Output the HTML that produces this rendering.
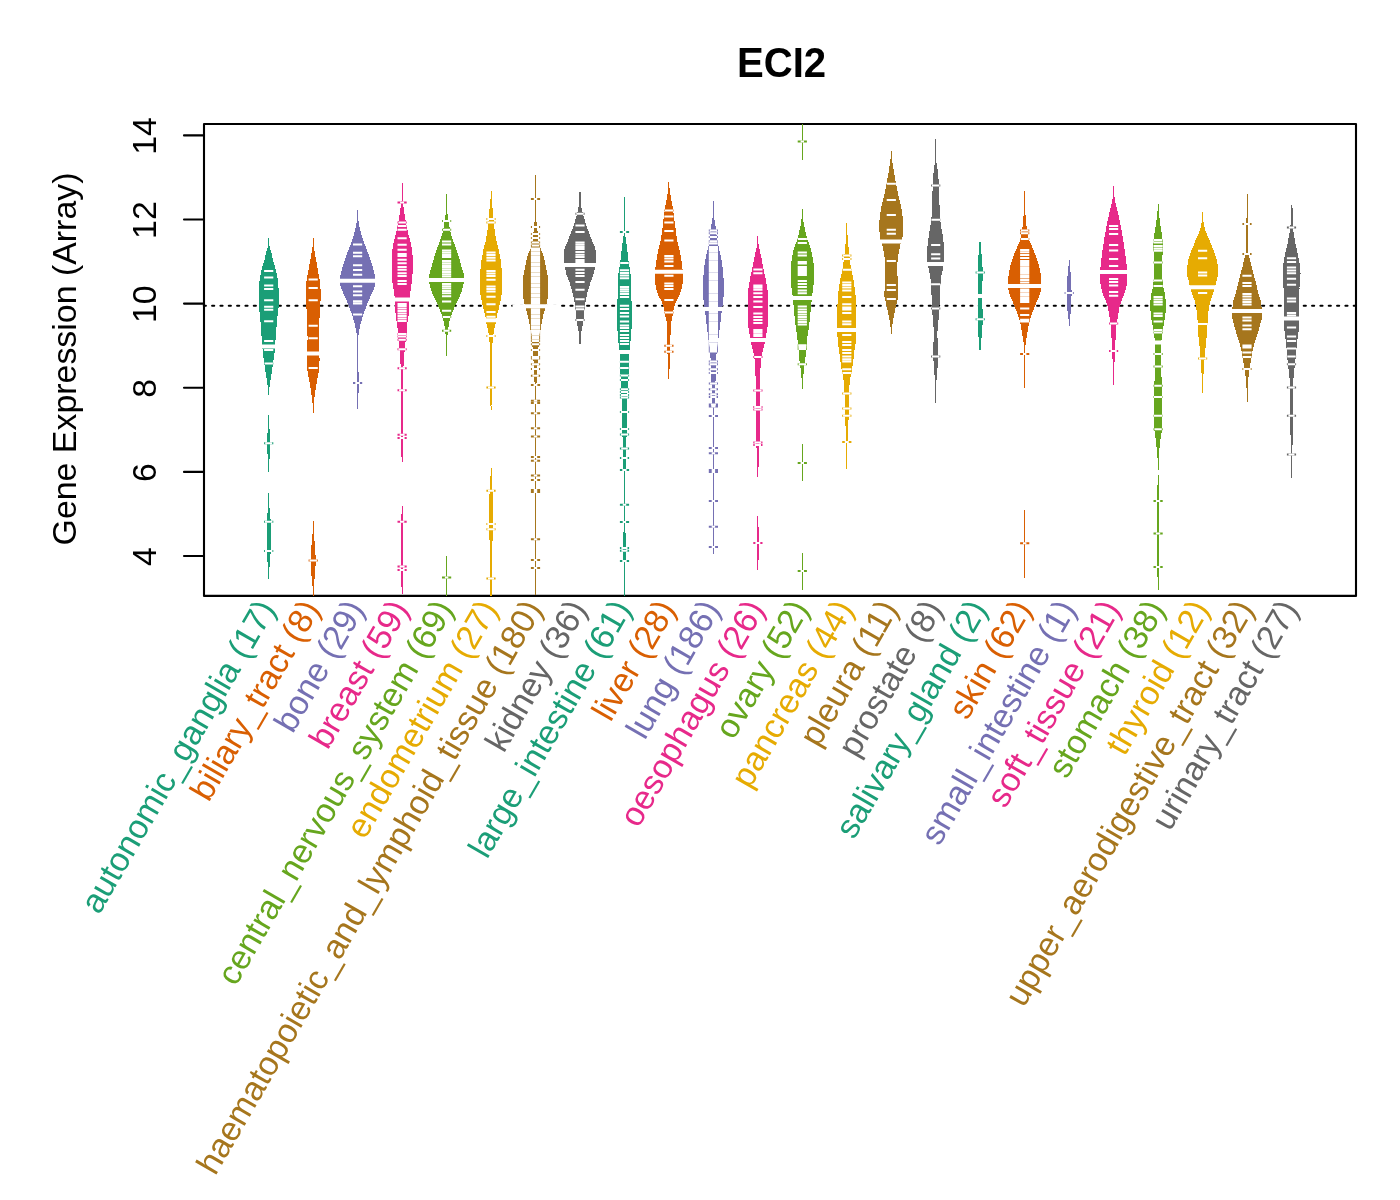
<!DOCTYPE html>
<html><head><meta charset="utf-8"><title>ECI2</title>
<style>html,body{margin:0;padding:0;background:#fff}svg{display:block}</style></head>
<body>
<svg width="1400" height="1200" viewBox="0 0 1400 1200" font-family="'Liberation Sans', sans-serif">
<rect width="1400" height="1200" fill="#fff"/>
<text transform="translate(781.5,76.9) scale(0.953,1)" font-size="42.1" font-weight="bold" text-anchor="middle">ECI2</text>
<rect x="204" y="123.95" width="1152" height="471.95" fill="none" stroke="#000" stroke-width="2.1" stroke-linejoin="round"/>
<line x1="203.8" x2="1356" y1="305.7" y2="305.7" stroke="#000" stroke-width="2.1" stroke-dasharray="2.083 6.25" stroke-linecap="round"/>
<clipPath id="plot"><rect x="204" y="123.95" width="1152" height="471.95"/></clipPath>
<g id="beans" clip-path="url(#plot)">
<g fill="#1B9E77" stroke="#1B9E77" stroke-width="1" shape-rendering="crispEdges"><polygon points="268.7,238.0 268.7,239.5 268.7,241.0 268.7,242.5 268.7,244.0 268.5,245.5 268.2,247.0 267.8,248.5 267.3,250.0 266.9,251.5 266.5,253.0 266.2,254.5 265.9,256.0 265.6,257.5 265.2,259.0 264.9,260.5 264.4,262.0 264.0,263.5 263.5,265.0 263.0,266.5 262.6,268.0 262.2,269.5 261.9,271.0 261.5,272.5 261.2,274.0 260.9,275.5 260.6,277.0 260.3,278.5 260.1,280.0 259.9,281.5 259.7,283.0 259.6,284.5 259.5,286.0 259.4,287.5 259.3,289.0 259.3,290.5 259.2,292.0 259.2,293.5 259.2,295.0 259.2,296.5 259.2,298.0 259.2,299.5 259.2,301.0 259.2,302.5 259.2,304.0 259.2,305.5 259.2,307.0 259.4,308.5 259.7,310.0 259.9,311.5 260.1,313.0 260.3,314.5 260.4,316.0 260.6,317.5 260.7,319.0 260.8,320.5 261.0,322.0 261.1,323.5 261.2,325.0 261.3,326.5 261.5,328.0 261.6,329.5 261.7,331.0 261.8,332.5 261.9,334.0 262.0,335.5 262.1,337.0 262.2,338.5 262.4,340.0 262.5,341.5 262.6,343.0 262.7,344.5 262.8,346.0 262.9,347.5 263.0,349.0 263.2,350.5 263.3,352.0 263.5,353.5 263.6,355.0 263.8,356.5 264.0,358.0 264.3,359.5 264.5,361.0 264.7,362.5 264.9,364.0 265.2,365.5 265.4,367.0 265.6,368.5 265.8,370.0 266.0,371.5 266.3,373.0 266.5,374.5 266.7,376.0 266.9,377.5 267.2,379.0 267.4,380.5 267.6,382.0 267.8,383.5 268.0,385.0 268.2,386.5 268.5,388.0 268.6,389.5 268.7,391.0 268.7,392.5 268.7,394.0 268.7,395.0 268.7,395.0 268.7,394.0 268.7,392.5 268.7,391.0 268.8,389.5 268.9,388.0 269.2,386.5 269.4,385.0 269.6,383.5 269.8,382.0 270.0,380.5 270.2,379.0 270.5,377.5 270.7,376.0 270.9,374.5 271.1,373.0 271.4,371.5 271.6,370.0 271.8,368.5 272.0,367.0 272.2,365.5 272.5,364.0 272.7,362.5 272.9,361.0 273.1,359.5 273.4,358.0 273.6,356.5 273.8,355.0 273.9,353.5 274.1,352.0 274.2,350.5 274.4,349.0 274.5,347.5 274.6,346.0 274.7,344.5 274.8,343.0 274.9,341.5 275.0,340.0 275.2,338.5 275.3,337.0 275.4,335.5 275.5,334.0 275.6,332.5 275.7,331.0 275.8,329.5 275.9,328.0 276.1,326.5 276.2,325.0 276.3,323.5 276.4,322.0 276.6,320.5 276.7,319.0 276.8,317.5 277.0,316.0 277.1,314.5 277.3,313.0 277.5,311.5 277.7,310.0 278.0,308.5 278.2,307.0 278.2,305.5 278.2,304.0 278.2,302.5 278.2,301.0 278.2,299.5 278.2,298.0 278.2,296.5 278.2,295.0 278.2,293.5 278.2,292.0 278.1,290.5 278.1,289.0 278.0,287.5 277.9,286.0 277.8,284.5 277.7,283.0 277.5,281.5 277.3,280.0 277.1,278.5 276.8,277.0 276.5,275.5 276.2,274.0 275.9,272.5 275.5,271.0 275.2,269.5 274.8,268.0 274.4,266.5 273.9,265.0 273.4,263.5 273.0,262.0 272.5,260.5 272.2,259.0 271.8,257.5 271.5,256.0 271.2,254.5 270.9,253.0 270.5,251.5 270.1,250.0 269.6,248.5 269.2,247.0 268.9,245.5 268.7,244.0 268.7,242.5 268.7,241.0 268.7,239.5 268.7,238.0"/><polygon points="268.7,415.0 268.7,416.5 268.7,418.0 268.7,419.5 268.7,421.0 268.7,422.5 268.7,424.0 268.7,425.5 268.6,427.0 268.4,428.5 268.3,430.0 268.2,431.5 268.0,433.0 267.9,434.5 267.8,436.0 267.7,437.5 267.6,439.0 267.6,440.5 267.5,442.0 267.5,443.5 267.5,445.0 267.6,446.5 267.7,448.0 267.8,449.5 267.8,451.0 267.9,452.5 268.0,454.0 268.1,455.5 268.2,457.0 268.3,458.5 268.5,460.0 268.6,461.5 268.7,463.0 268.7,464.5 268.7,466.0 268.7,467.5 268.7,469.0 268.7,470.5 268.7,471.7 268.7,471.7 268.7,470.5 268.7,469.0 268.7,467.5 268.7,466.0 268.7,464.5 268.7,463.0 268.8,461.5 268.9,460.0 269.1,458.5 269.2,457.0 269.3,455.5 269.4,454.0 269.5,452.5 269.6,451.0 269.6,449.5 269.7,448.0 269.8,446.5 269.9,445.0 269.9,443.5 269.9,442.0 269.8,440.5 269.8,439.0 269.7,437.5 269.6,436.0 269.5,434.5 269.4,433.0 269.2,431.5 269.1,430.0 269.0,428.5 268.8,427.0 268.7,425.5 268.7,424.0 268.7,422.5 268.7,421.0 268.7,419.5 268.7,418.0 268.7,416.5 268.7,415.0"/><polygon points="268.7,493.1 268.7,494.6 268.7,496.1 268.7,497.6 268.7,499.1 268.7,500.6 268.7,502.1 268.7,503.6 268.6,505.1 268.5,506.6 268.4,508.1 268.3,509.6 268.1,511.1 268.0,512.6 267.9,514.1 267.8,515.6 267.6,517.1 267.5,518.6 267.3,520.1 267.3,521.6 267.3,523.1 267.3,524.6 267.3,526.1 267.3,527.6 267.3,529.1 267.3,530.6 267.3,532.1 267.3,533.6 267.3,535.1 267.3,536.6 267.3,538.1 267.3,539.6 267.3,541.1 267.3,542.6 267.3,544.1 267.3,545.6 267.3,547.1 267.3,548.6 267.3,550.1 267.3,551.6 267.3,553.1 267.4,554.6 267.5,556.1 267.6,557.6 267.7,559.1 267.8,560.6 268.0,562.1 268.1,563.6 268.2,565.1 268.3,566.6 268.5,568.1 268.6,569.6 268.7,571.1 268.7,572.6 268.7,574.1 268.7,575.6 268.7,577.1 268.7,578.6 268.7,578.6 268.7,577.1 268.7,575.6 268.7,574.1 268.7,572.6 268.7,571.1 268.8,569.6 268.9,568.1 269.1,566.6 269.2,565.1 269.3,563.6 269.4,562.1 269.6,560.6 269.7,559.1 269.8,557.6 269.9,556.1 270.0,554.6 270.1,553.1 270.1,551.6 270.1,550.1 270.1,548.6 270.1,547.1 270.1,545.6 270.1,544.1 270.1,542.6 270.1,541.1 270.1,539.6 270.1,538.1 270.1,536.6 270.1,535.1 270.1,533.6 270.1,532.1 270.1,530.6 270.1,529.1 270.1,527.6 270.1,526.1 270.1,524.6 270.1,523.1 270.1,521.6 270.1,520.1 269.9,518.6 269.8,517.1 269.6,515.6 269.5,514.1 269.4,512.6 269.3,511.1 269.1,509.6 269.0,508.1 268.9,506.6 268.8,505.1 268.7,503.6 268.7,502.1 268.7,500.6 268.7,499.1 268.7,497.6 268.7,496.1 268.7,494.6 268.7,493.1"/></g>
<path d="M264.1 271.1h9.2M264.1 277.6h9.2M264.1 285.6h9.2M264.1 289.0h9.2M264.1 300.2h9.2M264.1 306.8h9.2M264.1 309.7h9.2M264.1 321.2h9.2M264.1 341.0h9.2M264.1 350.0h9.2M264.1 363.5h9.2M264.1 443.3h9.2M264.1 521.7h9.2M264.1 551.0h9.2" stroke="#1B9E77" stroke-width="2.0" fill="none"/>
<path d="M264.1 271.1h9.2M264.1 277.6h9.2M264.1 285.6h9.2M264.1 289.0h9.2M264.1 300.2h9.2M264.1 306.8h9.2M264.1 309.7h9.2M264.1 321.2h9.2M264.1 341.0h9.2M264.1 350.0h9.2M264.5 363.5h8.4M265.2 443.3h7.0M265.0 521.7h7.4M265.0 551.0h7.4" stroke="#fff" stroke-width="2.0" fill="none"/>
<path d="M245.7 346.4h46.0" stroke="#fff" stroke-width="4.0" fill="none"/>
<g fill="#D95F02" stroke="#D95F02" stroke-width="1" shape-rendering="crispEdges"><polygon points="313.2,238.0 313.2,239.5 313.2,241.0 313.2,242.5 313.2,244.0 313.2,245.5 313.0,247.0 312.8,248.5 312.5,250.0 312.3,251.5 312.0,253.0 311.8,254.5 311.5,256.0 311.2,257.5 311.0,259.0 310.7,260.5 310.4,262.0 310.2,263.5 309.9,265.0 309.6,266.5 309.4,268.0 309.1,269.5 308.8,271.0 308.5,272.5 308.2,274.0 307.9,275.5 307.7,277.0 307.4,278.5 307.2,280.0 307.0,281.5 306.8,283.0 306.7,284.5 306.5,286.0 306.4,287.5 306.3,289.0 306.2,290.5 306.1,292.0 306.1,293.5 306.1,295.0 306.1,296.5 306.2,298.0 306.3,299.5 306.4,301.0 306.5,302.5 306.7,304.0 306.8,305.5 306.9,307.0 307.0,308.5 307.1,310.0 307.2,311.5 307.2,313.0 307.3,314.5 307.3,316.0 307.4,317.5 307.4,319.0 307.5,320.5 307.5,322.0 307.6,323.5 307.6,325.0 307.7,326.5 307.7,328.0 307.8,329.5 307.8,331.0 307.9,332.5 307.9,334.0 308.0,335.5 308.0,337.0 308.0,338.5 308.0,340.0 307.9,341.5 307.9,343.0 307.9,344.5 307.9,346.0 307.8,347.5 307.8,349.0 307.8,350.5 307.7,352.0 307.6,353.5 307.5,355.0 307.4,356.5 307.4,358.0 307.4,359.5 307.4,361.0 307.4,362.5 307.5,364.0 307.5,365.5 307.6,367.0 307.7,368.5 307.9,370.0 308.1,371.5 308.4,373.0 308.6,374.5 308.9,376.0 309.2,377.5 309.5,379.0 309.7,380.5 310.0,382.0 310.2,383.5 310.5,385.0 310.7,386.5 311.0,388.0 311.2,389.5 311.5,391.0 311.7,392.5 311.9,394.0 312.1,395.5 312.3,397.0 312.5,398.5 312.7,400.0 312.8,401.5 313.0,403.0 313.1,404.5 313.2,406.0 313.2,407.5 313.2,409.0 313.2,410.5 313.2,412.0 313.2,412.9 313.2,412.9 313.2,412.0 313.2,410.5 313.2,409.0 313.2,407.5 313.2,406.0 313.2,404.5 313.3,403.0 313.5,401.5 313.7,400.0 313.8,398.5 314.0,397.0 314.2,395.5 314.4,394.0 314.6,392.5 314.9,391.0 315.1,389.5 315.3,388.0 315.6,386.5 315.9,385.0 316.1,383.5 316.4,382.0 316.6,380.5 316.9,379.0 317.1,377.5 317.4,376.0 317.7,374.5 318.0,373.0 318.2,371.5 318.4,370.0 318.6,368.5 318.7,367.0 318.8,365.5 318.9,364.0 318.9,362.5 319.0,361.0 319.0,359.5 319.0,358.0 318.9,356.5 318.8,355.0 318.7,353.5 318.6,352.0 318.6,350.5 318.5,349.0 318.5,347.5 318.5,346.0 318.4,344.5 318.4,343.0 318.4,341.5 318.4,340.0 318.4,338.5 318.4,337.0 318.4,335.5 318.4,334.0 318.5,332.5 318.5,331.0 318.6,329.5 318.6,328.0 318.7,326.5 318.7,325.0 318.8,323.5 318.8,322.0 318.9,320.5 318.9,319.0 319.0,317.5 319.0,316.0 319.1,314.5 319.1,313.0 319.2,311.5 319.2,310.0 319.3,308.5 319.4,307.0 319.5,305.5 319.7,304.0 319.8,302.5 320.0,301.0 320.1,299.5 320.2,298.0 320.2,296.5 320.3,295.0 320.2,293.5 320.2,292.0 320.1,290.5 320.0,289.0 319.9,287.5 319.8,286.0 319.7,284.5 319.5,283.0 319.3,281.5 319.1,280.0 318.9,278.5 318.7,277.0 318.4,275.5 318.1,274.0 317.8,272.5 317.5,271.0 317.2,269.5 317.0,268.0 316.7,266.5 316.4,265.0 316.2,263.5 315.9,262.0 315.6,260.5 315.4,259.0 315.1,257.5 314.8,256.0 314.6,254.5 314.3,253.0 314.1,251.5 313.8,250.0 313.5,248.5 313.3,247.0 313.2,245.5 313.2,244.0 313.2,242.5 313.2,241.0 313.2,239.5 313.2,238.0"/><polygon points="313.2,521.0 313.2,522.5 313.2,524.0 313.2,525.5 313.2,527.0 313.2,528.5 313.2,530.0 313.2,531.5 313.1,533.0 312.9,534.5 312.8,536.0 312.7,537.5 312.6,539.0 312.4,540.5 312.3,542.0 312.1,543.5 312.0,545.0 311.8,546.5 311.7,548.0 311.6,549.5 311.5,551.0 311.5,552.5 311.4,554.0 311.3,555.5 311.3,557.0 311.3,558.5 311.3,560.0 311.3,561.5 311.3,563.0 311.3,564.5 311.4,566.0 311.4,567.5 311.4,569.0 311.5,570.5 311.6,572.0 311.7,573.5 311.9,575.0 312.1,576.5 312.3,578.0 312.4,579.5 312.6,581.0 312.7,582.5 312.8,584.0 313.0,585.5 313.1,587.0 313.2,588.5 313.2,590.0 313.2,591.5 313.2,593.0 313.2,594.5 313.2,596.0 313.2,597.0 313.2,597.0 313.2,596.0 313.2,594.5 313.2,593.0 313.2,591.5 313.2,590.0 313.2,588.5 313.2,587.0 313.4,585.5 313.5,584.0 313.6,582.5 313.8,581.0 313.9,579.5 314.1,578.0 314.3,576.5 314.4,575.0 314.6,573.5 314.8,572.0 314.8,570.5 314.9,569.0 314.9,567.5 315.0,566.0 315.0,564.5 315.0,563.0 315.1,561.5 315.1,560.0 315.1,558.5 315.0,557.0 315.0,555.5 314.9,554.0 314.9,552.5 314.8,551.0 314.7,549.5 314.6,548.0 314.5,546.5 314.4,545.0 314.2,543.5 314.1,542.0 313.9,540.5 313.8,539.0 313.7,537.5 313.5,536.0 313.4,534.5 313.3,533.0 313.2,531.5 313.2,530.0 313.2,528.5 313.2,527.0 313.2,525.5 313.2,524.0 313.2,522.5 313.2,521.0"/></g>
<path d="M308.6 279.4h9.2M308.6 288.0h9.2M308.6 300.3h9.2M308.6 325.8h9.2M308.6 338.2h9.2M308.6 368.1h9.2M308.6 560.4h9.2" stroke="#D95F02" stroke-width="2.0" fill="none"/>
<path d="M308.6 279.4h9.2M308.6 288.0h9.2M308.6 300.3h9.2M308.6 325.8h9.2M308.6 338.2h9.2M308.6 368.1h9.2M309.5 560.4h7.4" stroke="#fff" stroke-width="2.0" fill="none"/>
<path d="M290.2 353.6h46.0" stroke="#fff" stroke-width="4.0" fill="none"/>
<g fill="#7570B3" stroke="#7570B3" stroke-width="1" shape-rendering="crispEdges"><polygon points="357.6,209.7 357.6,211.2 357.6,212.7 357.6,214.2 357.6,215.7 357.6,217.2 357.6,218.7 357.4,220.2 357.2,221.7 357.0,223.2 356.7,224.7 356.4,226.2 356.1,227.7 355.8,229.2 355.4,230.7 355.0,232.2 354.6,233.7 354.2,235.2 353.7,236.7 353.3,238.2 352.8,239.7 352.3,241.2 351.7,242.7 351.2,244.2 350.6,245.7 350.0,247.2 349.4,248.7 348.8,250.2 348.3,251.7 347.7,253.2 347.2,254.7 346.6,256.2 346.1,257.7 345.5,259.2 345.0,260.7 344.5,262.2 344.0,263.7 343.5,265.2 343.1,266.7 342.7,268.2 342.3,269.7 341.9,271.2 341.5,272.7 341.2,274.2 340.9,275.7 340.6,277.2 340.4,278.7 340.2,280.2 340.2,281.7 340.4,283.2 340.7,284.7 341.1,286.2 341.6,287.7 342.0,289.2 342.7,290.7 343.4,292.2 344.1,293.7 344.8,295.2 345.5,296.7 346.1,298.2 346.8,299.7 347.4,301.2 348.0,302.7 348.7,304.2 349.3,305.7 349.8,307.2 350.4,308.7 350.9,310.2 351.5,311.7 352.0,313.2 352.5,314.7 353.0,316.2 353.5,317.7 353.9,319.2 354.3,320.7 354.7,322.2 355.1,323.7 355.5,325.2 355.8,326.7 356.1,328.2 356.4,329.7 356.7,331.2 357.0,332.7 357.2,334.2 357.5,335.7 357.6,337.2 357.6,338.7 357.6,340.2 357.6,341.7 357.6,343.2 357.6,344.7 357.6,346.2 357.6,347.7 357.6,349.2 357.6,350.7 357.6,352.2 357.6,353.7 357.6,355.2 357.6,356.7 357.6,358.2 357.6,359.7 357.6,361.2 357.6,362.7 357.6,364.2 357.6,365.7 357.5,367.2 357.4,368.7 357.4,370.2 357.3,371.7 357.3,373.2 357.2,374.7 357.2,376.2 357.2,377.7 357.2,379.2 357.2,380.7 357.2,382.2 357.2,383.7 357.2,385.2 357.2,386.7 357.2,388.2 357.2,389.7 357.3,391.2 357.3,392.7 357.4,394.2 357.5,395.7 357.6,397.2 357.6,398.7 357.6,400.2 357.6,401.7 357.6,403.2 357.6,404.7 357.6,406.2 357.6,407.7 357.6,408.9 357.6,408.9 357.6,407.7 357.6,406.2 357.6,404.7 357.6,403.2 357.6,401.7 357.6,400.2 357.6,398.7 357.7,397.2 357.8,395.7 357.9,394.2 358.0,392.7 358.0,391.2 358.0,389.7 358.0,388.2 358.0,386.7 358.0,385.2 358.0,383.7 358.0,382.2 358.0,380.7 358.0,379.2 358.0,377.7 358.0,376.2 358.0,374.7 358.0,373.2 358.0,371.7 357.9,370.2 357.8,368.7 357.8,367.2 357.7,365.7 357.6,364.2 357.6,362.7 357.6,361.2 357.6,359.7 357.6,358.2 357.6,356.7 357.6,355.2 357.6,353.7 357.6,352.2 357.6,350.7 357.6,349.2 357.6,347.7 357.6,346.2 357.6,344.7 357.6,343.2 357.6,341.7 357.6,340.2 357.6,338.7 357.7,337.2 357.8,335.7 358.1,334.2 358.3,332.7 358.6,331.2 358.8,329.7 359.1,328.2 359.5,326.7 359.8,325.2 360.2,323.7 360.6,322.2 361.0,320.7 361.4,319.2 361.8,317.7 362.3,316.2 362.8,314.7 363.3,313.2 363.8,311.7 364.3,310.2 364.9,308.7 365.5,307.2 366.0,305.7 366.6,304.2 367.2,302.7 367.9,301.2 368.5,299.7 369.2,298.2 369.8,296.7 370.5,295.2 371.1,293.7 371.9,292.2 372.6,290.7 373.2,289.2 373.7,287.7 374.2,286.2 374.6,284.7 374.9,283.2 375.1,281.7 375.1,280.2 374.9,278.7 374.7,277.2 374.4,275.7 374.1,274.2 373.8,272.7 373.4,271.2 373.0,269.7 372.6,268.2 372.2,266.7 371.8,265.2 371.3,263.7 370.8,262.2 370.3,260.7 369.7,259.2 369.2,257.7 368.6,256.2 368.1,254.7 367.6,253.2 367.0,251.7 366.5,250.2 365.9,248.7 365.3,247.2 364.7,245.7 364.1,244.2 363.5,242.7 363.0,241.2 362.5,239.7 362.0,238.2 361.6,236.7 361.1,235.2 360.7,233.7 360.3,232.2 359.9,230.7 359.5,229.2 359.2,227.7 358.8,226.2 358.6,224.7 358.3,223.2 358.1,221.7 357.9,220.2 357.7,218.7 357.6,217.2 357.6,215.7 357.6,214.2 357.6,212.7 357.6,211.2 357.6,209.7"/></g>
<path d="M353.0 244.4h9.2M353.0 252.7h9.2M353.0 256.3h9.2M353.0 265.3h9.2M353.0 269.9h9.2M353.0 274.7h9.2M353.0 286.3h9.2M353.0 291.5h9.2M353.0 295.3h9.2M353.0 301.2h9.2M353.0 303.6h9.2M353.0 314.5h9.2M353.0 383.1h9.2" stroke="#7570B3" stroke-width="2.0" fill="none"/>
<path d="M353.0 244.4h9.2M353.0 252.7h9.2M353.0 256.3h9.2M353.0 265.3h9.2M353.0 269.9h9.2M353.0 274.7h9.2M353.0 286.3h9.2M353.0 291.5h9.2M353.0 295.3h9.2M353.0 301.2h9.2M353.0 303.6h9.2M353.0 314.5h9.2M355.3 383.1h4.6" stroke="#fff" stroke-width="2.0" fill="none"/>
<path d="M334.6 280.8h46.0" stroke="#fff" stroke-width="4.0" fill="none"/>
<g fill="#E7298A" stroke="#E7298A" stroke-width="1" shape-rendering="crispEdges"><polygon points="402.1,182.9 402.1,184.4 402.1,185.9 402.1,187.4 402.1,188.9 402.1,190.4 402.1,191.9 402.1,193.4 402.1,194.9 402.1,196.4 402.1,197.9 402.0,199.4 402.0,200.9 401.9,202.4 401.7,203.9 401.5,205.4 401.3,206.9 401.0,208.4 400.8,209.9 400.6,211.4 400.3,212.9 400.1,214.4 399.9,215.9 399.6,217.4 399.4,218.9 399.1,220.4 398.8,221.9 398.6,223.4 398.3,224.9 398.0,226.4 397.7,227.9 397.4,229.4 397.1,230.9 396.8,232.4 396.4,233.9 396.0,235.4 395.6,236.9 395.2,238.4 394.7,239.9 394.3,241.4 394.0,242.9 393.7,244.4 393.4,245.9 393.2,247.4 393.0,248.9 392.8,250.4 392.6,251.9 392.4,253.4 392.2,254.9 392.1,256.4 392.0,257.9 392.0,259.4 392.0,260.9 392.0,262.4 392.0,263.9 392.0,265.4 392.1,266.9 392.1,268.4 392.1,269.9 392.1,271.4 392.2,272.9 392.2,274.4 392.3,275.9 392.4,277.4 392.6,278.9 392.7,280.4 392.9,281.9 393.1,283.4 393.3,284.9 393.6,286.4 393.8,287.9 394.0,289.4 394.2,290.9 394.5,292.4 394.7,293.9 394.9,295.4 395.1,296.9 395.2,298.4 395.3,299.9 395.4,301.4 395.4,302.9 395.5,304.4 395.5,305.9 395.6,307.4 395.7,308.9 395.8,310.4 395.9,311.9 396.0,313.4 396.2,314.9 396.3,316.4 396.5,317.9 396.7,319.4 397.0,320.9 397.2,322.4 397.5,323.9 397.7,325.4 397.9,326.9 398.0,328.4 398.1,329.9 398.2,331.4 398.3,332.9 398.3,334.4 398.4,335.9 398.6,337.4 398.7,338.9 398.9,340.4 399.2,341.9 399.4,343.4 399.6,344.9 399.7,346.4 399.8,347.9 399.9,349.4 400.1,350.9 400.2,352.4 400.3,353.9 400.4,355.4 400.5,356.9 400.6,358.4 400.7,359.9 400.8,361.4 400.9,362.9 401.0,364.4 401.2,365.9 401.3,367.4 401.4,368.9 401.5,370.4 401.6,371.9 401.6,373.4 401.6,374.9 401.7,376.4 401.7,377.9 401.7,379.4 401.7,380.9 401.7,382.4 401.7,383.9 401.7,385.4 401.8,386.9 401.8,388.4 401.8,389.9 401.8,391.4 401.8,392.9 401.8,394.4 401.8,395.9 401.8,397.4 401.8,398.9 401.8,400.4 401.8,401.9 401.8,403.4 401.8,404.9 401.8,406.4 401.8,407.9 401.8,409.4 401.8,410.9 401.8,412.4 401.8,413.9 401.8,415.4 401.8,416.9 401.8,418.4 401.8,419.9 401.8,421.4 401.7,422.9 401.7,424.4 401.7,425.9 401.7,427.4 401.7,428.9 401.7,430.4 401.6,431.9 401.6,433.4 401.6,434.9 401.6,436.4 401.6,437.9 401.6,439.4 401.6,440.9 401.7,442.4 401.7,443.9 401.7,445.4 401.7,446.9 401.8,448.4 401.8,449.9 401.8,451.4 401.9,452.9 401.9,454.4 401.9,455.9 402.0,457.4 402.1,458.9 402.1,460.4 402.1,461.7 402.1,461.7 402.1,460.4 402.1,458.9 402.2,457.4 402.3,455.9 402.3,454.4 402.4,452.9 402.4,451.4 402.4,449.9 402.4,448.4 402.5,446.9 402.5,445.4 402.5,443.9 402.6,442.4 402.6,440.9 402.6,439.4 402.6,437.9 402.6,436.4 402.6,434.9 402.6,433.4 402.6,431.9 402.6,430.4 402.5,428.9 402.5,427.4 402.5,425.9 402.5,424.4 402.5,422.9 402.5,421.4 402.5,419.9 402.5,418.4 402.5,416.9 402.5,415.4 402.5,413.9 402.5,412.4 402.5,410.9 402.5,409.4 402.5,407.9 402.5,406.4 402.5,404.9 402.5,403.4 402.5,401.9 402.5,400.4 402.5,398.9 402.5,397.4 402.5,395.9 402.5,394.4 402.5,392.9 402.5,391.4 402.5,389.9 402.5,388.4 402.5,386.9 402.5,385.4 402.5,383.9 402.5,382.4 402.5,380.9 402.5,379.4 402.5,377.9 402.6,376.4 402.6,374.9 402.6,373.4 402.6,371.9 402.7,370.4 402.8,368.9 402.9,367.4 403.0,365.9 403.2,364.4 403.3,362.9 403.4,361.4 403.6,359.9 403.7,358.4 403.7,356.9 403.8,355.4 403.9,353.9 404.0,352.4 404.1,350.9 404.3,349.4 404.4,347.9 404.5,346.4 404.6,344.9 404.8,343.4 405.0,341.9 405.3,340.4 405.5,338.9 405.7,337.4 405.8,335.9 405.9,334.4 406.0,332.9 406.1,331.4 406.1,329.9 406.2,328.4 406.4,326.9 406.5,325.4 406.7,323.9 407.0,322.4 407.2,320.9 407.5,319.4 407.7,317.9 407.9,316.4 408.1,314.9 408.2,313.4 408.3,311.9 408.4,310.4 408.5,308.9 408.6,307.4 408.7,305.9 408.7,304.4 408.8,302.9 408.9,301.4 408.9,299.9 409.0,298.4 409.1,296.9 409.3,295.4 409.5,293.9 409.7,292.4 410.0,290.9 410.3,289.4 410.5,287.9 410.7,286.4 410.9,284.9 411.1,283.4 411.3,281.9 411.5,280.4 411.7,278.9 411.8,277.4 411.9,275.9 412.0,274.4 412.0,272.9 412.1,271.4 412.1,269.9 412.1,268.4 412.2,266.9 412.2,265.4 412.2,263.9 412.2,262.4 412.2,260.9 412.2,259.4 412.2,257.9 412.1,256.4 412.0,254.9 411.8,253.4 411.6,251.9 411.4,250.4 411.2,248.9 411.0,247.4 410.8,245.9 410.5,244.4 410.2,242.9 409.9,241.4 409.5,239.9 409.1,238.4 408.6,236.9 408.2,235.4 407.8,233.9 407.5,232.4 407.1,230.9 406.8,229.4 406.5,227.9 406.2,226.4 405.9,224.9 405.6,223.4 405.4,221.9 405.1,220.4 404.8,218.9 404.6,217.4 404.4,215.9 404.1,214.4 403.9,212.9 403.7,211.4 403.4,209.9 403.2,208.4 403.0,206.9 402.7,205.4 402.5,203.9 402.3,202.4 402.2,200.9 402.2,199.4 402.1,197.9 402.1,196.4 402.1,194.9 402.1,193.4 402.1,191.9 402.1,190.4 402.1,188.9 402.1,187.4 402.1,185.9 402.1,184.4 402.1,182.9"/><polygon points="402.1,506.1 402.1,507.6 402.1,509.1 402.1,510.6 402.0,512.1 402.0,513.6 401.9,515.1 401.9,516.6 401.8,518.1 401.8,519.6 401.8,521.1 401.8,522.6 401.8,524.1 401.8,525.6 401.8,527.1 401.8,528.6 401.8,530.1 401.8,531.6 401.8,533.1 401.8,534.6 401.8,536.1 401.8,537.6 401.8,539.1 401.8,540.6 401.8,542.1 401.8,543.6 401.8,545.1 401.8,546.6 401.8,548.1 401.8,549.6 401.8,551.1 401.8,552.6 401.8,554.1 401.8,555.6 401.7,557.1 401.7,558.6 401.7,560.1 401.7,561.6 401.6,563.1 401.6,564.6 401.6,566.1 401.6,567.6 401.6,569.1 401.6,570.6 401.6,572.1 401.6,573.6 401.7,575.1 401.7,576.6 401.7,578.1 401.8,579.6 401.8,581.1 401.8,582.6 401.9,584.1 401.9,585.6 402.0,587.1 402.1,588.6 402.1,590.1 402.1,591.6 402.1,593.1 402.1,594.0 402.1,594.0 402.1,593.1 402.1,591.6 402.1,590.1 402.1,588.6 402.2,587.1 402.3,585.6 402.3,584.1 402.4,582.6 402.4,581.1 402.5,579.6 402.5,578.1 402.5,576.6 402.5,575.1 402.6,573.6 402.6,572.1 402.6,570.6 402.6,569.1 402.6,567.6 402.6,566.1 402.6,564.6 402.6,563.1 402.6,561.6 402.5,560.1 402.5,558.6 402.5,557.1 402.5,555.6 402.4,554.1 402.4,552.6 402.4,551.1 402.4,549.6 402.4,548.1 402.4,546.6 402.4,545.1 402.4,543.6 402.4,542.1 402.4,540.6 402.4,539.1 402.4,537.6 402.4,536.1 402.4,534.6 402.4,533.1 402.4,531.6 402.4,530.1 402.4,528.6 402.4,527.1 402.4,525.6 402.4,524.1 402.4,522.6 402.4,521.1 402.4,519.6 402.4,518.1 402.4,516.6 402.3,515.1 402.3,513.6 402.2,512.1 402.1,510.6 402.1,509.1 402.1,507.6 402.1,506.1"/></g>
<path d="M397.5 202.6h9.2M397.5 222.6h9.2M397.5 226.1h9.2M397.5 229.7h9.2M397.5 238.3h9.2M397.5 244.7h9.2M397.5 249.7h9.2M397.5 254.0h9.2M397.5 256.1h9.2M397.5 259.7h9.2M397.5 263.3h9.2M397.5 266.9h9.2M397.5 269.7h9.2M397.5 273.3h9.2M397.5 276.1h9.2M397.5 281.1h9.2M397.5 284.0h9.2M397.5 304.0h9.2M397.5 306.0h9.2M397.5 308.5h9.2M397.5 311.0h9.2M397.5 313.5h9.2M397.5 316.0h9.2M397.5 318.5h9.2M397.5 321.0h9.2M397.5 333.9h9.2M397.5 336.4h9.2M397.5 339.7h9.2M397.5 349.3h9.2M397.5 368.3h9.2M397.5 390.3h9.2M397.5 434.7h9.2M397.5 437.9h9.2M397.5 521.7h9.2M397.5 566.4h9.2M397.5 570.0h9.2" stroke="#E7298A" stroke-width="2.0" fill="none"/>
<path d="M400.1 202.6h4.0M398.4 222.6h7.5M397.7 226.1h8.8M397.5 229.7h9.2M397.5 238.3h9.2M397.5 244.7h9.2M397.5 249.7h9.2M397.5 254.0h9.2M397.5 256.1h9.2M397.5 259.7h9.2M397.5 263.3h9.2M397.5 266.9h9.2M397.5 269.7h9.2M397.5 273.3h9.2M397.5 276.1h9.2M397.5 281.1h9.2M397.5 284.0h9.2M397.5 304.0h9.2M397.5 306.0h9.2M397.5 308.5h9.2M397.5 311.0h9.2M397.5 313.5h9.2M397.5 316.0h9.2M397.5 318.5h9.2M397.5 321.0h9.2M397.9 333.9h8.5M398.0 336.4h8.1M398.4 339.7h7.4M398.4 349.3h7.4M399.1 368.3h6.0M399.1 390.3h6.0M399.7 434.7h4.9M399.7 437.9h4.9M400.0 521.7h4.3M399.7 566.4h4.9M399.7 570.0h4.9" stroke="#fff" stroke-width="2.0" fill="none"/>
<path d="M379.1 299.5h46.0" stroke="#fff" stroke-width="4.0" fill="none"/>
<g fill="#66A61E" stroke="#66A61E" stroke-width="1" shape-rendering="crispEdges"><polygon points="446.6,194.0 446.6,195.5 446.6,197.0 446.6,198.5 446.6,200.0 446.6,201.5 446.6,203.0 446.6,204.5 446.6,206.0 446.6,207.5 446.6,209.0 446.5,210.5 446.4,212.0 446.2,213.5 446.0,215.0 445.7,216.5 445.5,218.0 445.3,219.5 445.1,221.0 444.9,222.5 444.7,224.0 444.5,225.5 444.2,227.0 444.0,228.5 443.7,230.0 443.4,231.5 443.0,233.0 442.6,234.5 442.1,236.0 441.6,237.5 441.2,239.0 440.6,240.5 440.1,242.0 439.5,243.5 439.0,245.0 438.4,246.5 437.8,248.0 437.3,249.5 436.7,251.0 436.2,252.5 435.7,254.0 435.3,255.5 434.8,257.0 434.4,258.5 434.0,260.0 433.5,261.5 433.1,263.0 432.7,264.5 432.3,266.0 431.9,267.5 431.5,269.0 431.0,270.5 430.5,272.0 430.1,273.5 429.8,275.0 429.7,276.5 429.7,278.0 429.7,279.5 429.7,281.0 429.8,282.5 430.0,284.0 430.4,285.5 430.8,287.0 431.2,288.5 431.6,290.0 432.1,291.5 432.7,293.0 433.3,294.5 433.9,296.0 434.6,297.5 435.4,299.0 436.2,300.5 436.9,302.0 437.6,303.5 438.3,305.0 438.9,306.5 439.5,308.0 440.2,309.5 440.8,311.0 441.4,312.5 442.0,314.0 442.5,315.5 443.0,317.0 443.4,318.5 443.9,320.0 444.2,321.5 444.6,323.0 444.8,324.5 445.0,326.0 445.2,327.5 445.4,329.0 445.6,330.5 445.7,332.0 445.9,333.5 446.1,335.0 446.3,336.5 446.4,338.0 446.4,339.5 446.5,341.0 446.5,342.5 446.5,344.0 446.6,345.5 446.6,347.0 446.6,348.5 446.6,350.0 446.6,351.5 446.6,353.0 446.6,354.5 446.6,356.0 446.6,356.0 446.6,354.5 446.6,353.0 446.6,351.5 446.6,350.0 446.6,348.5 446.6,347.0 446.6,345.5 446.6,344.0 446.6,342.5 446.7,341.0 446.7,339.5 446.8,338.0 446.9,336.5 447.0,335.0 447.2,333.5 447.4,332.0 447.6,330.5 447.8,329.0 447.9,327.5 448.1,326.0 448.3,324.5 448.6,323.0 448.9,321.5 449.3,320.0 449.7,318.5 450.2,317.0 450.7,315.5 451.2,314.0 451.8,312.5 452.4,311.0 453.0,309.5 453.6,308.0 454.2,306.5 454.9,305.0 455.5,303.5 456.2,302.0 457.0,300.5 457.7,299.0 458.5,297.5 459.2,296.0 459.9,294.5 460.5,293.0 461.0,291.5 461.5,290.0 461.9,288.5 462.3,287.0 462.7,285.5 463.1,284.0 463.4,282.5 463.5,281.0 463.5,279.5 463.5,278.0 463.5,276.5 463.3,275.0 463.0,273.5 462.6,272.0 462.2,270.5 461.7,269.0 461.2,267.5 460.8,266.0 460.4,264.5 460.0,263.0 459.6,261.5 459.2,260.0 458.8,258.5 458.3,257.0 457.9,255.5 457.4,254.0 456.9,252.5 456.4,251.0 455.9,249.5 455.3,248.0 454.8,246.5 454.2,245.0 453.6,243.5 453.1,242.0 452.5,240.5 452.0,239.0 451.5,237.5 451.1,236.0 450.6,234.5 450.2,233.0 449.8,231.5 449.4,230.0 449.2,228.5 448.9,227.0 448.7,225.5 448.5,224.0 448.3,222.5 448.0,221.0 447.8,219.5 447.6,218.0 447.4,216.5 447.2,215.0 447.0,213.5 446.8,212.0 446.6,210.5 446.6,209.0 446.6,207.5 446.6,206.0 446.6,204.5 446.6,203.0 446.6,201.5 446.6,200.0 446.6,198.5 446.6,197.0 446.6,195.5 446.6,194.0"/><polygon points="446.6,556.0 446.6,557.5 446.6,559.0 446.6,560.5 446.6,562.0 446.6,563.5 446.6,565.0 446.6,566.5 446.6,568.0 446.6,569.5 446.6,571.0 446.6,572.5 446.6,574.0 446.6,575.5 446.6,577.0 446.6,578.5 446.6,580.0 446.6,581.5 446.6,583.0 446.6,584.5 446.6,586.0 446.6,587.5 446.6,589.0 446.6,590.5 446.6,592.0 446.6,593.5 446.6,595.0 446.6,596.5 446.6,597.0 446.6,597.0 446.6,596.5 446.6,595.0 446.6,593.5 446.6,592.0 446.6,590.5 446.6,589.0 446.6,587.5 446.6,586.0 446.6,584.5 446.6,583.0 446.6,581.5 446.6,580.0 446.6,578.5 446.6,577.0 446.6,575.5 446.6,574.0 446.6,572.5 446.6,571.0 446.6,569.5 446.6,568.0 446.6,566.5 446.6,565.0 446.6,563.5 446.6,562.0 446.6,560.5 446.6,559.0 446.6,557.5 446.6,556.0"/></g>
<path d="M442.0 221.1h9.2M442.0 229.7h9.2M442.0 241.4h9.2M442.0 244.4h9.2M442.0 250.5h9.2M442.0 252.7h9.2M442.0 254.9h9.2M442.0 257.1h9.2M442.0 261.0h9.2M442.0 263.2h9.2M442.0 265.4h9.2M442.0 267.6h9.2M442.0 269.8h9.2M442.0 272.0h9.2M442.0 274.2h9.2M442.0 276.4h9.2M442.0 284.0h9.2M442.0 286.3h9.2M442.0 288.6h9.2M442.0 290.9h9.2M442.0 293.2h9.2M442.0 296.3h9.2M442.0 301.4h9.2M442.0 310.7h9.2M442.0 317.0h9.2M442.0 330.7h9.2M442.0 577.4h9.2" stroke="#66A61E" stroke-width="2.0" fill="none"/>
<path d="M442.9 221.1h7.4M442.9 229.7h7.4M442.0 241.4h9.2M442.0 244.4h9.2M442.0 250.5h9.2M442.0 252.7h9.2M442.0 254.9h9.2M442.0 257.1h9.2M442.0 261.0h9.2M442.0 263.2h9.2M442.0 265.4h9.2M442.0 267.6h9.2M442.0 269.8h9.2M442.0 272.0h9.2M442.0 274.2h9.2M442.0 276.4h9.2M442.0 284.0h9.2M442.0 286.3h9.2M442.0 288.6h9.2M442.0 290.9h9.2M442.0 293.2h9.2M442.0 296.3h9.2M442.0 301.4h9.2M442.0 310.7h9.2M442.7 317.0h7.7M443.5 330.7h6.1M444.9 577.4h3.4" stroke="#fff" stroke-width="2.0" fill="none"/>
<path d="M423.6 280.0h46.0" stroke="#fff" stroke-width="4.0" fill="none"/>
<g fill="#E6AB02" stroke="#E6AB02" stroke-width="1" shape-rendering="crispEdges"><polygon points="491.0,191.1 491.0,192.6 491.0,194.1 491.0,195.6 491.0,197.1 491.0,198.6 490.9,200.1 490.8,201.6 490.7,203.1 490.5,204.6 490.3,206.1 490.2,207.6 490.0,209.1 489.9,210.6 489.8,212.1 489.6,213.6 489.5,215.1 489.4,216.6 489.3,218.1 489.2,219.6 489.0,221.1 488.9,222.6 488.7,224.1 488.5,225.6 488.4,227.1 488.2,228.6 487.9,230.1 487.7,231.6 487.5,233.1 487.3,234.6 487.0,236.1 486.8,237.6 486.5,239.1 486.2,240.6 485.9,242.1 485.5,243.6 485.1,245.1 484.7,246.6 484.3,248.1 484.0,249.6 483.6,251.1 483.3,252.6 483.1,254.1 482.8,255.6 482.5,257.1 482.2,258.6 482.0,260.1 481.8,261.6 481.5,263.1 481.4,264.6 481.2,266.1 481.1,267.6 481.0,269.1 480.9,270.6 480.8,272.1 480.7,273.6 480.6,275.1 480.5,276.6 480.5,278.1 480.5,279.6 480.4,281.1 480.5,282.6 480.5,284.1 480.5,285.6 480.6,287.1 480.6,288.6 480.7,290.1 480.8,291.6 480.9,293.1 481.0,294.6 481.2,296.1 481.4,297.6 481.8,299.1 482.1,300.6 482.4,302.1 482.8,303.6 483.1,305.1 483.4,306.6 483.8,308.1 484.1,309.6 484.5,311.1 484.9,312.6 485.3,314.1 485.7,315.6 486.0,317.1 486.2,318.6 486.4,320.1 486.6,321.6 486.9,323.1 487.2,324.6 487.5,326.1 487.9,327.6 488.3,329.1 488.6,330.6 488.9,332.1 489.1,333.6 489.2,335.1 489.4,336.6 489.6,338.1 489.7,339.6 489.9,341.1 490.1,342.6 490.2,344.1 490.3,345.6 490.3,347.1 490.4,348.6 490.5,350.1 490.5,351.6 490.5,353.1 490.5,354.6 490.5,356.1 490.5,357.6 490.5,359.1 490.5,360.6 490.5,362.1 490.5,363.6 490.5,365.1 490.5,366.6 490.5,368.1 490.5,369.6 490.5,371.1 490.5,372.6 490.5,374.1 490.5,375.6 490.5,377.1 490.5,378.6 490.5,380.1 490.5,381.6 490.5,383.1 490.5,384.6 490.5,386.1 490.5,387.6 490.5,389.1 490.5,390.6 490.5,392.1 490.5,393.6 490.5,395.1 490.5,396.6 490.5,398.1 490.5,399.6 490.6,401.1 490.8,402.6 490.9,404.1 491.0,405.6 491.0,407.1 491.0,408.6 491.0,410.0 491.0,410.0 491.0,408.6 491.0,407.1 491.0,405.6 491.2,404.1 491.3,402.6 491.5,401.1 491.5,399.6 491.5,398.1 491.5,396.6 491.5,395.1 491.5,393.6 491.5,392.1 491.5,390.6 491.5,389.1 491.5,387.6 491.5,386.1 491.5,384.6 491.5,383.1 491.5,381.6 491.5,380.1 491.5,378.6 491.5,377.1 491.5,375.6 491.5,374.1 491.5,372.6 491.5,371.1 491.5,369.6 491.5,368.1 491.5,366.6 491.5,365.1 491.5,363.6 491.5,362.1 491.5,360.6 491.5,359.1 491.5,357.6 491.5,356.1 491.6,354.6 491.6,353.1 491.6,351.6 491.6,350.1 491.7,348.6 491.8,347.1 491.8,345.6 491.9,344.1 492.0,342.6 492.2,341.1 492.4,339.6 492.5,338.1 492.7,336.6 492.9,335.1 493.0,333.6 493.2,332.1 493.5,330.6 493.8,329.1 494.2,327.6 494.6,326.1 494.9,324.6 495.2,323.1 495.5,321.6 495.7,320.1 495.9,318.6 496.1,317.1 496.4,315.6 496.8,314.1 497.2,312.6 497.6,311.1 498.0,309.6 498.3,308.1 498.7,306.6 499.0,305.1 499.3,303.6 499.6,302.1 500.0,300.6 500.3,299.1 500.7,297.6 500.9,296.1 501.1,294.6 501.2,293.1 501.3,291.6 501.4,290.1 501.5,288.6 501.5,287.1 501.6,285.6 501.6,284.1 501.6,282.6 501.6,281.1 501.6,279.6 501.6,278.1 501.6,276.6 501.5,275.1 501.4,273.6 501.3,272.1 501.2,270.6 501.1,269.1 501.0,267.6 500.9,266.1 500.7,264.6 500.6,263.1 500.3,261.6 500.1,260.1 499.9,258.6 499.6,257.1 499.3,255.6 499.0,254.1 498.7,252.6 498.5,251.1 498.1,249.6 497.8,248.1 497.4,246.6 497.0,245.1 496.6,243.6 496.2,242.1 495.9,240.6 495.6,239.1 495.3,237.6 495.1,236.1 494.8,234.6 494.6,233.1 494.4,231.6 494.2,230.1 493.9,228.6 493.7,227.1 493.6,225.6 493.4,224.1 493.2,222.6 493.1,221.1 492.9,219.6 492.8,218.1 492.7,216.6 492.6,215.1 492.5,213.6 492.3,212.1 492.2,210.6 492.1,209.1 491.9,207.6 491.8,206.1 491.6,204.6 491.4,203.1 491.3,201.6 491.2,200.1 491.0,198.6 491.0,197.1 491.0,195.6 491.0,194.1 491.0,192.6 491.0,191.1"/><polygon points="491.0,468.1 491.0,469.6 491.0,471.1 491.0,472.6 491.0,474.1 491.0,475.6 490.9,477.1 490.8,478.6 490.7,480.1 490.6,481.6 490.5,483.1 490.5,484.6 490.4,486.1 490.3,487.6 490.2,489.1 490.1,490.6 490.1,492.1 490.0,493.6 489.9,495.1 489.9,496.6 489.8,498.1 489.8,499.6 489.7,501.1 489.7,502.6 489.7,504.1 489.6,505.6 489.6,507.1 489.6,508.6 489.6,510.1 489.6,511.6 489.6,513.1 489.6,514.6 489.6,516.1 489.6,517.6 489.5,519.1 489.5,520.6 489.5,522.1 489.5,523.6 489.5,525.1 489.5,526.6 489.5,528.1 489.5,529.6 489.5,531.1 489.5,532.6 489.6,534.1 489.6,535.6 489.8,537.1 489.9,538.6 490.0,540.1 490.2,541.6 490.3,543.1 490.3,544.6 490.4,546.1 490.5,547.6 490.5,549.1 490.5,550.6 490.5,552.1 490.5,553.6 490.5,555.1 490.5,556.6 490.5,558.1 490.5,559.6 490.5,561.1 490.5,562.6 490.5,564.1 490.5,565.6 490.5,567.1 490.5,568.6 490.5,570.1 490.5,571.6 490.5,573.1 490.5,574.6 490.5,576.1 490.5,577.6 490.5,579.1 490.5,580.6 490.5,582.1 490.5,583.6 490.5,585.1 490.5,586.6 490.5,588.1 490.5,589.6 490.5,591.1 490.5,592.6 490.5,594.1 490.5,595.6 490.5,597.0 491.5,597.0 491.5,595.6 491.5,594.1 491.5,592.6 491.5,591.1 491.5,589.6 491.5,588.1 491.5,586.6 491.5,585.1 491.5,583.6 491.5,582.1 491.5,580.6 491.5,579.1 491.5,577.6 491.5,576.1 491.5,574.6 491.5,573.1 491.5,571.6 491.5,570.1 491.5,568.6 491.5,567.1 491.5,565.6 491.5,564.1 491.5,562.6 491.5,561.1 491.5,559.6 491.5,558.1 491.5,556.6 491.5,555.1 491.5,553.6 491.5,552.1 491.5,550.6 491.6,549.1 491.6,547.6 491.7,546.1 491.8,544.6 491.8,543.1 491.9,541.6 492.1,540.1 492.2,538.6 492.3,537.1 492.5,535.6 492.5,534.1 492.5,532.6 492.5,531.1 492.5,529.6 492.5,528.1 492.5,526.6 492.5,525.1 492.5,523.6 492.5,522.1 492.5,520.6 492.5,519.1 492.5,517.6 492.5,516.1 492.5,514.6 492.5,513.1 492.5,511.6 492.5,510.1 492.5,508.6 492.5,507.1 492.5,505.6 492.4,504.1 492.4,502.6 492.4,501.1 492.3,499.6 492.3,498.1 492.2,496.6 492.2,495.1 492.1,493.6 492.0,492.1 492.0,490.6 491.9,489.1 491.8,487.6 491.7,486.1 491.6,484.6 491.6,483.1 491.5,481.6 491.4,480.1 491.3,478.6 491.2,477.1 491.1,475.6 491.0,474.1 491.0,472.6 491.0,471.1 491.0,469.6 491.0,468.1"/></g>
<path d="M486.4 219.0h9.2M486.4 222.6h9.2M486.4 252.4h9.2M486.4 254.9h9.2M486.4 257.7h9.2M486.4 260.6h9.2M486.4 271.0h9.2M486.4 273.5h9.2M486.4 276.0h9.2M486.4 279.7h9.2M486.4 286.5h9.2M486.4 289.0h9.2M486.4 291.5h9.2M486.4 296.8h9.2M486.4 304.3h9.2M486.4 312.1h9.2M486.4 316.8h9.2M486.4 336.0h9.2M486.4 387.4h9.2M486.4 490.7h9.2M486.4 524.0h9.2M486.4 529.3h9.2M486.4 578.6h9.2" stroke="#E6AB02" stroke-width="2.0" fill="none"/>
<path d="M487.3 219.0h7.4M487.3 222.6h7.4M486.4 252.4h9.2M486.4 254.9h9.2M486.4 257.7h9.2M486.4 260.6h9.2M486.4 271.0h9.2M486.4 273.5h9.2M486.4 276.0h9.2M486.4 279.7h9.2M486.4 286.5h9.2M486.4 289.0h9.2M486.4 291.5h9.2M486.4 296.8h9.2M486.4 304.3h9.2M486.4 312.1h9.2M486.4 316.8h9.2M487.3 336.0h7.4M488.0 387.4h6.0M488.0 490.7h6.0M487.3 524.0h7.4M487.3 529.3h7.4M488.0 578.6h6.0" stroke="#fff" stroke-width="2.0" fill="none"/>
<path d="M468.0 320.3h46.0" stroke="#fff" stroke-width="4.0" fill="none"/>
<g fill="#A6761D" stroke="#A6761D" stroke-width="1" shape-rendering="crispEdges"><polygon points="535.5,175.0 535.5,176.5 535.5,178.0 535.5,179.5 535.5,181.0 535.5,182.5 535.5,184.0 535.5,185.5 535.5,187.0 535.5,188.5 535.5,190.0 535.5,191.5 535.5,193.0 535.5,194.5 535.5,196.0 535.5,197.5 535.5,199.0 535.5,200.5 535.5,202.0 535.5,203.5 535.5,205.0 535.5,206.5 535.5,208.0 535.5,209.5 535.5,211.0 535.5,212.5 535.5,214.0 535.5,215.5 535.5,217.0 535.5,218.5 535.5,220.0 535.2,221.5 534.7,223.0 534.5,224.5 534.3,226.0 534.2,227.5 534.2,229.0 534.1,230.5 534.0,232.0 533.8,233.5 533.7,235.0 533.6,236.5 533.5,238.0 533.3,239.5 533.1,241.0 532.8,242.5 532.4,244.0 532.0,245.5 531.5,247.0 531.1,248.5 530.4,250.0 529.7,251.5 529.1,253.0 528.6,254.5 528.2,256.0 527.7,257.5 527.3,259.0 527.0,260.5 526.6,262.0 526.3,263.5 526.0,265.0 525.7,266.5 525.4,268.0 525.1,269.5 524.8,271.0 524.5,272.5 524.2,274.0 524.0,275.5 523.8,277.0 523.6,278.5 523.5,280.0 523.5,281.5 523.5,283.0 523.5,284.5 523.5,286.0 523.5,287.5 523.5,289.0 523.5,290.5 523.5,292.0 523.5,293.5 523.5,295.0 523.6,296.5 523.8,298.0 524.1,299.5 524.4,301.0 524.8,302.5 525.1,304.0 525.5,305.5 525.9,307.0 526.3,308.5 526.7,310.0 527.2,311.5 527.6,313.0 528.0,314.5 528.4,316.0 528.8,317.5 529.1,319.0 529.4,320.5 529.6,322.0 529.9,323.5 530.2,325.0 530.4,326.5 530.7,328.0 530.9,329.5 531.2,331.0 531.5,332.5 531.8,334.0 532.1,335.5 532.3,337.0 532.5,338.5 532.6,340.0 532.6,341.5 532.7,343.0 532.8,344.5 532.9,346.0 533.1,347.5 533.2,349.0 533.4,350.5 533.5,352.0 533.6,353.5 533.7,355.0 533.8,356.5 533.9,358.0 533.9,359.5 534.0,361.0 534.1,362.5 534.1,364.0 534.2,365.5 534.2,367.0 534.3,368.5 534.3,370.0 534.4,371.5 534.4,373.0 534.5,374.5 534.5,376.0 534.6,377.5 534.7,379.0 534.8,380.5 535.0,382.0 535.2,383.5 535.3,385.0 535.4,386.5 535.5,388.0 535.5,389.5 535.5,391.0 535.5,392.5 535.5,394.0 535.5,395.5 535.5,397.0 535.5,398.5 535.5,400.0 535.5,401.5 535.5,403.0 535.5,404.5 535.5,406.0 535.5,407.5 535.5,409.0 535.5,410.5 535.5,412.0 535.5,413.5 535.5,415.0 535.5,416.5 535.5,418.0 535.5,419.5 535.5,421.0 535.5,422.5 535.5,424.0 535.5,425.5 535.5,427.0 535.5,428.5 535.5,430.0 535.5,431.5 535.5,433.0 535.5,434.5 535.5,436.0 535.5,437.5 535.5,439.0 535.5,440.5 535.5,442.0 535.5,443.5 535.5,445.0 535.5,446.5 535.5,448.0 535.5,449.5 535.5,451.0 535.5,452.5 535.5,454.0 535.5,455.5 535.5,457.0 535.5,458.5 535.5,460.0 535.5,461.5 535.5,463.0 535.5,464.5 535.5,466.0 535.5,467.5 535.5,469.0 535.5,470.5 535.5,472.0 535.5,473.5 535.5,475.0 535.5,476.5 535.5,478.0 535.5,479.5 535.5,481.0 535.5,482.5 535.5,484.0 535.5,485.5 535.5,487.0 535.5,488.5 535.5,490.0 535.5,491.5 535.5,493.0 535.5,494.5 535.5,496.0 535.5,497.5 535.5,499.0 535.5,500.5 535.5,502.0 535.5,503.5 535.5,505.0 535.5,506.5 535.5,508.0 535.5,509.5 535.5,511.0 535.5,512.5 535.5,514.0 535.5,515.5 535.5,517.0 535.5,518.5 535.5,520.0 535.5,521.5 535.5,523.0 535.5,524.5 535.5,526.0 535.5,527.5 535.5,529.0 535.5,530.5 535.5,532.0 535.5,533.5 535.5,535.0 535.5,536.5 535.5,538.0 535.5,539.5 535.5,541.0 535.5,542.5 535.5,544.0 535.5,545.5 535.5,547.0 535.5,548.5 535.5,550.0 535.5,551.5 535.5,553.0 535.5,554.5 535.5,556.0 535.5,557.5 535.5,559.0 535.5,560.5 535.5,562.0 535.5,563.5 535.5,565.0 535.5,566.5 535.5,568.0 535.5,569.5 535.5,571.0 535.5,572.5 535.5,574.0 535.5,575.5 535.5,577.0 535.5,578.5 535.5,580.0 535.5,581.5 535.5,583.0 535.5,584.5 535.5,586.0 535.5,587.5 535.5,589.0 535.5,590.5 535.5,592.0 535.5,593.5 535.5,595.0 535.5,595.0 535.5,593.5 535.5,592.0 535.5,590.5 535.5,589.0 535.5,587.5 535.5,586.0 535.5,584.5 535.5,583.0 535.5,581.5 535.5,580.0 535.5,578.5 535.5,577.0 535.5,575.5 535.5,574.0 535.5,572.5 535.5,571.0 535.5,569.5 535.5,568.0 535.5,566.5 535.5,565.0 535.5,563.5 535.5,562.0 535.5,560.5 535.5,559.0 535.5,557.5 535.5,556.0 535.5,554.5 535.5,553.0 535.5,551.5 535.5,550.0 535.5,548.5 535.5,547.0 535.5,545.5 535.5,544.0 535.5,542.5 535.5,541.0 535.5,539.5 535.5,538.0 535.5,536.5 535.5,535.0 535.5,533.5 535.5,532.0 535.5,530.5 535.5,529.0 535.5,527.5 535.5,526.0 535.5,524.5 535.5,523.0 535.5,521.5 535.5,520.0 535.5,518.5 535.5,517.0 535.5,515.5 535.5,514.0 535.5,512.5 535.5,511.0 535.5,509.5 535.5,508.0 535.5,506.5 535.5,505.0 535.5,503.5 535.5,502.0 535.5,500.5 535.5,499.0 535.5,497.5 535.5,496.0 535.5,494.5 535.5,493.0 535.5,491.5 535.5,490.0 535.5,488.5 535.5,487.0 535.5,485.5 535.5,484.0 535.5,482.5 535.5,481.0 535.5,479.5 535.5,478.0 535.5,476.5 535.5,475.0 535.5,473.5 535.5,472.0 535.5,470.5 535.5,469.0 535.5,467.5 535.5,466.0 535.5,464.5 535.5,463.0 535.5,461.5 535.5,460.0 535.5,458.5 535.5,457.0 535.5,455.5 535.5,454.0 535.5,452.5 535.5,451.0 535.5,449.5 535.5,448.0 535.5,446.5 535.5,445.0 535.5,443.5 535.5,442.0 535.5,440.5 535.5,439.0 535.5,437.5 535.5,436.0 535.5,434.5 535.5,433.0 535.5,431.5 535.5,430.0 535.5,428.5 535.5,427.0 535.5,425.5 535.5,424.0 535.5,422.5 535.5,421.0 535.5,419.5 535.5,418.0 535.5,416.5 535.5,415.0 535.5,413.5 535.5,412.0 535.5,410.5 535.5,409.0 535.5,407.5 535.5,406.0 535.5,404.5 535.5,403.0 535.5,401.5 535.5,400.0 535.5,398.5 535.5,397.0 535.5,395.5 535.5,394.0 535.5,392.5 535.5,391.0 535.6,389.5 535.6,388.0 535.6,386.5 535.7,385.0 535.9,383.5 536.1,382.0 536.2,380.5 536.3,379.0 536.4,377.5 536.5,376.0 536.6,374.5 536.6,373.0 536.7,371.5 536.7,370.0 536.8,368.5 536.8,367.0 536.9,365.5 536.9,364.0 537.0,362.5 537.0,361.0 537.1,359.5 537.2,358.0 537.3,356.5 537.3,355.0 537.4,353.5 537.5,352.0 537.7,350.5 537.8,349.0 538.0,347.5 538.1,346.0 538.3,344.5 538.3,343.0 538.4,341.5 538.5,340.0 538.6,338.5 538.7,337.0 539.0,335.5 539.3,334.0 539.6,332.5 539.9,331.0 540.1,329.5 540.4,328.0 540.6,326.5 540.9,325.0 541.1,323.5 541.4,322.0 541.7,320.5 542.0,319.0 542.3,317.5 542.6,316.0 543.0,314.5 543.4,313.0 543.9,311.5 544.3,310.0 544.7,308.5 545.2,307.0 545.6,305.5 545.9,304.0 546.3,302.5 546.6,301.0 547.0,299.5 547.2,298.0 547.4,296.5 547.5,295.0 547.5,293.5 547.5,292.0 547.5,290.5 547.5,289.0 547.5,287.5 547.5,286.0 547.5,284.5 547.5,283.0 547.5,281.5 547.5,280.0 547.4,278.5 547.3,277.0 547.0,275.5 546.8,274.0 546.5,272.5 546.2,271.0 545.9,269.5 545.6,268.0 545.3,266.5 545.1,265.0 544.7,263.5 544.4,262.0 544.1,260.5 543.7,259.0 543.3,257.5 542.9,256.0 542.4,254.5 542.0,253.0 541.4,251.5 540.6,250.0 540.0,248.5 539.5,247.0 539.0,245.5 538.6,244.0 538.3,242.5 538.0,241.0 537.8,239.5 537.6,238.0 537.4,236.5 537.3,235.0 537.2,233.5 537.1,232.0 537.0,230.5 536.9,229.0 536.8,227.5 536.7,226.0 536.6,224.5 536.3,223.0 535.9,221.5 535.5,220.0 535.5,218.5 535.5,217.0 535.5,215.5 535.5,214.0 535.5,212.5 535.5,211.0 535.5,209.5 535.5,208.0 535.5,206.5 535.5,205.0 535.5,203.5 535.5,202.0 535.5,200.5 535.5,199.0 535.5,197.5 535.5,196.0 535.5,194.5 535.5,193.0 535.5,191.5 535.5,190.0 535.5,188.5 535.5,187.0 535.5,185.5 535.5,184.0 535.5,182.5 535.5,181.0 535.5,179.5 535.5,178.0 535.5,176.5 535.5,175.0"/></g>
<path d="M530.9 199.0h9.2M530.9 226.9h9.2M530.9 234.0h9.2M530.9 237.9h9.2M530.9 242.6h9.2M530.9 245.4h9.2M530.9 248.5h9.2M530.9 250.6h9.2M530.9 252.7h9.2M530.9 254.8h9.2M530.9 256.9h9.2M530.9 259.0h9.2M530.9 261.1h9.2M530.9 263.2h9.2M530.9 265.3h9.2M530.9 267.4h9.2M530.9 269.5h9.2M530.9 271.6h9.2M530.9 273.7h9.2M530.9 275.8h9.2M530.9 277.9h9.2M530.9 280.0h9.2M530.9 282.1h9.2M530.9 284.2h9.2M530.9 286.3h9.2M530.9 288.4h9.2M530.9 290.5h9.2M530.9 292.6h9.2M530.9 294.7h9.2M530.9 296.8h9.2M530.9 298.9h9.2M530.9 301.0h9.2M530.9 303.1h9.2M530.9 305.2h9.2M530.9 307.3h9.2M530.9 309.4h9.2M530.9 311.5h9.2M530.9 313.6h9.2M530.9 315.7h9.2M530.9 317.8h9.2M530.9 319.9h9.2M530.9 322.0h9.2M530.9 324.1h9.2M530.9 326.2h9.2M530.9 328.3h9.2M530.9 330.4h9.2M530.9 332.5h9.2M530.9 334.6h9.2M530.9 336.7h9.2M530.9 338.8h9.2M530.9 340.9h9.2M530.9 344.3h9.2M530.9 350.0h9.2M530.9 357.1h9.2M530.9 358.6h9.2M530.9 364.3h9.2M530.9 368.9h9.2M530.9 375.7h9.2M530.9 385.0h9.2M530.9 400.7h9.2M530.9 402.9h9.2M530.9 413.3h9.2M530.9 428.3h9.2M530.9 436.4h9.2M530.9 457.1h9.2M530.9 460.7h9.2M530.9 475.4h9.2M530.9 480.0h9.2M530.9 490.0h9.2M530.9 492.1h9.2M530.9 539.3h9.2M530.9 560.0h9.2M530.9 567.9h9.2" stroke="#A6761D" stroke-width="2.0" fill="none"/>
<path d="M533.8 199.0h3.4M532.0 226.9h7.0M531.8 234.0h7.4M531.8 237.9h7.4M531.8 242.6h7.4M531.8 245.4h7.5M530.9 248.5h9.2M530.9 250.6h9.2M530.9 252.7h9.2M530.9 254.8h9.2M530.9 256.9h9.2M530.9 259.0h9.2M530.9 261.1h9.2M530.9 263.2h9.2M530.9 265.3h9.2M530.9 267.4h9.2M530.9 269.5h9.2M530.9 271.6h9.2M530.9 273.7h9.2M530.9 275.8h9.2M530.9 277.9h9.2M530.9 280.0h9.2M530.9 282.1h9.2M530.9 284.2h9.2M530.9 286.3h9.2M530.9 288.4h9.2M530.9 290.5h9.2M530.9 292.6h9.2M530.9 294.7h9.2M530.9 296.8h9.2M530.9 298.9h9.2M530.9 301.0h9.2M530.9 303.1h9.2M530.9 305.2h9.2M530.9 307.3h9.2M530.9 309.4h9.2M530.9 311.5h9.2M530.9 313.6h9.2M530.9 315.7h9.2M530.9 317.8h9.2M530.9 319.9h9.2M530.9 322.0h9.2M530.9 324.1h9.2M530.9 326.2h9.2M530.9 328.3h9.2M530.9 330.4h9.2M531.1 332.5h8.8M531.6 334.6h7.9M531.8 336.7h7.4M531.8 338.8h7.4M531.8 340.9h7.4M531.8 344.3h7.4M531.8 350.0h7.4M531.8 357.1h7.4M531.8 358.6h7.4M531.8 364.3h7.4M532.0 368.9h7.0M532.4 375.7h6.3M533.6 385.0h3.8M533.8 400.7h3.4M533.8 402.9h3.4M533.8 413.3h3.4M533.8 428.3h3.4M533.8 436.4h3.4M533.8 457.1h3.4M533.8 460.7h3.4M533.8 475.4h3.4M533.8 480.0h3.4M533.8 490.0h3.4M533.8 492.1h3.4M533.8 539.3h3.4M533.8 560.0h3.4M533.8 567.9h3.4" stroke="#fff" stroke-width="2.0" fill="none"/>
<path d="M512.5 306.2h46.0" stroke="#fff" stroke-width="4.0" fill="none"/>
<g fill="#666666" stroke="#666666" stroke-width="1" shape-rendering="crispEdges"><polygon points="579.7,192.3 579.4,193.8 579.4,195.3 579.4,196.8 579.3,198.3 579.3,199.8 579.3,201.3 579.3,202.8 579.3,204.3 579.3,205.8 579.0,207.3 578.7,208.8 578.4,210.3 578.0,211.8 577.7,213.3 577.3,214.8 576.9,216.3 576.4,217.8 576.0,219.3 575.6,220.8 575.1,222.3 574.7,223.8 574.2,225.3 573.7,226.8 573.1,228.3 572.6,229.8 572.0,231.3 571.4,232.8 570.9,234.3 570.3,235.8 569.7,237.3 569.2,238.8 568.6,240.3 568.0,241.8 567.3,243.3 566.6,244.8 566.0,246.3 565.5,247.8 565.0,249.3 564.7,250.8 564.6,252.3 564.6,253.8 564.6,255.3 564.6,256.8 564.6,258.3 564.6,259.8 564.6,261.3 564.6,262.8 564.8,264.3 565.2,265.8 565.5,267.3 565.8,268.8 566.1,270.3 566.4,271.8 566.7,273.3 567.1,274.8 567.7,276.3 568.3,277.8 568.9,279.3 569.5,280.8 570.0,282.3 570.5,283.8 570.9,285.3 571.3,286.8 571.8,288.3 572.2,289.8 572.6,291.3 573.0,292.8 573.4,294.3 573.8,295.8 574.1,297.3 574.4,298.8 574.7,300.3 574.9,301.8 575.2,303.3 575.4,304.8 575.7,306.3 575.9,307.8 576.1,309.3 576.3,310.8 576.4,312.3 576.6,313.8 576.7,315.3 576.8,316.8 576.9,318.3 577.0,319.8 577.1,321.3 577.4,322.8 577.7,324.3 578.0,325.8 578.2,327.3 578.6,328.8 578.9,330.3 579.1,331.8 579.3,333.3 579.4,334.8 579.5,336.3 579.5,337.8 579.5,339.3 579.5,340.8 579.6,342.3 579.7,343.7 580.3,343.7 580.4,342.3 580.4,340.8 580.5,339.3 580.5,337.8 580.5,336.3 580.6,334.8 580.7,333.3 580.9,331.8 581.1,330.3 581.4,328.8 581.7,327.3 582.0,325.8 582.3,324.3 582.6,322.8 582.9,321.3 583.0,319.8 583.1,318.3 583.2,316.8 583.3,315.3 583.4,313.8 583.6,312.3 583.7,310.8 583.9,309.3 584.1,307.8 584.3,306.3 584.5,304.8 584.8,303.3 585.0,301.8 585.3,300.3 585.6,298.8 585.9,297.3 586.2,295.8 586.6,294.3 586.9,292.8 587.3,291.3 587.8,289.8 588.2,288.3 588.6,286.8 589.1,285.3 589.5,283.8 590.0,282.3 590.5,280.8 591.1,279.3 591.7,277.8 592.3,276.3 592.9,274.8 593.3,273.3 593.6,271.8 593.9,270.3 594.1,268.8 594.4,267.3 594.8,265.8 595.2,264.3 595.4,262.8 595.4,261.3 595.4,259.8 595.4,258.3 595.4,256.8 595.4,255.3 595.4,253.8 595.4,252.3 595.3,250.8 594.9,249.3 594.5,247.8 594.0,246.3 593.3,244.8 592.7,243.3 592.0,241.8 591.4,240.3 590.8,238.8 590.2,237.3 589.7,235.8 589.1,234.3 588.6,232.8 588.0,231.3 587.4,229.8 586.9,228.3 586.3,226.8 585.8,225.3 585.3,223.8 584.9,222.3 584.4,220.8 584.0,219.3 583.5,217.8 583.1,216.3 582.7,214.8 582.3,213.3 582.0,211.8 581.6,210.3 581.3,208.8 580.9,207.3 580.7,205.8 580.7,204.3 580.7,202.8 580.6,201.3 580.6,199.8 580.6,198.3 580.6,196.8 580.6,195.3 580.6,193.8 580.3,192.3"/></g>
<path d="M575.4 213.7h9.2M575.4 225.4h9.2M575.4 231.9h9.2M575.4 242.6h9.2M575.4 244.7h9.2M575.4 246.9h9.2M575.4 249.0h9.2M575.4 251.9h9.2M575.4 254.7h9.2M575.4 256.9h9.2M575.4 260.0h9.2M575.4 261.9h9.2M575.4 269.7h9.2M575.4 273.0h9.2M575.4 276.1h9.2M575.4 281.9h9.2M575.4 289.7h9.2M575.4 299.3h9.2M575.4 306.4h9.2M575.4 309.3h9.2M575.4 320.0h9.2" stroke="#666666" stroke-width="2.0" fill="none"/>
<path d="M576.3 213.7h7.4M575.4 225.4h9.2M575.4 231.9h9.2M575.4 242.6h9.2M575.4 244.7h9.2M575.4 246.9h9.2M575.4 249.0h9.2M575.4 251.9h9.2M575.4 254.7h9.2M575.4 256.9h9.2M575.4 260.0h9.2M575.4 261.9h9.2M575.4 269.7h9.2M575.4 273.0h9.2M575.4 276.1h9.2M575.4 281.9h9.2M575.4 289.7h9.2M575.4 299.3h9.2M575.4 306.4h9.2M575.7 309.3h8.6M576.3 320.0h7.4" stroke="#fff" stroke-width="2.0" fill="none"/>
<path d="M557.0 264.9h46.0" stroke="#fff" stroke-width="4.0" fill="none"/>
<g fill="#1B9E77" stroke="#1B9E77" stroke-width="1" shape-rendering="crispEdges"><polygon points="624.5,197.1 624.5,198.6 624.5,200.1 624.5,201.6 624.5,203.1 624.5,204.6 624.5,206.1 624.5,207.6 624.5,209.1 624.5,210.6 624.5,212.1 624.5,213.6 624.5,215.1 624.5,216.6 624.5,218.1 624.5,219.6 624.5,221.1 624.5,222.6 624.5,224.1 624.5,225.6 624.5,227.1 624.5,228.6 624.5,230.1 624.4,231.6 624.3,233.1 624.2,234.6 624.0,236.1 623.8,237.6 623.7,239.1 623.5,240.6 623.2,242.1 623.0,243.6 622.8,245.1 622.6,246.6 622.4,248.1 622.2,249.6 622.0,251.1 621.9,252.6 621.7,254.1 621.5,255.6 621.4,257.1 621.2,258.6 621.0,260.1 620.8,261.6 620.6,263.1 620.3,264.6 620.1,266.1 619.8,267.6 619.6,269.1 619.3,270.6 619.1,272.1 618.9,273.6 618.8,275.1 618.7,276.6 618.7,278.1 618.6,279.6 618.6,281.1 618.5,282.6 618.5,284.1 618.4,285.6 618.4,287.1 618.3,288.6 618.3,290.1 618.3,291.6 618.2,293.1 618.2,294.6 618.1,296.1 618.1,297.6 618.0,299.1 617.9,300.6 617.9,302.1 617.8,303.6 617.7,305.1 617.7,306.6 617.7,308.1 617.7,309.6 617.7,311.1 617.7,312.6 617.7,314.1 617.7,315.6 617.7,317.1 617.7,318.6 617.7,320.1 617.7,321.6 617.7,323.1 617.7,324.6 617.7,326.1 617.8,327.6 617.9,329.1 618.0,330.6 618.1,332.1 618.3,333.6 618.4,335.1 618.6,336.6 618.7,338.1 618.8,339.6 618.9,341.1 619.0,342.6 619.1,344.1 619.2,345.6 619.4,347.1 619.5,348.6 619.6,350.1 619.8,351.6 620.0,353.1 620.2,354.6 620.3,356.1 620.4,357.6 620.4,359.1 620.5,360.6 620.5,362.1 620.5,363.6 620.5,365.1 620.6,366.6 620.6,368.1 620.7,369.6 620.8,371.1 620.9,372.6 621.0,374.1 621.1,375.6 621.1,377.1 621.2,378.6 621.3,380.1 621.4,381.6 621.5,383.1 621.6,384.6 621.6,386.1 621.7,387.6 621.8,389.1 621.9,390.6 621.9,392.1 622.0,393.6 622.1,395.1 622.1,396.6 622.2,398.1 622.3,399.6 622.4,401.1 622.4,402.6 622.5,404.1 622.5,405.6 622.6,407.1 622.6,408.6 622.7,410.1 622.7,411.6 622.7,413.1 622.8,414.6 622.8,416.1 622.8,417.6 622.8,419.1 622.8,420.6 622.8,422.1 622.9,423.6 622.9,425.1 622.9,426.6 622.9,428.1 622.9,429.6 622.9,431.1 622.9,432.6 622.9,434.1 622.9,435.6 623.0,437.1 623.0,438.6 623.0,440.1 623.1,441.6 623.1,443.1 623.2,444.6 623.3,446.1 623.3,447.6 623.4,449.1 623.4,450.6 623.5,452.1 623.5,453.6 623.5,455.1 623.5,456.6 623.5,458.1 623.5,459.6 623.5,461.1 623.5,462.6 623.5,464.1 623.6,465.6 623.6,467.1 623.8,468.6 624.0,470.1 624.3,471.6 624.4,473.1 624.5,474.6 624.5,476.1 624.5,477.6 624.5,479.1 624.5,480.6 624.5,482.1 624.5,483.6 624.5,485.1 624.5,486.6 624.5,488.1 624.5,489.6 624.5,491.1 624.5,492.6 624.5,494.1 624.5,495.6 624.5,497.1 624.5,498.6 624.5,500.1 624.5,501.6 624.5,503.1 624.5,504.6 624.5,506.1 624.5,507.6 624.5,509.1 624.5,510.6 624.5,512.1 624.5,513.6 624.5,515.1 624.5,516.6 624.5,518.1 624.5,519.6 624.5,521.1 624.4,522.6 624.4,524.1 624.4,525.6 624.3,527.1 624.2,528.6 624.1,530.1 624.0,531.6 623.9,533.1 623.8,534.6 623.7,536.1 623.6,537.6 623.6,539.1 623.6,540.6 623.6,542.1 623.6,543.6 623.6,545.1 623.6,546.6 623.6,548.1 623.6,549.6 623.6,551.1 623.6,552.6 623.6,554.1 623.6,555.6 623.7,557.1 623.8,558.6 623.9,560.1 624.1,561.6 624.2,563.1 624.3,564.6 624.4,566.1 624.4,567.6 624.4,569.1 624.4,570.6 624.4,572.1 624.5,573.6 624.5,575.1 624.5,576.6 624.5,578.1 624.5,579.6 624.5,581.1 624.5,582.6 624.5,584.1 624.5,585.6 624.5,587.1 624.5,588.6 624.5,590.1 624.5,591.6 624.5,593.1 624.5,594.6 624.5,596.1 624.5,597.0 624.5,597.0 624.5,596.1 624.5,594.6 624.5,593.1 624.5,591.6 624.5,590.1 624.5,588.6 624.5,587.1 624.5,585.6 624.5,584.1 624.5,582.6 624.5,581.1 624.5,579.6 624.5,578.1 624.5,576.6 624.5,575.1 624.5,573.6 624.5,572.1 624.5,570.6 624.5,569.1 624.5,567.6 624.6,566.1 624.6,564.6 624.7,563.1 624.8,561.6 625.0,560.1 625.1,558.6 625.2,557.1 625.3,555.6 625.4,554.1 625.4,552.6 625.4,551.1 625.4,549.6 625.4,548.1 625.4,546.6 625.4,545.1 625.4,543.6 625.4,542.1 625.4,540.6 625.4,539.1 625.3,537.6 625.2,536.1 625.1,534.6 625.0,533.1 624.9,531.6 624.8,530.1 624.7,528.6 624.6,527.1 624.6,525.6 624.5,524.1 624.5,522.6 624.5,521.1 624.5,519.6 624.5,518.1 624.5,516.6 624.5,515.1 624.5,513.6 624.5,512.1 624.5,510.6 624.5,509.1 624.5,507.6 624.5,506.1 624.5,504.6 624.5,503.1 624.5,501.6 624.5,500.1 624.5,498.6 624.5,497.1 624.5,495.6 624.5,494.1 624.5,492.6 624.5,491.1 624.5,489.6 624.5,488.1 624.5,486.6 624.5,485.1 624.5,483.6 624.5,482.1 624.5,480.6 624.5,479.1 624.5,477.6 624.5,476.1 624.5,474.6 624.5,473.1 624.7,471.6 624.9,470.1 625.1,468.6 625.3,467.1 625.4,465.6 625.4,464.1 625.4,462.6 625.4,461.1 625.4,459.6 625.4,458.1 625.4,456.6 625.4,455.1 625.4,453.6 625.5,452.1 625.5,450.6 625.5,449.1 625.6,447.6 625.7,446.1 625.7,444.6 625.8,443.1 625.9,441.6 625.9,440.1 625.9,438.6 626.0,437.1 626.0,435.6 626.0,434.1 626.0,432.6 626.0,431.1 626.0,429.6 626.0,428.1 626.0,426.6 626.0,425.1 626.1,423.6 626.1,422.1 626.1,420.6 626.1,419.1 626.1,417.6 626.1,416.1 626.2,414.6 626.2,413.1 626.2,411.6 626.2,410.1 626.3,408.6 626.3,407.1 626.4,405.6 626.4,404.1 626.5,402.6 626.6,401.1 626.6,399.6 626.7,398.1 626.8,396.6 626.9,395.1 626.9,393.6 627.0,392.1 627.1,390.6 627.1,389.1 627.2,387.6 627.3,386.1 627.4,384.6 627.4,383.1 627.5,381.6 627.6,380.1 627.7,378.6 627.8,377.1 627.9,375.6 628.0,374.1 628.1,372.6 628.2,371.1 628.2,369.6 628.3,368.1 628.4,366.6 628.4,365.1 628.4,363.6 628.4,362.1 628.5,360.6 628.5,359.1 628.5,357.6 628.6,356.1 628.7,354.6 628.9,353.1 629.1,351.6 629.3,350.1 629.4,348.6 629.6,347.1 629.7,345.6 629.8,344.1 629.9,342.6 630.0,341.1 630.1,339.6 630.2,338.1 630.4,336.6 630.5,335.1 630.6,333.6 630.8,332.1 630.9,330.6 631.0,329.1 631.1,327.6 631.2,326.1 631.3,324.6 631.3,323.1 631.3,321.6 631.3,320.1 631.3,318.6 631.3,317.1 631.3,315.6 631.3,314.1 631.3,312.6 631.3,311.1 631.3,309.6 631.3,308.1 631.2,306.6 631.2,305.1 631.1,303.6 631.1,302.1 631.0,300.6 630.9,299.1 630.9,297.6 630.8,296.1 630.7,294.6 630.7,293.1 630.7,291.6 630.6,290.1 630.6,288.6 630.5,287.1 630.5,285.6 630.5,284.1 630.4,282.6 630.4,281.1 630.3,279.6 630.3,278.1 630.2,276.6 630.1,275.1 630.0,273.6 629.9,272.1 629.6,270.6 629.3,269.1 629.1,267.6 628.8,266.1 628.6,264.6 628.4,263.1 628.1,261.6 627.9,260.1 627.7,258.6 627.6,257.1 627.4,255.6 627.2,254.1 627.1,252.6 626.9,251.1 626.7,249.6 626.5,248.1 626.3,246.6 626.1,245.1 625.9,243.6 625.7,242.1 625.4,240.6 625.3,239.1 625.1,237.6 624.9,236.1 624.8,234.6 624.6,233.1 624.5,231.6 624.5,230.1 624.5,228.6 624.5,227.1 624.5,225.6 624.5,224.1 624.5,222.6 624.5,221.1 624.5,219.6 624.5,218.1 624.5,216.6 624.5,215.1 624.5,213.6 624.5,212.1 624.5,210.6 624.5,209.1 624.5,207.6 624.5,206.1 624.5,204.6 624.5,203.1 624.5,201.6 624.5,200.1 624.5,198.6 624.5,197.1"/></g>
<path d="M619.9 231.9h9.2M619.9 263.0h9.2M619.9 270.3h9.2M619.9 272.9h9.2M619.9 275.4h9.2M619.9 278.3h9.2M619.9 287.0h9.2M619.9 289.3h9.2M619.9 291.6h9.2M619.9 293.9h9.2M619.9 297.0h9.2M619.9 305.7h9.2M619.9 309.0h9.2M619.9 313.0h9.2M619.9 316.5h9.2M619.9 321.5h9.2M619.9 325.5h9.2M619.9 328.0h9.2M619.9 331.0h9.2M619.9 335.0h9.2M619.9 338.0h9.2M619.9 341.0h9.2M619.9 344.0h9.2M619.9 361.8h9.2M619.9 367.9h9.2M619.9 375.4h9.2M619.9 380.0h9.2M619.9 389.3h9.2M619.9 392.0h9.2M619.9 395.0h9.2M619.9 397.5h9.2M619.9 412.1h9.2M619.9 429.0h9.2M619.9 434.5h9.2M619.9 448.6h9.2M619.9 457.9h9.2M619.9 470.0h9.2M619.9 504.7h9.2M619.9 522.1h9.2M619.9 547.9h9.2M619.9 550.7h9.2M619.9 561.1h9.2" stroke="#1B9E77" stroke-width="2.0" fill="none"/>
<path d="M622.7 231.9h3.5M620.2 263.0h8.5M619.9 270.3h9.2M619.9 272.9h9.2M619.9 275.4h9.2M619.9 278.3h9.2M619.9 287.0h9.2M619.9 289.3h9.2M619.9 291.6h9.2M619.9 293.9h9.2M619.9 297.0h9.2M619.9 305.7h9.2M619.9 309.0h9.2M619.9 313.0h9.2M619.9 316.5h9.2M619.9 321.5h9.2M619.9 325.5h9.2M619.9 328.0h9.2M619.9 331.0h9.2M619.9 335.0h9.2M619.9 338.0h9.2M619.9 341.0h9.2M619.9 344.0h9.2M620.0 361.8h8.9M620.1 367.9h8.6M620.6 375.4h7.7M620.8 380.0h7.4M620.8 389.3h7.4M620.8 392.0h7.4M620.8 395.0h7.4M620.8 397.5h7.4M620.8 412.1h7.4M620.8 429.0h7.4M620.8 434.5h7.4M621.2 448.6h6.6M621.3 457.9h6.3M622.3 470.0h4.3M622.8 504.7h3.4M622.7 522.1h3.4M621.4 547.9h6.1M621.4 550.7h6.1M622.3 561.1h4.4" stroke="#fff" stroke-width="2.0" fill="none"/>
<path d="M601.5 352.1h46.0" stroke="#fff" stroke-width="4.0" fill="none"/>
<g fill="#D95F02" stroke="#D95F02" stroke-width="1" shape-rendering="crispEdges"><polygon points="668.9,181.9 668.9,183.4 668.9,184.9 668.9,186.4 668.8,187.9 668.7,189.4 668.4,190.9 668.2,192.4 668.0,193.9 667.7,195.4 667.5,196.9 667.2,198.4 667.0,199.9 666.7,201.4 666.5,202.9 666.2,204.4 665.9,205.9 665.7,207.4 665.5,208.9 665.2,210.4 665.0,211.9 664.8,213.4 664.6,214.9 664.4,216.4 664.2,217.9 664.0,219.4 663.8,220.9 663.6,222.4 663.4,223.9 663.2,225.4 663.1,226.9 662.9,228.4 662.7,229.9 662.5,231.4 662.3,232.9 662.1,234.4 661.9,235.9 661.7,237.4 661.4,238.9 661.1,240.4 660.8,241.9 660.5,243.4 660.1,244.9 659.7,246.4 659.4,247.9 659.0,249.4 658.7,250.9 658.4,252.4 658.1,253.9 657.8,255.4 657.5,256.9 657.3,258.4 657.0,259.9 656.7,261.4 656.5,262.9 656.3,264.4 656.1,265.9 656.0,267.4 655.8,268.9 655.7,270.4 655.6,271.9 655.5,273.4 655.4,274.9 655.4,276.4 655.5,277.9 655.5,279.4 655.5,280.9 655.6,282.4 655.8,283.9 656.0,285.4 656.3,286.9 656.6,288.4 657.0,289.9 657.5,291.4 658.0,292.9 658.6,294.4 659.2,295.9 660.0,297.4 660.8,298.9 661.6,300.4 662.3,301.9 662.8,303.4 663.4,304.9 663.9,306.4 664.3,307.9 664.7,309.4 664.9,310.9 665.2,312.4 665.4,313.9 665.7,315.4 665.9,316.9 666.3,318.4 666.7,319.9 667.0,321.4 667.3,322.9 667.4,324.4 667.5,325.9 667.6,327.4 667.7,328.9 667.7,330.4 667.8,331.9 667.9,333.4 667.9,334.9 667.9,336.4 667.9,337.9 667.9,339.4 667.9,340.9 667.9,342.4 667.9,343.9 667.9,345.4 667.9,346.9 667.9,348.4 667.9,349.9 667.9,351.4 667.9,352.9 668.0,354.4 668.0,355.9 668.1,357.4 668.2,358.9 668.3,360.4 668.4,361.9 668.5,363.4 668.6,364.9 668.7,366.4 668.8,367.9 668.9,369.4 668.9,370.9 668.9,372.4 668.9,373.9 668.9,375.4 668.9,376.9 668.9,378.4 668.9,378.6 668.9,378.6 668.9,378.4 668.9,376.9 668.9,375.4 668.9,373.9 668.9,372.4 668.9,370.9 669.0,369.4 669.0,367.9 669.1,366.4 669.2,364.9 669.3,363.4 669.4,361.9 669.5,360.4 669.7,358.9 669.7,357.4 669.8,355.9 669.9,354.4 669.9,352.9 669.9,351.4 669.9,349.9 669.9,348.4 669.9,346.9 669.9,345.4 669.9,343.9 669.9,342.4 669.9,340.9 669.9,339.4 669.9,337.9 669.9,336.4 670.0,334.9 670.0,333.4 670.0,331.9 670.1,330.4 670.2,328.9 670.3,327.4 670.4,325.9 670.5,324.4 670.6,322.9 670.9,321.4 671.2,319.9 671.6,318.4 671.9,316.9 672.2,315.4 672.4,313.9 672.7,312.4 672.9,310.9 673.2,309.4 673.6,307.9 674.0,306.4 674.5,304.9 675.0,303.4 675.6,301.9 676.3,300.4 677.1,298.9 677.9,297.4 678.6,295.9 679.3,294.4 679.8,292.9 680.4,291.4 680.9,289.9 681.2,288.4 681.6,286.9 681.8,285.4 682.1,283.9 682.3,282.4 682.3,280.9 682.4,279.4 682.4,277.9 682.4,276.4 682.4,274.9 682.4,273.4 682.3,271.9 682.2,270.4 682.0,268.9 681.9,267.4 681.7,265.9 681.5,264.4 681.3,262.9 681.1,261.4 680.9,259.9 680.6,258.4 680.3,256.9 680.1,255.4 679.8,253.9 679.5,252.4 679.2,250.9 678.9,249.4 678.5,247.9 678.1,246.4 677.8,244.9 677.4,243.4 677.0,241.9 676.7,240.4 676.4,238.9 676.2,237.4 676.0,235.9 675.7,234.4 675.5,232.9 675.4,231.4 675.2,229.9 675.0,228.4 674.8,226.9 674.6,225.4 674.4,223.9 674.2,222.4 674.0,220.9 673.8,219.4 673.6,217.9 673.4,216.4 673.3,214.9 673.1,213.4 672.8,211.9 672.6,210.4 672.4,208.9 672.2,207.4 671.9,205.9 671.7,204.4 671.4,202.9 671.1,201.4 670.9,199.9 670.6,198.4 670.4,196.9 670.1,195.4 669.9,193.9 669.7,192.4 669.4,190.9 669.2,189.4 669.0,187.9 668.9,186.4 668.9,184.9 668.9,183.4 668.9,181.9"/></g>
<path d="M664.3 210.4h9.2M664.3 216.4h9.2M664.3 222.6h9.2M664.3 231.1h9.2M664.3 240.4h9.2M664.3 256.0h9.2M664.3 258.6h9.2M664.3 261.4h9.2M664.3 266.1h9.2M664.3 275.7h9.2M664.3 283.4h9.2M664.3 286.0h9.2M664.3 289.0h9.2M664.3 300.0h9.2M664.3 312.6h9.2M664.3 345.7h9.2M664.3 351.7h9.2" stroke="#D95F02" stroke-width="2.0" fill="none"/>
<path d="M664.8 210.4h8.2M664.3 216.4h9.2M664.3 222.6h9.2M664.3 231.1h9.2M664.3 240.4h9.2M664.3 256.0h9.2M664.3 258.6h9.2M664.3 261.4h9.2M664.3 266.1h9.2M664.3 275.7h9.2M664.3 283.4h9.2M664.3 286.0h9.2M664.3 289.0h9.2M664.3 300.0h9.2M664.8 312.6h8.2M665.7 345.7h6.4M665.7 351.7h6.4" stroke="#fff" stroke-width="2.0" fill="none"/>
<path d="M645.9 271.8h46.0" stroke="#fff" stroke-width="4.0" fill="none"/>
<g fill="#7570B3" stroke="#7570B3" stroke-width="1" shape-rendering="crispEdges"><polygon points="713.4,201.1 713.4,202.6 713.4,204.1 713.4,205.6 713.4,207.1 713.4,208.6 713.4,210.1 713.3,211.6 713.3,213.1 713.3,214.6 713.3,216.1 713.1,217.6 712.9,219.1 712.6,220.6 712.3,222.1 712.1,223.6 711.9,225.1 711.7,226.6 711.6,228.1 711.4,229.6 711.2,231.1 711.0,232.6 710.9,234.1 710.6,235.6 710.4,237.1 710.2,238.6 710.0,240.1 709.7,241.6 709.4,243.1 709.2,244.6 708.9,246.1 708.5,247.6 708.1,249.1 707.8,250.6 707.4,252.1 707.1,253.6 706.8,255.1 706.5,256.6 706.2,258.1 705.9,259.6 705.6,261.1 705.4,262.6 705.2,264.1 705.0,265.6 704.8,267.1 704.6,268.6 704.5,270.1 704.3,271.6 704.1,273.1 704.0,274.6 703.9,276.1 703.8,277.6 703.7,279.1 703.7,280.6 703.7,282.1 703.7,283.6 703.7,285.1 703.7,286.6 703.7,288.1 703.7,289.6 703.7,291.1 703.7,292.6 703.7,294.1 703.7,295.6 703.8,297.1 703.9,298.6 704.0,300.1 704.2,301.6 704.4,303.1 704.6,304.6 704.8,306.1 705.0,307.6 705.2,309.1 705.5,310.6 705.7,312.1 705.9,313.6 706.0,315.1 706.2,316.6 706.3,318.1 706.5,319.6 706.6,321.1 706.8,322.6 707.0,324.1 707.1,325.6 707.3,327.1 707.5,328.6 707.8,330.1 708.0,331.6 708.2,333.1 708.4,334.6 708.6,336.1 708.8,337.6 708.9,339.1 709.1,340.6 709.3,342.1 709.4,343.6 709.6,345.1 709.9,346.6 710.1,348.1 710.4,349.6 710.6,351.1 710.7,352.6 710.8,354.1 710.9,355.6 710.9,357.1 711.1,358.6 711.2,360.1 711.3,361.6 711.5,363.1 711.6,364.6 711.6,366.1 711.6,367.6 711.6,369.1 711.6,370.6 711.6,372.1 711.6,373.6 711.6,375.1 711.6,376.6 711.6,378.1 711.7,379.6 711.8,381.1 712.0,382.6 712.1,384.1 712.3,385.6 712.4,387.1 712.4,388.6 712.4,390.1 712.4,391.6 712.4,393.1 712.4,394.6 712.4,396.1 712.4,397.6 712.5,399.1 712.5,400.6 712.6,402.1 712.7,403.6 712.8,405.1 713.0,406.6 713.2,408.1 713.3,409.6 713.3,411.1 713.4,412.6 713.4,414.1 713.4,415.6 713.4,417.1 713.4,418.6 713.4,420.1 713.4,421.6 713.4,423.1 713.4,424.6 713.4,426.1 713.4,427.6 713.4,429.1 713.4,430.6 713.4,432.1 713.4,433.6 713.4,435.1 713.4,436.6 713.4,438.1 713.4,439.6 713.4,441.1 713.4,442.6 713.4,444.1 713.4,445.6 713.4,447.1 713.4,448.6 713.4,450.1 713.4,451.6 713.4,453.1 713.4,454.6 713.4,456.1 713.4,457.6 713.4,459.1 713.4,460.6 713.4,462.1 713.4,463.6 713.4,465.1 713.4,466.6 713.4,468.1 713.4,469.6 713.4,471.1 713.4,472.6 713.4,474.1 713.4,475.6 713.4,477.1 713.4,478.6 713.4,480.1 713.4,481.6 713.4,483.1 713.4,484.6 713.4,486.1 713.4,487.6 713.4,489.1 713.4,490.6 713.4,492.1 713.4,493.6 713.4,495.1 713.4,496.6 713.4,498.1 713.4,499.6 713.4,501.1 713.4,502.6 713.4,504.1 713.4,505.6 713.4,507.1 713.4,508.6 713.4,510.1 713.4,511.6 713.4,513.1 713.4,514.6 713.4,516.1 713.4,517.6 713.4,519.1 713.4,520.6 713.4,522.1 713.4,523.6 713.4,525.1 713.4,526.6 713.4,528.1 713.4,529.6 713.4,531.1 713.4,532.6 713.4,534.1 713.4,535.6 713.4,537.1 713.4,538.6 713.4,540.1 713.4,541.6 713.4,543.1 713.4,544.6 713.4,546.1 713.4,547.6 713.4,549.1 713.4,550.6 713.4,552.1 713.4,553.6 713.4,553.9 713.4,553.9 713.4,553.6 713.4,552.1 713.4,550.6 713.4,549.1 713.4,547.6 713.4,546.1 713.4,544.6 713.4,543.1 713.4,541.6 713.4,540.1 713.4,538.6 713.4,537.1 713.4,535.6 713.4,534.1 713.4,532.6 713.4,531.1 713.4,529.6 713.4,528.1 713.4,526.6 713.4,525.1 713.4,523.6 713.4,522.1 713.4,520.6 713.4,519.1 713.4,517.6 713.4,516.1 713.4,514.6 713.4,513.1 713.4,511.6 713.4,510.1 713.4,508.6 713.4,507.1 713.4,505.6 713.4,504.1 713.4,502.6 713.4,501.1 713.4,499.6 713.4,498.1 713.4,496.6 713.4,495.1 713.4,493.6 713.4,492.1 713.4,490.6 713.4,489.1 713.4,487.6 713.4,486.1 713.4,484.6 713.4,483.1 713.4,481.6 713.4,480.1 713.4,478.6 713.4,477.1 713.4,475.6 713.4,474.1 713.4,472.6 713.4,471.1 713.4,469.6 713.4,468.1 713.4,466.6 713.4,465.1 713.4,463.6 713.4,462.1 713.4,460.6 713.4,459.1 713.4,457.6 713.4,456.1 713.4,454.6 713.4,453.1 713.4,451.6 713.4,450.1 713.4,448.6 713.4,447.1 713.4,445.6 713.4,444.1 713.4,442.6 713.4,441.1 713.4,439.6 713.4,438.1 713.4,436.6 713.4,435.1 713.4,433.6 713.4,432.1 713.4,430.6 713.4,429.1 713.4,427.6 713.4,426.1 713.4,424.6 713.4,423.1 713.4,421.6 713.4,420.1 713.4,418.6 713.4,417.1 713.4,415.6 713.4,414.1 713.4,412.6 713.5,411.1 713.5,409.6 713.6,408.1 713.8,406.6 714.0,405.1 714.1,403.6 714.2,402.1 714.3,400.6 714.3,399.1 714.4,397.6 714.4,396.1 714.4,394.6 714.4,393.1 714.4,391.6 714.4,390.1 714.4,388.6 714.4,387.1 714.5,385.6 714.7,384.1 714.8,382.6 715.0,381.1 715.1,379.6 715.2,378.1 715.2,376.6 715.2,375.1 715.2,373.6 715.2,372.1 715.2,370.6 715.2,369.1 715.2,367.6 715.2,366.1 715.2,364.6 715.3,363.1 715.5,361.6 715.6,360.1 715.7,358.6 715.9,357.1 715.9,355.6 716.0,354.1 716.1,352.6 716.2,351.1 716.4,349.6 716.7,348.1 716.9,346.6 717.2,345.1 717.4,343.6 717.5,342.1 717.7,340.6 717.9,339.1 718.0,337.6 718.2,336.1 718.4,334.6 718.6,333.1 718.8,331.6 719.0,330.1 719.3,328.6 719.5,327.1 719.7,325.6 719.8,324.1 720.0,322.6 720.2,321.1 720.3,319.6 720.5,318.1 720.6,316.6 720.8,315.1 720.9,313.6 721.1,312.1 721.3,310.6 721.6,309.1 721.8,307.6 722.0,306.1 722.2,304.6 722.4,303.1 722.6,301.6 722.8,300.1 722.9,298.6 723.0,297.1 723.1,295.6 723.1,294.1 723.1,292.6 723.1,291.1 723.1,289.6 723.1,288.1 723.1,286.6 723.1,285.1 723.1,283.6 723.1,282.1 723.1,280.6 723.1,279.1 723.0,277.6 722.9,276.1 722.8,274.6 722.7,273.1 722.5,271.6 722.3,270.1 722.2,268.6 722.0,267.1 721.8,265.6 721.6,264.1 721.4,262.6 721.2,261.1 720.9,259.6 720.6,258.1 720.3,256.6 720.0,255.1 719.7,253.6 719.4,252.1 719.0,250.6 718.7,249.1 718.3,247.6 717.9,246.1 717.6,244.6 717.4,243.1 717.1,241.6 716.8,240.1 716.6,238.6 716.4,237.1 716.2,235.6 715.9,234.1 715.8,232.6 715.6,231.1 715.4,229.6 715.2,228.1 715.1,226.6 714.9,225.1 714.7,223.6 714.5,222.1 714.2,220.6 713.9,219.1 713.7,217.6 713.5,216.1 713.5,214.6 713.5,213.1 713.5,211.6 713.4,210.1 713.4,208.6 713.4,207.1 713.4,205.6 713.4,204.1 713.4,202.6 713.4,201.1"/></g>
<path d="M708.8 230.6h9.2M708.8 233.2h9.2M708.8 236.9h9.2M708.8 241.3h9.2M708.8 243.4h9.2M708.8 247.0h9.2M708.8 249.1h9.2M708.8 251.1h9.2M708.8 253.2h9.2M708.8 255.2h9.2M708.8 257.3h9.2M708.8 259.3h9.2M708.8 261.4h9.2M708.8 263.4h9.2M708.8 265.5h9.2M708.8 267.5h9.2M708.8 269.6h9.2M708.8 271.6h9.2M708.8 273.7h9.2M708.8 275.7h9.2M708.8 277.8h9.2M708.8 279.8h9.2M708.8 281.9h9.2M708.8 283.9h9.2M708.8 286.0h9.2M708.8 288.0h9.2M708.8 290.1h9.2M708.8 292.1h9.2M708.8 294.2h9.2M708.8 296.2h9.2M708.8 298.3h9.2M708.8 300.3h9.2M708.8 302.4h9.2M708.8 304.4h9.2M708.8 306.5h9.2M708.8 308.5h9.2M708.8 310.6h9.2M708.8 312.6h9.2M708.8 314.7h9.2M708.8 316.7h9.2M708.8 318.8h9.2M708.8 320.8h9.2M708.8 322.9h9.2M708.8 324.9h9.2M708.8 327.0h9.2M708.8 329.0h9.2M708.8 331.1h9.2M708.8 333.1h9.2M708.8 335.2h9.2M708.8 337.2h9.2M708.8 339.3h9.2M708.8 341.3h9.2M708.8 343.4h9.2M708.8 345.4h9.2M708.8 347.5h9.2M708.8 349.5h9.2M708.8 351.6h9.2M708.8 361.4h9.2M708.8 364.3h9.2M708.8 369.3h9.2M708.8 372.9h9.2M708.8 383.6h9.2M708.8 389.3h9.2M708.8 394.3h9.2M708.8 397.1h9.2M708.8 404.6h9.2M708.8 406.4h9.2M708.8 416.0h9.2M708.8 447.9h9.2M708.8 453.3h9.2M708.8 470.0h9.2M708.8 471.9h9.2M708.8 501.1h9.2M708.8 526.7h9.2M708.8 546.9h9.2" stroke="#7570B3" stroke-width="2.0" fill="none"/>
<path d="M709.7 230.6h7.4M709.7 233.2h7.4M709.7 236.9h7.4M709.4 241.3h8.0M709.0 243.4h8.7M708.8 247.0h9.2M708.8 249.1h9.2M708.8 251.1h9.2M708.8 253.2h9.2M708.8 255.2h9.2M708.8 257.3h9.2M708.8 259.3h9.2M708.8 261.4h9.2M708.8 263.4h9.2M708.8 265.5h9.2M708.8 267.5h9.2M708.8 269.6h9.2M708.8 271.6h9.2M708.8 273.7h9.2M708.8 275.7h9.2M708.8 277.8h9.2M708.8 279.8h9.2M708.8 281.9h9.2M708.8 283.9h9.2M708.8 286.0h9.2M708.8 288.0h9.2M708.8 290.1h9.2M708.8 292.1h9.2M708.8 294.2h9.2M708.8 296.2h9.2M708.8 298.3h9.2M708.8 300.3h9.2M708.8 302.4h9.2M708.8 304.4h9.2M708.8 306.5h9.2M708.8 308.5h9.2M708.8 310.6h9.2M708.8 312.6h9.2M708.8 314.7h9.2M708.8 316.7h9.2M708.8 318.8h9.2M708.8 320.8h9.2M708.8 322.9h9.2M708.8 324.9h9.2M708.8 327.0h9.2M708.8 329.0h9.2M708.8 331.1h9.2M708.8 333.1h9.2M708.8 335.2h9.2M708.8 337.2h9.2M708.8 339.3h9.2M708.8 341.3h9.2M709.0 343.4h8.8M709.3 345.4h8.2M709.7 347.5h7.5M709.7 349.5h7.4M709.7 351.6h7.4M709.7 361.4h7.4M709.7 364.3h7.4M709.7 369.3h7.4M709.7 372.9h7.4M709.9 383.6h7.1M710.2 389.3h6.4M710.2 394.3h6.4M710.3 397.1h6.3M710.9 404.6h5.0M711.3 406.4h4.2M711.7 416.0h3.4M711.7 447.9h3.4M711.7 453.3h3.4M711.7 470.0h3.4M711.7 471.9h3.4M711.7 501.1h3.4M711.7 526.7h3.4M711.7 546.9h3.4" stroke="#fff" stroke-width="2.0" fill="none"/>
<path d="M690.4 308.9h46.0" stroke="#fff" stroke-width="4.0" fill="none"/>
<g fill="#E7298A" stroke="#E7298A" stroke-width="1" shape-rendering="crispEdges"><polygon points="757.9,236.1 757.9,237.6 757.9,239.1 757.9,240.6 757.9,242.1 757.7,243.6 757.5,245.1 757.3,246.6 757.0,248.1 756.7,249.6 756.3,251.1 756.0,252.6 755.7,254.1 755.3,255.6 755.0,257.1 754.7,258.6 754.4,260.1 754.1,261.6 753.9,263.1 753.6,264.6 753.3,266.1 753.0,267.6 752.7,269.1 752.4,270.6 752.1,272.1 751.7,273.6 751.4,275.1 751.0,276.6 750.7,278.1 750.4,279.6 750.2,281.1 749.9,282.6 749.7,284.1 749.4,285.6 749.1,287.1 748.9,288.6 748.7,290.1 748.5,291.6 748.4,293.1 748.3,294.6 748.2,296.1 748.2,297.6 748.1,299.1 748.1,300.6 748.1,302.1 748.0,303.6 748.0,305.1 748.0,306.6 748.0,308.1 748.0,309.6 748.0,311.1 748.0,312.6 748.0,314.1 748.1,315.6 748.1,317.1 748.2,318.6 748.3,320.1 748.4,321.6 748.4,323.1 748.5,324.6 748.7,326.1 748.9,327.6 749.1,329.1 749.3,330.6 749.6,332.1 749.9,333.6 750.1,335.1 750.4,336.6 750.7,338.1 751.0,339.6 751.2,341.1 751.6,342.6 751.9,344.1 752.2,345.6 752.6,347.1 753.0,348.6 753.4,350.1 753.7,351.6 754.0,353.1 754.2,354.6 754.4,356.1 754.8,357.6 755.1,359.1 755.3,360.6 755.4,362.1 755.5,363.6 755.6,365.1 755.7,366.6 755.7,368.1 755.8,369.6 755.8,371.1 755.9,372.6 755.9,374.1 756.0,375.6 756.0,377.1 756.0,378.6 756.1,380.1 756.1,381.6 756.1,383.1 756.1,384.6 756.2,386.1 756.2,387.6 756.2,389.1 756.2,390.6 756.3,392.1 756.3,393.6 756.3,395.1 756.3,396.6 756.2,398.1 756.2,399.6 756.2,401.1 756.2,402.6 756.1,404.1 756.1,405.6 756.1,407.1 756.1,408.6 756.1,410.1 756.1,411.6 756.1,413.1 756.1,414.6 756.1,416.1 756.1,417.6 756.1,419.1 756.1,420.6 756.2,422.1 756.2,423.6 756.2,425.1 756.2,426.6 756.2,428.1 756.3,429.6 756.3,431.1 756.3,432.6 756.4,434.1 756.4,435.6 756.4,437.1 756.5,438.6 756.6,440.1 756.7,441.6 756.8,443.1 756.9,444.6 756.9,446.1 757.0,447.6 757.0,449.1 757.1,450.6 757.1,452.1 757.1,453.6 757.2,455.1 757.2,456.6 757.3,458.1 757.4,459.6 757.4,461.1 757.5,462.6 757.6,464.1 757.7,465.6 757.7,467.1 757.8,468.6 757.9,470.1 757.9,471.6 757.9,473.1 757.9,474.6 757.9,476.1 757.9,476.9 757.9,476.9 757.9,476.1 757.9,474.6 757.9,473.1 757.9,471.6 757.9,470.1 757.9,468.6 758.0,467.1 758.1,465.6 758.2,464.1 758.2,462.6 758.3,461.1 758.4,459.6 758.5,458.1 758.5,456.6 758.6,455.1 758.6,453.6 758.6,452.1 758.7,450.6 758.7,449.1 758.8,447.6 758.8,446.1 758.9,444.6 759.0,443.1 759.1,441.6 759.2,440.1 759.2,438.6 759.3,437.1 759.3,435.6 759.4,434.1 759.4,432.6 759.4,431.1 759.5,429.6 759.5,428.1 759.5,426.6 759.6,425.1 759.6,423.6 759.6,422.1 759.6,420.6 759.6,419.1 759.6,417.6 759.6,416.1 759.7,414.6 759.7,413.1 759.7,411.6 759.7,410.1 759.7,408.6 759.7,407.1 759.6,405.6 759.6,404.1 759.6,402.6 759.5,401.1 759.5,399.6 759.5,398.1 759.5,396.6 759.5,395.1 759.5,393.6 759.5,392.1 759.5,390.6 759.5,389.1 759.5,387.6 759.6,386.1 759.6,384.6 759.6,383.1 759.7,381.6 759.7,380.1 759.7,378.6 759.7,377.1 759.8,375.6 759.8,374.1 759.9,372.6 759.9,371.1 759.9,369.6 760.0,368.1 760.1,366.6 760.1,365.1 760.2,363.6 760.3,362.1 760.4,360.6 760.6,359.1 761.0,357.6 761.3,356.1 761.6,354.6 761.8,353.1 762.0,351.6 762.4,350.1 762.7,348.6 763.1,347.1 763.5,345.6 763.9,344.1 764.2,342.6 764.5,341.1 764.8,339.6 765.1,338.1 765.3,336.6 765.6,335.1 765.9,333.6 766.1,332.1 766.4,330.6 766.6,329.1 766.9,327.6 767.1,326.1 767.2,324.6 767.3,323.1 767.4,321.6 767.5,320.1 767.5,318.6 767.6,317.1 767.7,315.6 767.7,314.1 767.7,312.6 767.8,311.1 767.8,309.6 767.8,308.1 767.8,306.6 767.7,305.1 767.7,303.6 767.7,302.1 767.6,300.6 767.6,299.1 767.6,297.6 767.5,296.1 767.5,294.6 767.4,293.1 767.2,291.6 767.0,290.1 766.8,288.6 766.6,287.1 766.3,285.6 766.1,284.1 765.8,282.6 765.6,281.1 765.3,279.6 765.0,278.1 764.7,276.6 764.4,275.1 764.0,273.6 763.7,272.1 763.3,270.6 763.0,269.1 762.7,267.6 762.4,266.1 762.1,264.6 761.9,263.1 761.6,261.6 761.3,260.1 761.1,258.6 760.7,257.1 760.4,255.6 760.1,254.1 759.8,252.6 759.4,251.1 759.1,249.6 758.8,248.1 758.5,246.6 758.2,245.1 758.0,243.6 757.9,242.1 757.9,240.6 757.9,239.1 757.9,237.6 757.9,236.1"/><polygon points="757.9,516.1 757.9,517.6 757.9,519.1 757.9,520.6 757.9,522.1 757.9,523.6 757.9,525.1 757.8,526.6 757.6,528.1 757.5,529.6 757.4,531.1 757.4,532.6 757.4,534.1 757.4,535.6 757.4,537.1 757.4,538.6 757.4,540.1 757.4,541.6 757.4,543.1 757.4,544.6 757.4,546.1 757.4,547.6 757.4,549.1 757.4,550.6 757.4,552.1 757.4,553.6 757.4,555.1 757.5,556.6 757.6,558.1 757.7,559.6 757.8,561.1 757.9,562.6 757.9,564.1 757.9,565.6 757.9,567.1 757.9,568.6 757.9,570.0 757.9,570.0 757.9,568.6 757.9,567.1 757.9,565.6 757.9,564.1 757.9,562.6 757.9,561.1 758.1,559.6 758.2,558.1 758.3,556.6 758.4,555.1 758.4,553.6 758.4,552.1 758.4,550.6 758.4,549.1 758.4,547.6 758.4,546.1 758.4,544.6 758.4,543.1 758.4,541.6 758.4,540.1 758.4,538.6 758.4,537.1 758.4,535.6 758.4,534.1 758.4,532.6 758.3,531.1 758.2,529.6 758.1,528.1 758.0,526.6 757.9,525.1 757.9,523.6 757.9,522.1 757.9,520.6 757.9,519.1 757.9,517.6 757.9,516.1"/></g>
<path d="M753.3 269.4h9.2M753.3 273.3h9.2M753.3 285.4h9.2M753.3 287.5h9.2M753.3 289.7h9.2M753.3 293.3h9.2M753.3 297.1h9.2M753.3 301.4h9.2M753.3 307.1h9.2M753.3 313.6h9.2M753.3 317.1h9.2M753.3 320.0h9.2M753.3 322.9h9.2M753.3 330.0h9.2M753.3 332.1h9.2M753.3 334.3h9.2M753.3 335.9h9.2M753.3 357.1h9.2M753.3 390.4h9.2M753.3 407.1h9.2M753.3 409.4h9.2M753.3 442.5h9.2M753.3 445.0h9.2M753.3 542.9h9.2" stroke="#E7298A" stroke-width="2.0" fill="none"/>
<path d="M753.3 269.4h9.2M753.3 273.3h9.2M753.3 285.4h9.2M753.3 287.5h9.2M753.3 289.7h9.2M753.3 293.3h9.2M753.3 297.1h9.2M753.3 301.4h9.2M753.3 307.1h9.2M753.3 313.6h9.2M753.3 317.1h9.2M753.3 320.0h9.2M753.3 322.9h9.2M753.3 330.0h9.2M753.3 332.1h9.2M753.3 334.3h9.2M753.3 335.9h9.2M754.2 357.1h7.4M754.2 390.4h7.4M754.2 407.1h7.4M754.2 409.4h7.4M754.5 442.5h6.7M754.7 445.0h6.3M755.4 542.9h4.9" stroke="#fff" stroke-width="2.0" fill="none"/>
<path d="M734.9 339.9h46.0" stroke="#fff" stroke-width="4.0" fill="none"/>
<g fill="#66A61E" stroke="#66A61E" stroke-width="1" shape-rendering="crispEdges"><polygon points="802.3,124.0 802.3,125.5 802.3,127.0 802.3,128.5 802.3,130.0 802.3,131.5 802.3,133.0 802.3,134.5 802.3,136.0 802.3,137.5 802.3,139.0 802.3,140.5 802.3,142.0 802.3,143.5 802.3,145.0 802.3,146.5 802.3,148.0 802.3,149.5 802.3,151.0 802.3,152.5 802.3,154.0 802.3,155.5 802.3,157.0 802.3,158.5 802.3,159.7 802.3,159.7 802.3,158.5 802.3,157.0 802.3,155.5 802.3,154.0 802.3,152.5 802.3,151.0 802.3,149.5 802.3,148.0 802.3,146.5 802.3,145.0 802.3,143.5 802.3,142.0 802.3,140.5 802.3,139.0 802.3,137.5 802.3,136.0 802.3,134.5 802.3,133.0 802.3,131.5 802.3,130.0 802.3,128.5 802.3,127.0 802.3,125.5 802.3,124.0"/><polygon points="802.3,209.0 802.3,210.5 802.3,212.0 802.3,213.5 802.3,215.0 802.3,216.5 802.2,218.0 802.0,219.5 801.8,221.0 801.6,222.5 801.3,224.0 801.1,225.5 800.8,227.0 800.4,228.5 800.1,230.0 799.8,231.5 799.4,233.0 799.1,234.5 798.8,236.0 798.5,237.5 798.0,239.0 797.5,240.5 796.9,242.0 796.2,243.5 795.7,245.0 795.2,246.5 794.7,248.0 794.3,249.5 793.9,251.0 793.6,252.5 793.2,254.0 792.9,255.5 792.6,257.0 792.3,258.5 792.1,260.0 791.9,261.5 791.7,263.0 791.6,264.5 791.5,266.0 791.4,267.5 791.4,269.0 791.4,270.5 791.4,272.0 791.4,273.5 791.4,275.0 791.4,276.5 791.4,278.0 791.4,279.5 791.4,281.0 791.5,282.5 791.6,284.0 791.7,285.5 791.9,287.0 792.1,288.5 792.3,290.0 792.5,291.5 792.7,293.0 792.9,294.5 793.1,296.0 793.2,297.5 793.4,299.0 793.6,300.5 793.7,302.0 793.9,303.5 794.0,305.0 794.2,306.5 794.3,308.0 794.5,309.5 794.6,311.0 794.7,312.5 794.9,314.0 795.0,315.5 795.2,317.0 795.3,318.5 795.5,320.0 795.6,321.5 795.8,323.0 795.9,324.5 796.1,326.0 796.4,327.5 796.6,329.0 796.8,330.5 797.0,332.0 797.3,333.5 797.5,335.0 797.7,336.5 797.9,338.0 798.0,339.5 798.2,341.0 798.3,342.5 798.5,344.0 798.6,345.5 798.8,347.0 798.9,348.5 799.1,350.0 799.2,351.5 799.3,353.0 799.4,354.5 799.6,356.0 799.7,357.5 799.8,359.0 800.0,360.5 800.2,362.0 800.4,363.5 800.6,365.0 800.9,366.5 801.0,368.0 801.2,369.5 801.4,371.0 801.5,372.5 801.7,374.0 801.8,375.5 801.9,377.0 802.1,378.5 802.2,380.0 802.3,381.5 802.3,383.0 802.3,384.5 802.3,386.0 802.3,387.5 802.3,388.9 802.3,388.9 802.3,387.5 802.3,386.0 802.3,384.5 802.3,383.0 802.4,381.5 802.5,380.0 802.6,378.5 802.7,377.0 802.9,375.5 803.0,374.0 803.1,372.5 803.3,371.0 803.5,369.5 803.6,368.0 803.8,366.5 804.0,365.0 804.3,363.5 804.5,362.0 804.7,360.5 804.9,359.0 805.0,357.5 805.1,356.0 805.2,354.5 805.4,353.0 805.5,351.5 805.6,350.0 805.8,348.5 805.9,347.0 806.0,345.5 806.2,344.0 806.3,342.5 806.5,341.0 806.7,339.5 806.8,338.0 807.0,336.5 807.2,335.0 807.4,333.5 807.7,332.0 807.9,330.5 808.1,329.0 808.3,327.5 808.5,326.0 808.7,324.5 808.9,323.0 809.1,321.5 809.2,320.0 809.4,318.5 809.5,317.0 809.7,315.5 809.8,314.0 809.9,312.5 810.1,311.0 810.2,309.5 810.4,308.0 810.5,306.5 810.7,305.0 810.8,303.5 811.0,302.0 811.1,300.5 811.3,299.0 811.5,297.5 811.6,296.0 811.8,294.5 812.0,293.0 812.2,291.5 812.4,290.0 812.6,288.5 812.8,287.0 813.0,285.5 813.1,284.0 813.2,282.5 813.2,281.0 813.2,279.5 813.2,278.0 813.2,276.5 813.2,275.0 813.2,273.5 813.2,272.0 813.2,270.5 813.2,269.0 813.2,267.5 813.2,266.0 813.1,264.5 813.0,263.0 812.8,261.5 812.6,260.0 812.4,258.5 812.1,257.0 811.8,255.5 811.5,254.0 811.1,252.5 810.8,251.0 810.4,249.5 809.9,248.0 809.5,246.5 809.0,245.0 808.4,243.5 807.8,242.0 807.2,240.5 806.7,239.0 806.2,237.5 805.9,236.0 805.5,234.5 805.2,233.0 804.9,231.5 804.6,230.0 804.3,228.5 803.9,227.0 803.6,225.5 803.3,224.0 803.1,222.5 802.9,221.0 802.6,219.5 802.4,218.0 802.3,216.5 802.3,215.0 802.3,213.5 802.3,212.0 802.3,210.5 802.3,209.0"/><polygon points="802.3,444.0 802.3,445.5 802.3,447.0 802.3,448.5 802.3,450.0 802.3,451.5 802.3,453.0 802.3,454.5 802.3,456.0 802.3,457.5 802.3,459.0 802.3,460.5 802.3,462.0 802.3,463.5 802.3,465.0 802.3,466.5 802.3,468.0 802.3,469.5 802.3,471.0 802.3,472.5 802.3,474.0 802.3,475.5 802.3,477.0 802.3,478.5 802.3,480.0 802.3,481.0 802.3,481.0 802.3,480.0 802.3,478.5 802.3,477.0 802.3,475.5 802.3,474.0 802.3,472.5 802.3,471.0 802.3,469.5 802.3,468.0 802.3,466.5 802.3,465.0 802.3,463.5 802.3,462.0 802.3,460.5 802.3,459.0 802.3,457.5 802.3,456.0 802.3,454.5 802.3,453.0 802.3,451.5 802.3,450.0 802.3,448.5 802.3,447.0 802.3,445.5 802.3,444.0"/><polygon points="802.3,553.1 802.3,554.6 802.3,556.1 802.3,557.6 802.3,559.1 802.3,560.6 802.3,562.1 802.3,563.6 802.3,565.1 802.3,566.6 802.3,568.1 802.3,569.6 802.3,571.1 802.3,572.6 802.3,574.1 802.3,575.6 802.3,577.1 802.3,578.6 802.3,580.1 802.3,581.6 802.3,583.1 802.3,584.6 802.3,586.1 802.3,587.6 802.3,589.1 802.3,590.0 802.3,590.0 802.3,589.1 802.3,587.6 802.3,586.1 802.3,584.6 802.3,583.1 802.3,581.6 802.3,580.1 802.3,578.6 802.3,577.1 802.3,575.6 802.3,574.1 802.3,572.6 802.3,571.1 802.3,569.6 802.3,568.1 802.3,566.6 802.3,565.1 802.3,563.6 802.3,562.1 802.3,560.6 802.3,559.1 802.3,557.6 802.3,556.1 802.3,554.6 802.3,553.1"/></g>
<path d="M797.7 141.4h9.2M797.7 239.0h9.2M797.7 242.9h9.2M797.7 252.6h9.2M797.7 255.4h9.2M797.7 261.9h9.2M797.7 263.6h9.2M797.7 266.9h9.2M797.7 269.0h9.2M797.7 271.0h9.2M797.7 273.0h9.2M797.7 275.0h9.2M797.7 281.1h9.2M797.7 284.0h9.2M797.7 286.9h9.2M797.7 290.4h9.2M797.7 293.2h9.2M797.7 306.5h9.2M797.7 309.5h9.2M797.7 312.0h9.2M797.7 314.5h9.2M797.7 317.0h9.2M797.7 319.5h9.2M797.7 322.0h9.2M797.7 324.5h9.2M797.7 345.3h9.2M797.7 347.2h9.2M797.7 349.0h9.2M797.7 364.3h9.2M797.7 462.9h9.2M797.7 571.0h9.2" stroke="#66A61E" stroke-width="2.0" fill="none"/>
<path d="M800.6 141.4h3.4M797.8 239.0h9.1M797.7 242.9h9.2M797.7 252.6h9.2M797.7 255.4h9.2M797.7 261.9h9.2M797.7 263.6h9.2M797.7 266.9h9.2M797.7 269.0h9.2M797.7 271.0h9.2M797.7 273.0h9.2M797.7 275.0h9.2M797.7 281.1h9.2M797.7 284.0h9.2M797.7 286.9h9.2M797.7 290.4h9.2M797.7 293.2h9.2M797.7 306.5h9.2M797.7 309.5h9.2M797.7 312.0h9.2M797.7 314.5h9.2M797.7 317.0h9.2M797.7 319.5h9.2M797.7 322.0h9.2M797.7 324.5h9.2M798.2 345.3h8.3M798.4 347.2h7.9M798.5 349.0h7.6M798.6 364.3h7.4M800.6 462.9h3.4M800.6 571.0h3.4" stroke="#fff" stroke-width="2.0" fill="none"/>
<path d="M779.3 297.9h46.0" stroke="#fff" stroke-width="4.0" fill="none"/>
<g fill="#E6AB02" stroke="#E6AB02" stroke-width="1" shape-rendering="crispEdges"><polygon points="846.8,223.0 846.8,224.5 846.8,226.0 846.8,227.5 846.8,229.0 846.8,230.5 846.7,232.0 846.7,233.5 846.6,235.0 846.6,236.5 846.5,238.0 846.4,239.5 846.3,241.0 846.1,242.5 846.0,244.0 845.8,245.5 845.7,247.0 845.5,248.5 845.4,250.0 845.2,251.5 845.1,253.0 844.9,254.5 844.7,256.0 844.6,257.5 844.4,259.0 844.2,260.5 844.0,262.0 843.9,263.5 843.7,265.0 843.5,266.5 843.2,268.0 843.0,269.5 842.6,271.0 842.3,272.5 842.0,274.0 841.6,275.5 841.3,277.0 841.0,278.5 840.7,280.0 840.4,281.5 840.2,283.0 840.0,284.5 839.7,286.0 839.5,287.5 839.3,289.0 839.1,290.5 838.9,292.0 838.7,293.5 838.6,295.0 838.5,296.5 838.4,298.0 838.3,299.5 838.2,301.0 838.1,302.5 838.0,304.0 837.9,305.5 837.9,307.0 837.8,308.5 837.8,310.0 837.8,311.5 837.8,313.0 837.8,314.5 837.7,316.0 837.7,317.5 837.7,319.0 837.7,320.5 837.7,322.0 837.7,323.5 837.7,325.0 837.7,326.5 837.7,328.0 837.8,329.5 837.8,331.0 837.8,332.5 837.9,334.0 837.9,335.5 838.0,337.0 838.0,338.5 838.1,340.0 838.3,341.5 838.5,343.0 838.7,344.5 838.9,346.0 839.1,347.5 839.4,349.0 839.6,350.5 839.8,352.0 840.0,353.5 840.2,355.0 840.4,356.5 840.5,358.0 840.7,359.5 840.9,361.0 841.1,362.5 841.3,364.0 841.5,365.5 841.7,367.0 842.0,368.5 842.2,370.0 842.5,371.5 842.8,373.0 843.1,374.5 843.3,376.0 843.6,377.5 843.9,379.0 844.1,380.5 844.3,382.0 844.4,383.5 844.6,385.0 844.7,386.5 844.8,388.0 844.9,389.5 844.9,391.0 845.0,392.5 845.0,394.0 845.0,395.5 845.0,397.0 845.1,398.5 845.1,400.0 845.1,401.5 845.1,403.0 845.1,404.5 845.2,406.0 845.2,407.5 845.2,409.0 845.2,410.5 845.2,412.0 845.3,413.5 845.3,415.0 845.3,416.5 845.4,418.0 845.5,419.5 845.7,421.0 845.8,422.5 845.9,424.0 846.0,425.5 846.0,427.0 846.1,428.5 846.1,430.0 846.1,431.5 846.2,433.0 846.2,434.5 846.2,436.0 846.3,437.5 846.4,439.0 846.5,440.5 846.6,442.0 846.7,443.5 846.7,445.0 846.7,446.5 846.8,448.0 846.8,449.5 846.8,451.0 846.8,452.5 846.8,454.0 846.8,455.5 846.8,457.0 846.8,458.5 846.8,460.0 846.8,461.5 846.8,463.0 846.8,464.5 846.8,466.0 846.8,467.5 846.8,469.0 846.8,469.0 846.8,467.5 846.8,466.0 846.8,464.5 846.8,463.0 846.8,461.5 846.8,460.0 846.8,458.5 846.8,457.0 846.8,455.5 846.8,454.0 846.8,452.5 846.8,451.0 846.8,449.5 846.9,448.0 846.9,446.5 846.9,445.0 847.0,443.5 847.1,442.0 847.2,440.5 847.3,439.0 847.3,437.5 847.4,436.0 847.4,434.5 847.5,433.0 847.5,431.5 847.5,430.0 847.6,428.5 847.6,427.0 847.6,425.5 847.7,424.0 847.8,422.5 847.9,421.0 848.1,419.5 848.2,418.0 848.3,416.5 848.3,415.0 848.4,413.5 848.4,412.0 848.4,410.5 848.4,409.0 848.4,407.5 848.5,406.0 848.5,404.5 848.5,403.0 848.5,401.5 848.5,400.0 848.6,398.5 848.6,397.0 848.6,395.5 848.6,394.0 848.7,392.5 848.7,391.0 848.7,389.5 848.8,388.0 848.9,386.5 849.0,385.0 849.2,383.5 849.4,382.0 849.5,380.5 849.8,379.0 850.0,377.5 850.3,376.0 850.5,374.5 850.8,373.0 851.1,371.5 851.4,370.0 851.7,368.5 851.9,367.0 852.1,365.5 852.4,364.0 852.5,362.5 852.7,361.0 852.9,359.5 853.1,358.0 853.3,356.5 853.4,355.0 853.6,353.5 853.8,352.0 854.0,350.5 854.2,349.0 854.5,347.5 854.7,346.0 854.9,344.5 855.1,343.0 855.3,341.5 855.5,340.0 855.6,338.5 855.6,337.0 855.7,335.5 855.7,334.0 855.8,332.5 855.8,331.0 855.9,329.5 855.9,328.0 855.9,326.5 855.9,325.0 855.9,323.5 855.9,322.0 855.9,320.5 855.9,319.0 855.9,317.5 855.9,316.0 855.9,314.5 855.9,313.0 855.8,311.5 855.8,310.0 855.8,308.5 855.8,307.0 855.7,305.5 855.6,304.0 855.6,302.5 855.5,301.0 855.4,299.5 855.2,298.0 855.1,296.5 855.0,295.0 854.9,293.5 854.7,292.0 854.5,290.5 854.3,289.0 854.1,287.5 853.9,286.0 853.7,284.5 853.4,283.0 853.2,281.5 852.9,280.0 852.6,278.5 852.3,277.0 852.0,275.5 851.6,274.0 851.3,272.5 851.0,271.0 850.7,269.5 850.4,268.0 850.2,266.5 849.9,265.0 849.8,263.5 849.6,262.0 849.4,260.5 849.2,259.0 849.1,257.5 848.9,256.0 848.7,254.5 848.6,253.0 848.4,251.5 848.3,250.0 848.1,248.5 848.0,247.0 847.8,245.5 847.7,244.0 847.5,242.5 847.3,241.0 847.2,239.5 847.1,238.0 847.0,236.5 847.0,235.0 846.9,233.5 846.9,232.0 846.8,230.5 846.8,229.0 846.8,227.5 846.8,226.0 846.8,224.5 846.8,223.0"/></g>
<path d="M842.2 255.4h9.2M842.2 259.0h9.2M842.2 269.7h9.2M842.2 282.6h9.2M842.2 285.0h9.2M842.2 287.5h9.2M842.2 290.4h9.2M842.2 297.1h9.2M842.2 304.3h9.2M842.2 307.5h9.2M842.2 309.5h9.2M842.2 312.9h9.2M842.2 321.4h9.2M842.2 324.3h9.2M842.2 335.0h9.2M842.2 342.1h9.2M842.2 345.0h9.2M842.2 350.0h9.2M842.2 352.9h9.2M842.2 356.4h9.2M842.2 359.3h9.2M842.2 361.5h9.2M842.2 369.3h9.2M842.2 372.9h9.2M842.2 393.6h9.2M842.2 408.6h9.2M842.2 415.7h9.2M842.2 441.9h9.2" stroke="#E6AB02" stroke-width="2.0" fill="none"/>
<path d="M843.1 255.4h7.4M843.1 259.0h7.4M842.6 269.7h8.5M842.2 282.6h9.2M842.2 285.0h9.2M842.2 287.5h9.2M842.2 290.4h9.2M842.2 297.1h9.2M842.2 304.3h9.2M842.2 307.5h9.2M842.2 309.5h9.2M842.2 312.9h9.2M842.2 321.4h9.2M842.2 324.3h9.2M842.2 335.0h9.2M842.2 342.1h9.2M842.2 345.0h9.2M842.2 350.0h9.2M842.2 352.9h9.2M842.2 356.4h9.2M842.2 359.3h9.2M842.2 361.5h9.2M842.2 369.3h9.2M842.4 372.9h8.8M843.1 393.6h7.4M843.1 408.6h7.4M843.1 415.7h7.4M844.8 441.9h4.0" stroke="#fff" stroke-width="2.0" fill="none"/>
<path d="M823.8 330.1h46.0" stroke="#fff" stroke-width="4.0" fill="none"/>
<g fill="#A6761D" stroke="#A6761D" stroke-width="1" shape-rendering="crispEdges"><polygon points="891.3,151.1 891.3,152.6 891.3,154.1 891.3,155.6 891.3,157.1 891.1,158.6 890.9,160.1 890.7,161.6 890.5,163.1 890.3,164.6 890.0,166.1 889.8,167.6 889.5,169.1 889.3,170.6 889.1,172.1 888.8,173.6 888.6,175.1 888.3,176.6 888.0,178.1 887.8,179.6 887.5,181.1 887.2,182.6 886.9,184.1 886.6,185.6 886.3,187.1 886.1,188.6 885.8,190.1 885.5,191.6 885.2,193.1 884.8,194.6 884.5,196.1 884.2,197.6 883.8,199.1 883.4,200.6 883.0,202.1 882.6,203.6 882.3,205.1 881.9,206.6 881.6,208.1 881.4,209.6 881.2,211.1 881.0,212.6 880.7,214.1 880.5,215.6 880.3,217.1 880.2,218.6 880.0,220.1 879.9,221.6 879.9,223.1 879.9,224.6 879.9,226.1 879.9,227.6 879.9,229.1 879.9,230.6 880.0,232.1 880.1,233.6 880.2,235.1 880.4,236.6 880.6,238.1 881.0,239.6 881.4,241.1 882.0,242.6 882.5,244.1 882.9,245.6 883.3,247.1 883.6,248.6 883.8,250.1 884.1,251.6 884.4,253.1 884.6,254.6 884.9,256.1 885.1,257.6 885.3,259.1 885.5,260.6 885.6,262.1 885.7,263.6 885.7,265.1 885.8,266.6 885.8,268.1 885.8,269.6 885.7,271.1 885.7,272.6 885.6,274.1 885.6,275.6 885.5,277.1 885.5,278.6 885.4,280.1 885.4,281.6 885.3,283.1 885.2,284.6 885.2,286.1 885.1,287.6 885.0,289.1 885.0,290.6 884.9,292.1 884.9,293.6 884.9,295.1 885.0,296.6 885.2,298.1 885.6,299.6 886.0,301.1 886.3,302.6 886.6,304.1 887.0,305.6 887.4,307.1 887.7,308.6 888.0,310.1 888.4,311.6 888.7,313.1 888.9,314.6 889.2,316.1 889.5,317.6 889.8,319.1 890.1,320.6 890.3,322.1 890.6,323.6 890.8,325.1 891.0,326.6 891.2,328.1 891.3,329.6 891.3,331.1 891.3,332.6 891.3,333.6 891.3,333.6 891.3,332.6 891.3,331.1 891.3,329.6 891.4,328.1 891.6,326.6 891.8,325.1 892.0,323.6 892.2,322.1 892.5,320.6 892.8,319.1 893.1,317.6 893.3,316.1 893.6,314.6 893.9,313.1 894.2,311.6 894.5,310.1 894.8,308.6 895.2,307.1 895.6,305.6 895.9,304.1 896.3,302.6 896.6,301.1 897.0,299.6 897.3,298.1 897.6,296.6 897.7,295.1 897.7,293.6 897.6,292.1 897.6,290.6 897.5,289.1 897.5,287.6 897.4,286.1 897.3,284.6 897.3,283.1 897.2,281.6 897.1,280.1 897.1,278.6 897.0,277.1 897.0,275.6 896.9,274.1 896.9,272.6 896.8,271.1 896.8,269.6 896.8,268.1 896.8,266.6 896.8,265.1 896.9,263.6 897.0,262.1 897.1,260.6 897.2,259.1 897.4,257.6 897.7,256.1 897.9,254.6 898.2,253.1 898.5,251.6 898.7,250.1 899.0,248.6 899.3,247.1 899.6,245.6 900.1,244.1 900.6,242.6 901.1,241.1 901.6,239.6 901.9,238.1 902.1,236.6 902.3,235.1 902.5,233.6 902.6,232.1 902.6,230.6 902.6,229.1 902.7,227.6 902.7,226.1 902.7,224.6 902.7,223.1 902.6,221.6 902.5,220.1 902.4,218.6 902.2,217.1 902.0,215.6 901.8,214.1 901.6,212.6 901.4,211.1 901.2,209.6 900.9,208.1 900.6,206.6 900.3,205.1 899.9,203.6 899.5,202.1 899.1,200.6 898.8,199.1 898.4,197.6 898.0,196.1 897.7,194.6 897.4,193.1 897.1,191.6 896.8,190.1 896.5,188.6 896.2,187.1 895.9,185.6 895.6,184.1 895.4,182.6 895.1,181.1 894.8,179.6 894.5,178.1 894.2,176.6 894.0,175.1 893.7,173.6 893.5,172.1 893.2,170.6 893.0,169.1 892.8,167.6 892.6,166.1 892.3,164.6 892.1,163.1 891.8,161.6 891.6,160.1 891.5,158.6 891.3,157.1 891.3,155.6 891.3,154.1 891.3,152.6 891.3,151.1"/></g>
<path d="M886.7 183.7h9.2M886.7 200.0h9.2M886.7 215.0h9.2M886.7 229.7h9.2M886.7 233.7h9.2M886.7 260.9h9.2M886.7 285.1h9.2M886.7 290.0h9.2M886.7 298.9h9.2" stroke="#A6761D" stroke-width="2.0" fill="none"/>
<path d="M886.7 183.7h9.2M886.7 200.0h9.2M886.7 215.0h9.2M886.7 229.7h9.2M886.7 233.7h9.2M886.7 260.9h9.2M886.7 285.1h9.2M886.7 290.0h9.2M886.7 298.9h9.2" stroke="#fff" stroke-width="2.0" fill="none"/>
<path d="M868.3 241.4h46.0" stroke="#fff" stroke-width="4.0" fill="none"/>
<g fill="#666666" stroke="#666666" stroke-width="1" shape-rendering="crispEdges"><polygon points="935.8,139.0 935.8,140.5 935.8,142.0 935.8,143.5 935.8,145.0 935.7,146.5 935.7,148.0 935.7,149.5 935.7,151.0 935.7,152.5 935.7,154.0 935.7,155.5 935.7,157.0 935.7,158.5 935.7,160.0 935.6,161.5 935.5,163.0 935.2,164.5 934.9,166.0 934.7,167.5 934.5,169.0 934.3,170.5 934.1,172.0 934.0,173.5 933.8,175.0 933.7,176.5 933.6,178.0 933.4,179.5 933.4,181.0 933.3,182.5 933.2,184.0 933.2,185.5 933.1,187.0 933.1,188.5 933.0,190.0 933.0,191.5 932.9,193.0 932.9,194.5 932.8,196.0 932.8,197.5 932.7,199.0 932.7,200.5 932.6,202.0 932.6,203.5 932.5,205.0 932.5,206.5 932.4,208.0 932.4,209.5 932.3,211.0 932.2,212.5 932.2,214.0 932.1,215.5 932.0,217.0 931.9,218.5 931.8,220.0 931.6,221.5 931.4,223.0 931.2,224.5 930.9,226.0 930.7,227.5 930.4,229.0 930.2,230.5 929.9,232.0 929.6,233.5 929.4,235.0 929.2,236.5 929.0,238.0 928.8,239.5 928.6,241.0 928.4,242.5 928.3,244.0 928.1,245.5 927.9,247.0 927.8,248.5 927.7,250.0 927.7,251.5 927.7,253.0 927.7,254.5 927.7,256.0 927.7,257.5 927.8,259.0 927.8,260.5 927.9,262.0 928.1,263.5 928.4,265.0 928.7,266.5 929.0,268.0 929.3,269.5 929.6,271.0 930.0,272.5 930.2,274.0 930.5,275.5 930.7,277.0 931.0,278.5 931.1,280.0 931.3,281.5 931.4,283.0 931.5,284.5 931.6,286.0 931.6,287.5 931.7,289.0 931.7,290.5 931.8,292.0 931.9,293.5 932.0,295.0 932.0,296.5 932.1,298.0 932.2,299.5 932.3,301.0 932.4,302.5 932.4,304.0 932.5,305.5 932.5,307.0 932.6,308.5 932.7,310.0 932.8,311.5 932.9,313.0 933.0,314.5 933.1,316.0 933.2,317.5 933.4,319.0 933.5,320.5 933.6,322.0 933.7,323.5 933.9,325.0 934.0,326.5 934.2,328.0 934.3,329.5 934.5,331.0 934.6,332.5 934.6,334.0 934.6,335.5 934.6,337.0 934.4,338.5 934.2,340.0 934.1,341.5 933.9,343.0 933.9,344.5 933.9,346.0 933.9,347.5 933.9,349.0 933.9,350.5 933.9,352.0 933.9,353.5 933.9,355.0 933.9,356.5 933.9,358.0 933.9,359.5 934.0,361.0 934.1,362.5 934.2,364.0 934.3,365.5 934.4,367.0 934.5,368.5 934.6,370.0 934.7,371.5 934.8,373.0 934.9,374.5 935.1,376.0 935.2,377.5 935.4,379.0 935.6,380.5 935.8,382.0 935.8,383.5 935.8,385.0 935.8,386.5 935.8,388.0 935.8,389.5 935.8,391.0 935.8,392.5 935.8,394.0 935.8,395.5 935.8,397.0 935.8,398.5 935.8,400.0 935.8,401.5 935.8,402.9 935.8,402.9 935.8,401.5 935.8,400.0 935.8,398.5 935.8,397.0 935.8,395.5 935.8,394.0 935.8,392.5 935.8,391.0 935.8,389.5 935.8,388.0 935.8,386.5 935.8,385.0 935.8,383.5 935.8,382.0 935.9,380.5 936.1,379.0 936.3,377.5 936.4,376.0 936.6,374.5 936.7,373.0 936.8,371.5 936.9,370.0 937.0,368.5 937.1,367.0 937.2,365.5 937.3,364.0 937.4,362.5 937.5,361.0 937.6,359.5 937.6,358.0 937.6,356.5 937.6,355.0 937.6,353.5 937.6,352.0 937.6,350.5 937.6,349.0 937.6,347.5 937.6,346.0 937.6,344.5 937.6,343.0 937.4,341.5 937.2,340.0 937.1,338.5 936.9,337.0 936.9,335.5 936.9,334.0 936.9,332.5 937.0,331.0 937.2,329.5 937.3,328.0 937.5,326.5 937.6,325.0 937.8,323.5 937.9,322.0 938.0,320.5 938.1,319.0 938.3,317.5 938.4,316.0 938.5,314.5 938.6,313.0 938.7,311.5 938.8,310.0 938.9,308.5 939.0,307.0 939.0,305.5 939.1,304.0 939.1,302.5 939.2,301.0 939.3,299.5 939.4,298.0 939.5,296.5 939.5,295.0 939.6,293.5 939.7,292.0 939.8,290.5 939.8,289.0 939.9,287.5 939.9,286.0 940.0,284.5 940.1,283.0 940.2,281.5 940.4,280.0 940.5,278.5 940.8,277.0 941.0,275.5 941.2,274.0 941.5,272.5 941.9,271.0 942.2,269.5 942.5,268.0 942.8,266.5 943.1,265.0 943.4,263.5 943.6,262.0 943.7,260.5 943.7,259.0 943.8,257.5 943.8,256.0 943.8,254.5 943.8,253.0 943.8,251.5 943.8,250.0 943.7,248.5 943.6,247.0 943.4,245.5 943.2,244.0 943.1,242.5 942.9,241.0 942.7,239.5 942.5,238.0 942.3,236.5 942.1,235.0 941.9,233.5 941.6,232.0 941.3,230.5 941.1,229.0 940.8,227.5 940.6,226.0 940.3,224.5 940.1,223.0 939.9,221.5 939.7,220.0 939.6,218.5 939.5,217.0 939.4,215.5 939.3,214.0 939.3,212.5 939.2,211.0 939.1,209.5 939.1,208.0 939.0,206.5 939.0,205.0 938.9,203.5 938.9,202.0 938.8,200.5 938.8,199.0 938.7,197.5 938.7,196.0 938.6,194.5 938.6,193.0 938.5,191.5 938.5,190.0 938.4,188.5 938.4,187.0 938.3,185.5 938.3,184.0 938.2,182.5 938.1,181.0 938.1,179.5 937.9,178.0 937.8,176.5 937.7,175.0 937.5,173.5 937.4,172.0 937.2,170.5 937.0,169.0 936.8,167.5 936.6,166.0 936.3,164.5 936.0,163.0 935.9,161.5 935.8,160.0 935.8,158.5 935.8,157.0 935.8,155.5 935.8,154.0 935.8,152.5 935.8,151.0 935.8,149.5 935.8,148.0 935.8,146.5 935.8,145.0 935.8,143.5 935.8,142.0 935.8,140.5 935.8,139.0"/></g>
<path d="M931.1 185.4h9.2M931.1 219.7h9.2M931.1 245.1h9.2M931.1 254.3h9.2M931.1 258.6h9.2M931.1 284.3h9.2M931.1 308.6h9.2M931.1 356.4h9.2" stroke="#666666" stroke-width="2.0" fill="none"/>
<path d="M932.0 185.4h7.4M931.4 219.7h8.7M931.1 245.1h9.2M931.1 254.3h9.2M931.1 258.6h9.2M931.1 284.3h9.2M932.0 308.6h7.4M932.0 356.4h7.4" stroke="#fff" stroke-width="2.0" fill="none"/>
<path d="M912.8 264.0h46.0" stroke="#fff" stroke-width="4.0" fill="none"/>
<g fill="#1B9E77" stroke="#1B9E77" stroke-width="1" shape-rendering="crispEdges"><polygon points="979.9,242.0 979.7,243.5 979.7,245.0 979.7,246.5 979.7,248.0 979.7,249.5 979.7,251.0 979.7,252.5 979.7,254.0 979.0,255.5 978.9,257.0 978.9,258.5 978.9,260.0 978.9,261.5 978.9,263.0 978.9,264.5 978.9,266.0 978.1,267.5 978.1,269.0 978.1,270.5 978.1,272.0 978.1,273.5 978.1,275.0 978.1,276.5 978.1,278.0 978.1,279.5 978.3,281.0 978.8,282.5 978.8,284.0 978.8,285.5 978.8,287.0 978.8,288.5 978.8,290.0 978.8,291.5 978.8,293.0 978.8,294.5 978.8,296.0 978.8,297.5 978.8,299.0 978.8,300.5 978.8,302.0 978.8,303.5 978.8,305.0 978.8,306.5 978.8,308.0 978.1,309.5 978.1,311.0 978.1,312.5 978.1,314.0 978.1,315.5 978.1,317.0 978.1,318.5 978.1,320.0 978.1,321.5 978.1,323.0 978.1,324.5 978.9,326.0 978.9,327.5 978.9,329.0 978.9,330.5 978.9,332.0 978.9,333.5 978.9,335.0 978.9,336.5 979.7,338.0 979.7,339.5 979.7,341.0 979.7,342.5 979.7,344.0 979.7,345.5 979.7,347.0 979.7,348.5 979.9,349.7 980.5,349.7 980.7,348.5 980.7,347.0 980.7,345.5 980.7,344.0 980.7,342.5 980.7,341.0 980.7,339.5 980.7,338.0 981.5,336.5 981.5,335.0 981.5,333.5 981.5,332.0 981.5,330.5 981.5,329.0 981.5,327.5 981.5,326.0 982.3,324.5 982.3,323.0 982.3,321.5 982.3,320.0 982.3,318.5 982.3,317.0 982.3,315.5 982.3,314.0 982.3,312.5 982.3,311.0 982.3,309.5 981.6,308.0 981.6,306.5 981.6,305.0 981.6,303.5 981.6,302.0 981.6,300.5 981.6,299.0 981.6,297.5 981.6,296.0 981.6,294.5 981.6,293.0 981.6,291.5 981.6,290.0 981.6,288.5 981.6,287.0 981.6,285.5 981.6,284.0 981.6,282.5 982.1,281.0 982.3,279.5 982.3,278.0 982.3,276.5 982.3,275.0 982.3,273.5 982.3,272.0 982.3,270.5 982.3,269.0 982.3,267.5 981.5,266.0 981.5,264.5 981.5,263.0 981.5,261.5 981.5,260.0 981.5,258.5 981.5,257.0 981.5,255.5 980.7,254.0 980.7,252.5 980.7,251.0 980.7,249.5 980.7,248.0 980.7,246.5 980.7,245.0 980.7,243.5 980.5,242.0"/></g>
<path d="M975.6 272.6h9.2M975.6 319.3h9.2" stroke="#1B9E77" stroke-width="2.0" fill="none"/>
<path d="M976.5 272.6h7.4M976.5 319.3h7.4" stroke="#fff" stroke-width="2.0" fill="none"/>
<path d="M957.2 296.0h46.0" stroke="#fff" stroke-width="4.0" fill="none"/>
<g fill="#D95F02" stroke="#D95F02" stroke-width="1" shape-rendering="crispEdges"><polygon points="1024.7,191.1 1024.7,192.6 1024.7,194.1 1024.7,195.6 1024.7,197.1 1024.7,198.6 1024.7,200.1 1024.7,201.6 1024.6,203.1 1024.6,204.6 1024.6,206.1 1024.6,207.6 1024.6,209.1 1024.6,210.6 1024.6,212.1 1024.6,213.6 1024.6,215.1 1023.9,216.6 1023.8,218.1 1023.8,219.6 1023.8,221.1 1023.8,222.6 1023.8,224.1 1023.8,225.6 1022.8,227.1 1022.6,228.6 1022.4,230.1 1022.2,231.6 1022.0,233.1 1021.8,234.6 1021.6,236.1 1021.3,237.6 1021.0,239.1 1020.5,240.6 1019.8,242.1 1019.2,243.6 1018.5,245.1 1017.9,246.6 1017.3,248.1 1016.6,249.6 1016.0,251.1 1015.4,252.6 1014.8,254.1 1014.2,255.6 1013.6,257.1 1013.1,258.6 1012.6,260.1 1012.1,261.6 1011.6,263.1 1011.2,264.6 1010.8,266.1 1010.4,267.6 1010.1,269.1 1009.8,270.6 1009.5,272.1 1009.2,273.6 1009.1,275.1 1008.9,276.6 1008.7,278.1 1008.6,279.6 1008.6,281.1 1008.6,282.6 1008.6,284.1 1008.7,285.6 1008.7,287.1 1008.8,288.6 1009.1,290.1 1009.4,291.6 1009.8,293.1 1010.3,294.6 1010.8,296.1 1011.4,297.6 1012.0,299.1 1012.7,300.6 1013.4,302.1 1014.0,303.6 1014.6,305.1 1015.2,306.6 1015.8,308.1 1016.4,309.6 1017.0,311.1 1017.5,312.6 1018.0,314.1 1018.5,315.6 1019.0,317.1 1019.5,318.6 1020.0,320.1 1020.4,321.6 1020.8,323.1 1021.1,324.6 1021.4,326.1 1021.7,327.6 1021.9,329.1 1022.2,330.6 1022.4,332.1 1022.7,333.6 1022.9,335.1 1023.2,336.6 1023.4,338.1 1023.7,339.6 1023.9,341.1 1024.1,342.6 1024.3,344.1 1024.4,345.6 1024.5,347.1 1024.6,348.6 1024.7,350.1 1024.7,351.6 1024.7,353.1 1024.7,354.6 1024.7,356.1 1024.7,357.6 1024.7,359.1 1024.7,360.6 1024.7,362.1 1024.7,363.6 1024.7,365.1 1024.7,366.6 1024.7,368.1 1024.7,369.6 1024.7,371.1 1024.7,372.6 1024.7,374.1 1024.7,375.6 1024.7,377.1 1024.7,378.6 1024.7,380.1 1024.7,381.6 1024.7,383.1 1024.7,384.6 1024.7,386.1 1024.7,387.6 1024.7,387.9 1024.7,387.9 1024.7,387.6 1024.7,386.1 1024.7,384.6 1024.7,383.1 1024.7,381.6 1024.7,380.1 1024.7,378.6 1024.7,377.1 1024.7,375.6 1024.7,374.1 1024.7,372.6 1024.7,371.1 1024.7,369.6 1024.7,368.1 1024.7,366.6 1024.7,365.1 1024.7,363.6 1024.7,362.1 1024.7,360.6 1024.7,359.1 1024.7,357.6 1024.7,356.1 1024.7,354.6 1024.7,353.1 1024.7,351.6 1024.7,350.1 1024.7,348.6 1024.8,347.1 1024.9,345.6 1025.1,344.1 1025.3,342.6 1025.5,341.1 1025.7,339.6 1026.0,338.1 1026.2,336.6 1026.4,335.1 1026.7,333.6 1026.9,332.1 1027.2,330.6 1027.5,329.1 1027.7,327.6 1028.0,326.1 1028.3,324.6 1028.6,323.1 1029.0,321.6 1029.4,320.1 1029.9,318.6 1030.4,317.1 1030.8,315.6 1031.4,314.1 1031.9,312.6 1032.4,311.1 1033.0,309.6 1033.5,308.1 1034.1,306.6 1034.8,305.1 1035.4,303.6 1036.0,302.1 1036.6,300.6 1037.3,299.1 1038.0,297.6 1038.6,296.1 1039.1,294.6 1039.6,293.1 1040.0,291.6 1040.3,290.1 1040.5,288.6 1040.6,287.1 1040.7,285.6 1040.7,284.1 1040.8,282.6 1040.8,281.1 1040.8,279.6 1040.6,278.1 1040.5,276.6 1040.3,275.1 1040.1,273.6 1039.9,272.1 1039.6,270.6 1039.3,269.1 1039.0,267.6 1038.6,266.1 1038.2,264.6 1037.8,263.1 1037.3,261.6 1036.8,260.1 1036.3,258.6 1035.8,257.1 1035.2,255.6 1034.6,254.1 1034.0,252.6 1033.4,251.1 1032.8,249.6 1032.1,248.1 1031.5,246.6 1030.9,245.1 1030.2,243.6 1029.5,242.1 1028.9,240.6 1028.4,239.1 1028.0,237.6 1027.8,236.1 1027.6,234.6 1027.3,233.1 1027.1,231.6 1027.0,230.1 1026.8,228.6 1026.5,227.1 1025.6,225.6 1025.6,224.1 1025.6,222.6 1025.6,221.1 1025.6,219.6 1025.6,218.1 1025.5,216.6 1024.8,215.1 1024.8,213.6 1024.8,212.1 1024.7,210.6 1024.7,209.1 1024.7,207.6 1024.7,206.1 1024.7,204.6 1024.7,203.1 1024.7,201.6 1024.7,200.1 1024.7,198.6 1024.7,197.1 1024.7,195.6 1024.7,194.1 1024.7,192.6 1024.7,191.1"/><polygon points="1024.7,510.0 1024.7,511.5 1024.7,513.0 1024.7,514.5 1024.7,516.0 1024.7,517.5 1024.7,519.0 1024.7,520.5 1024.7,522.0 1024.7,523.5 1024.7,525.0 1024.7,526.5 1024.7,528.0 1024.7,529.5 1024.7,531.0 1024.7,532.5 1024.7,534.0 1024.7,535.5 1024.7,537.0 1024.7,538.5 1024.7,540.0 1024.7,541.5 1024.7,543.0 1024.7,544.5 1024.7,546.0 1024.7,547.5 1024.7,549.0 1024.7,550.5 1024.7,552.0 1024.7,553.5 1024.7,555.0 1024.7,556.5 1024.7,558.0 1024.7,559.5 1024.7,561.0 1024.7,562.5 1024.7,564.0 1024.7,565.5 1024.7,567.0 1024.7,568.5 1024.7,570.0 1024.7,571.5 1024.7,573.0 1024.7,574.5 1024.7,576.0 1024.7,577.5 1024.7,577.9 1024.7,577.9 1024.7,577.5 1024.7,576.0 1024.7,574.5 1024.7,573.0 1024.7,571.5 1024.7,570.0 1024.7,568.5 1024.7,567.0 1024.7,565.5 1024.7,564.0 1024.7,562.5 1024.7,561.0 1024.7,559.5 1024.7,558.0 1024.7,556.5 1024.7,555.0 1024.7,553.5 1024.7,552.0 1024.7,550.5 1024.7,549.0 1024.7,547.5 1024.7,546.0 1024.7,544.5 1024.7,543.0 1024.7,541.5 1024.7,540.0 1024.7,538.5 1024.7,537.0 1024.7,535.5 1024.7,534.0 1024.7,532.5 1024.7,531.0 1024.7,529.5 1024.7,528.0 1024.7,526.5 1024.7,525.0 1024.7,523.5 1024.7,522.0 1024.7,520.5 1024.7,519.0 1024.7,517.5 1024.7,516.0 1024.7,514.5 1024.7,513.0 1024.7,511.5 1024.7,510.0"/></g>
<path d="M1020.1 230.4h9.2M1020.1 233.3h9.2M1020.1 239.0h9.2M1020.1 250.0h9.2M1020.1 252.2h9.2M1020.1 255.0h9.2M1020.1 258.0h9.2M1020.1 261.0h9.2M1020.1 263.1h9.2M1020.1 265.1h9.2M1020.1 267.2h9.2M1020.1 269.2h9.2M1020.1 271.3h9.2M1020.1 273.3h9.2M1020.1 275.4h9.2M1020.1 277.5h9.2M1020.1 280.0h9.2M1020.1 282.5h9.2M1020.1 289.5h9.2M1020.1 291.6h9.2M1020.1 293.7h9.2M1020.1 295.8h9.2M1020.1 297.9h9.2M1020.1 300.0h9.2M1020.1 302.1h9.2M1020.1 308.5h9.2M1020.1 315.0h9.2M1020.1 319.8h9.2M1020.1 321.6h9.2M1020.1 353.9h9.2M1020.1 543.3h9.2" stroke="#D95F02" stroke-width="2.0" fill="none"/>
<path d="M1021.0 230.4h7.4M1021.0 233.3h7.4M1020.7 239.0h8.0M1020.1 250.0h9.2M1020.1 252.2h9.2M1020.1 255.0h9.2M1020.1 258.0h9.2M1020.1 261.0h9.2M1020.1 263.1h9.2M1020.1 265.1h9.2M1020.1 267.2h9.2M1020.1 269.2h9.2M1020.1 271.3h9.2M1020.1 273.3h9.2M1020.1 275.4h9.2M1020.1 277.5h9.2M1020.1 280.0h9.2M1020.1 282.5h9.2M1020.1 289.5h9.2M1020.1 291.6h9.2M1020.1 293.7h9.2M1020.1 295.8h9.2M1020.1 297.9h9.2M1020.1 300.0h9.2M1020.1 302.1h9.2M1020.1 308.5h9.2M1020.1 315.0h9.2M1020.1 319.8h9.2M1020.1 321.6h9.2M1023.0 353.9h3.4M1023.0 543.3h3.4" stroke="#fff" stroke-width="2.0" fill="none"/>
<path d="M1001.7 286.0h46.0" stroke="#fff" stroke-width="4.0" fill="none"/>
<g fill="#7570B3" stroke="#7570B3" stroke-width="1" shape-rendering="crispEdges"><polygon points="1069.2,260.0 1069.2,261.5 1069.2,263.0 1069.1,264.5 1069.0,266.0 1068.8,267.5 1068.6,269.0 1068.5,270.5 1068.3,272.0 1068.2,273.5 1068.1,275.0 1068.0,276.5 1067.8,278.0 1067.7,279.5 1067.7,281.0 1067.6,282.5 1067.5,284.0 1067.5,285.5 1067.4,287.0 1067.4,288.5 1067.4,290.0 1067.4,291.5 1067.4,293.0 1067.4,294.5 1067.4,296.0 1067.4,297.5 1067.4,299.0 1067.5,300.5 1067.5,302.0 1067.6,303.5 1067.6,305.0 1067.7,306.5 1067.8,308.0 1067.9,309.5 1068.0,311.0 1068.2,312.5 1068.3,314.0 1068.5,315.5 1068.7,317.0 1069.0,318.5 1069.2,320.0 1069.2,321.5 1069.2,323.0 1069.2,324.5 1069.2,325.7 1069.2,325.7 1069.2,324.5 1069.2,323.0 1069.2,321.5 1069.2,320.0 1069.4,318.5 1069.6,317.0 1069.8,315.5 1070.0,314.0 1070.2,312.5 1070.3,311.0 1070.4,309.5 1070.5,308.0 1070.6,306.5 1070.7,305.0 1070.8,303.5 1070.8,302.0 1070.9,300.5 1070.9,299.0 1070.9,297.5 1071.0,296.0 1071.0,294.5 1071.0,293.0 1071.0,291.5 1071.0,290.0 1070.9,288.5 1070.9,287.0 1070.9,285.5 1070.8,284.0 1070.7,282.5 1070.7,281.0 1070.6,279.5 1070.5,278.0 1070.4,276.5 1070.2,275.0 1070.1,273.5 1070.0,272.0 1069.8,270.5 1069.7,269.0 1069.5,267.5 1069.4,266.0 1069.2,264.5 1069.2,263.0 1069.2,261.5 1069.2,260.0"/></g>
<path d="M1064.6 293.0h9.2" stroke="#7570B3" stroke-width="2.0" fill="none"/>
<path d="M1065.5 293.0h7.4" stroke="#fff" stroke-width="2.0" fill="none"/>
<g fill="#E7298A" stroke="#E7298A" stroke-width="1" shape-rendering="crispEdges"><polygon points="1113.6,186.1 1113.6,187.6 1113.6,189.1 1113.6,190.6 1113.6,192.1 1113.6,193.6 1113.6,195.1 1113.4,196.6 1113.2,198.1 1112.9,199.6 1112.6,201.1 1112.3,202.6 1112.0,204.1 1111.6,205.6 1111.2,207.1 1110.8,208.6 1110.4,210.1 1110.1,211.6 1109.7,213.1 1109.4,214.6 1109.1,216.1 1108.8,217.6 1108.4,219.1 1108.1,220.6 1107.8,222.1 1107.5,223.6 1107.2,225.1 1106.9,226.6 1106.6,228.1 1106.4,229.6 1106.1,231.1 1105.8,232.6 1105.5,234.1 1105.3,235.6 1105.0,237.1 1104.8,238.6 1104.5,240.1 1104.3,241.6 1104.1,243.1 1103.9,244.6 1103.6,246.1 1103.4,247.6 1103.2,249.1 1103.0,250.6 1102.8,252.1 1102.6,253.6 1102.4,255.1 1102.2,256.6 1102.0,258.1 1101.8,259.6 1101.6,261.1 1101.4,262.6 1101.3,264.1 1101.1,265.6 1101.0,267.1 1100.9,268.6 1100.8,270.1 1100.7,271.6 1100.7,273.1 1100.6,274.6 1100.6,276.1 1100.7,277.6 1100.7,279.1 1100.7,280.6 1100.8,282.1 1100.9,283.6 1101.2,285.1 1101.5,286.6 1101.7,288.1 1102.1,289.6 1102.5,291.1 1103.0,292.6 1103.5,294.1 1104.0,295.6 1104.7,297.1 1105.3,298.6 1106.0,300.1 1106.6,301.6 1107.1,303.1 1107.5,304.6 1108.0,306.1 1108.4,307.6 1108.7,309.1 1109.0,310.6 1109.2,312.1 1109.4,313.6 1109.6,315.1 1109.9,316.6 1110.1,318.1 1110.5,319.6 1110.8,321.1 1111.0,322.6 1111.2,324.1 1111.3,325.6 1111.4,327.1 1111.5,328.6 1111.6,330.1 1111.7,331.6 1111.8,333.1 1111.8,334.6 1111.9,336.1 1112.0,337.6 1112.1,339.1 1112.2,340.6 1112.4,342.1 1112.5,343.6 1112.5,345.1 1112.6,346.6 1112.6,348.1 1112.7,349.6 1112.7,351.1 1112.8,352.6 1112.8,354.1 1112.9,355.6 1112.9,357.1 1113.0,358.6 1113.1,360.1 1113.2,361.6 1113.3,363.1 1113.4,364.6 1113.5,366.1 1113.6,367.6 1113.6,369.1 1113.6,370.6 1113.6,372.1 1113.6,373.6 1113.6,375.1 1113.6,376.6 1113.6,378.1 1113.6,379.6 1113.6,381.1 1113.6,382.6 1113.6,384.1 1113.6,385.0 1113.6,385.0 1113.6,384.1 1113.6,382.6 1113.6,381.1 1113.6,379.6 1113.6,378.1 1113.6,376.6 1113.6,375.1 1113.6,373.6 1113.6,372.1 1113.7,370.6 1113.7,369.1 1113.7,367.6 1113.7,366.1 1113.8,364.6 1113.9,363.1 1114.1,361.6 1114.2,360.1 1114.3,358.6 1114.3,357.1 1114.4,355.6 1114.5,354.1 1114.5,352.6 1114.6,351.1 1114.6,349.6 1114.6,348.1 1114.7,346.6 1114.7,345.1 1114.8,343.6 1114.9,342.1 1115.0,340.6 1115.1,339.1 1115.2,337.6 1115.3,336.1 1115.4,334.6 1115.5,333.1 1115.6,331.6 1115.7,330.1 1115.8,328.6 1115.8,327.1 1116.0,325.6 1116.1,324.1 1116.3,322.6 1116.5,321.1 1116.8,319.6 1117.1,318.1 1117.4,316.6 1117.6,315.1 1117.8,313.6 1118.1,312.1 1118.3,310.6 1118.6,309.1 1118.9,307.6 1119.3,306.1 1119.7,304.6 1120.2,303.1 1120.7,301.6 1121.3,300.1 1121.9,298.6 1122.6,297.1 1123.2,295.6 1123.7,294.1 1124.3,292.6 1124.7,291.1 1125.2,289.6 1125.5,288.1 1125.8,286.6 1126.1,285.1 1126.3,283.6 1126.5,282.1 1126.5,280.6 1126.6,279.1 1126.6,277.6 1126.6,276.1 1126.6,274.6 1126.6,273.1 1126.5,271.6 1126.4,270.1 1126.3,268.6 1126.2,267.1 1126.1,265.6 1126.0,264.1 1125.8,262.6 1125.7,261.1 1125.5,259.6 1125.3,258.1 1125.1,256.6 1124.9,255.1 1124.7,253.6 1124.5,252.1 1124.3,250.6 1124.1,249.1 1123.8,247.6 1123.6,246.1 1123.4,244.6 1123.2,243.1 1123.0,241.6 1122.7,240.1 1122.5,238.6 1122.2,237.1 1122.0,235.6 1121.7,234.1 1121.5,232.6 1121.2,231.1 1120.9,229.6 1120.6,228.1 1120.3,226.6 1120.0,225.1 1119.8,223.6 1119.4,222.1 1119.1,220.6 1118.8,219.1 1118.5,217.6 1118.2,216.1 1117.9,214.6 1117.5,213.1 1117.2,211.6 1116.8,210.1 1116.5,208.6 1116.1,207.1 1115.7,205.6 1115.3,204.1 1114.9,202.6 1114.6,201.1 1114.3,199.6 1114.1,198.1 1113.9,196.6 1113.7,195.1 1113.6,193.6 1113.6,192.1 1113.6,190.6 1113.6,189.1 1113.6,187.6 1113.6,186.1"/></g>
<path d="M1109.0 226.1h9.2M1109.0 229.0h9.2M1109.0 234.0h9.2M1109.0 245.1h9.2M1109.0 250.4h9.2M1109.0 259.0h9.2M1109.0 266.1h9.2M1109.0 279.0h9.2M1109.0 282.0h9.2M1109.0 285.4h9.2M1109.0 291.9h9.2M1109.0 295.7h9.2M1109.0 323.6h9.2M1109.0 351.0h9.2" stroke="#E7298A" stroke-width="2.0" fill="none"/>
<path d="M1109.0 226.1h9.2M1109.0 229.0h9.2M1109.0 234.0h9.2M1109.0 245.1h9.2M1109.0 250.4h9.2M1109.0 259.0h9.2M1109.0 266.1h9.2M1109.0 279.0h9.2M1109.0 282.0h9.2M1109.0 285.4h9.2M1109.0 291.9h9.2M1109.0 295.7h9.2M1109.9 323.6h7.4M1110.6 351.0h6.1" stroke="#fff" stroke-width="2.0" fill="none"/>
<path d="M1090.6 272.0h46.0" stroke="#fff" stroke-width="4.0" fill="none"/>
<g fill="#66A61E" stroke="#66A61E" stroke-width="1" shape-rendering="crispEdges"><polygon points="1158.1,204.0 1158.1,205.5 1158.1,207.0 1158.1,208.5 1158.1,210.0 1158.0,211.5 1157.8,213.0 1157.7,214.5 1157.5,216.0 1157.3,217.5 1157.1,219.0 1156.9,220.5 1156.7,222.0 1156.5,223.5 1156.3,225.0 1156.1,226.5 1155.8,228.0 1155.6,229.5 1155.4,231.0 1155.2,232.5 1154.9,234.0 1154.7,235.5 1154.4,237.0 1154.3,238.5 1154.2,240.0 1154.1,241.5 1154.0,243.0 1153.9,244.5 1153.9,246.0 1153.9,247.5 1153.9,249.0 1154.0,250.5 1154.0,252.0 1154.0,253.5 1154.2,255.0 1154.3,256.5 1154.4,258.0 1154.5,259.5 1154.5,261.0 1154.5,262.5 1154.5,264.0 1154.5,265.5 1154.5,267.0 1154.5,268.5 1154.5,270.0 1154.5,271.5 1154.5,273.0 1154.5,274.5 1154.5,276.0 1154.4,277.5 1154.3,279.0 1154.1,280.5 1154.0,282.0 1153.8,283.5 1153.6,285.0 1153.4,286.5 1153.2,288.0 1152.9,289.5 1152.5,291.0 1152.1,292.5 1151.8,294.0 1151.5,295.5 1151.4,297.0 1151.2,298.5 1151.0,300.0 1150.9,301.5 1150.8,303.0 1150.7,304.5 1150.7,306.0 1150.7,307.5 1150.8,309.0 1150.9,310.5 1151.1,312.0 1151.2,313.5 1151.4,315.0 1151.6,316.5 1151.8,318.0 1152.0,319.5 1152.3,321.0 1152.5,322.5 1152.8,324.0 1153.1,325.5 1153.4,327.0 1153.8,328.5 1154.1,330.0 1154.3,331.5 1154.5,333.0 1154.7,334.5 1154.8,336.0 1155.0,337.5 1155.1,339.0 1155.2,340.5 1155.3,342.0 1155.4,343.5 1155.5,345.0 1155.6,346.5 1155.6,348.0 1155.7,349.5 1155.7,351.0 1155.7,352.5 1155.7,354.0 1155.7,355.5 1155.7,357.0 1155.7,358.5 1155.7,360.0 1155.7,361.5 1155.7,363.0 1155.7,364.5 1155.7,366.0 1155.7,367.5 1155.7,369.0 1155.6,370.5 1155.5,372.0 1155.4,373.5 1155.3,375.0 1155.2,376.5 1155.1,378.0 1155.1,379.5 1155.0,381.0 1154.9,382.5 1154.9,384.0 1154.8,385.5 1154.7,387.0 1154.7,388.5 1154.6,390.0 1154.6,391.5 1154.5,393.0 1154.5,394.5 1154.5,396.0 1154.4,397.5 1154.4,399.0 1154.4,400.5 1154.4,402.0 1154.3,403.5 1154.3,405.0 1154.3,406.5 1154.3,408.0 1154.3,409.5 1154.3,411.0 1154.3,412.5 1154.3,414.0 1154.3,415.5 1154.4,417.0 1154.4,418.5 1154.4,420.0 1154.4,421.5 1154.5,423.0 1154.5,424.5 1154.6,426.0 1154.7,427.5 1154.8,429.0 1155.0,430.5 1155.1,432.0 1155.4,433.5 1155.6,435.0 1155.8,436.5 1156.0,438.0 1156.2,439.5 1156.4,441.0 1156.5,442.5 1156.7,444.0 1156.9,445.5 1157.0,447.0 1157.2,448.5 1157.4,450.0 1157.5,451.5 1157.7,453.0 1157.8,454.5 1157.9,456.0 1158.0,457.5 1158.1,459.0 1158.1,460.5 1158.1,462.0 1158.1,463.5 1158.1,465.0 1158.1,466.5 1158.1,468.0 1158.1,469.5 1158.1,470.0 1158.1,470.0 1158.1,469.5 1158.1,468.0 1158.1,466.5 1158.1,465.0 1158.1,463.5 1158.1,462.0 1158.1,460.5 1158.1,459.0 1158.2,457.5 1158.3,456.0 1158.4,454.5 1158.5,453.0 1158.7,451.5 1158.8,450.0 1159.0,448.5 1159.2,447.0 1159.3,445.5 1159.5,444.0 1159.7,442.5 1159.8,441.0 1160.0,439.5 1160.2,438.0 1160.4,436.5 1160.6,435.0 1160.8,433.5 1161.1,432.0 1161.2,430.5 1161.4,429.0 1161.5,427.5 1161.6,426.0 1161.7,424.5 1161.7,423.0 1161.8,421.5 1161.8,420.0 1161.8,418.5 1161.8,417.0 1161.9,415.5 1161.9,414.0 1161.9,412.5 1161.9,411.0 1161.9,409.5 1161.9,408.0 1161.9,406.5 1161.9,405.0 1161.9,403.5 1161.8,402.0 1161.8,400.5 1161.8,399.0 1161.8,397.5 1161.7,396.0 1161.7,394.5 1161.7,393.0 1161.6,391.5 1161.6,390.0 1161.5,388.5 1161.5,387.0 1161.4,385.5 1161.3,384.0 1161.3,382.5 1161.2,381.0 1161.1,379.5 1161.1,378.0 1161.0,376.5 1160.9,375.0 1160.8,373.5 1160.7,372.0 1160.6,370.5 1160.5,369.0 1160.5,367.5 1160.5,366.0 1160.5,364.5 1160.5,363.0 1160.5,361.5 1160.5,360.0 1160.5,358.5 1160.5,357.0 1160.5,355.5 1160.5,354.0 1160.5,352.5 1160.5,351.0 1160.5,349.5 1160.6,348.0 1160.6,346.5 1160.7,345.0 1160.8,343.5 1160.9,342.0 1161.0,340.5 1161.1,339.0 1161.2,337.5 1161.4,336.0 1161.5,334.5 1161.7,333.0 1161.9,331.5 1162.1,330.0 1162.4,328.5 1162.8,327.0 1163.1,325.5 1163.4,324.0 1163.7,322.5 1163.9,321.0 1164.2,319.5 1164.4,318.0 1164.6,316.5 1164.8,315.0 1165.0,313.5 1165.1,312.0 1165.3,310.5 1165.4,309.0 1165.5,307.5 1165.5,306.0 1165.5,304.5 1165.4,303.0 1165.3,301.5 1165.2,300.0 1165.0,298.5 1164.8,297.0 1164.7,295.5 1164.4,294.0 1164.1,292.5 1163.7,291.0 1163.3,289.5 1163.0,288.0 1162.8,286.5 1162.6,285.0 1162.4,283.5 1162.2,282.0 1162.1,280.5 1161.9,279.0 1161.8,277.5 1161.7,276.0 1161.7,274.5 1161.7,273.0 1161.7,271.5 1161.7,270.0 1161.7,268.5 1161.7,267.0 1161.7,265.5 1161.7,264.0 1161.7,262.5 1161.7,261.0 1161.7,259.5 1161.8,258.0 1161.9,256.5 1162.0,255.0 1162.2,253.5 1162.2,252.0 1162.2,250.5 1162.3,249.0 1162.3,247.5 1162.3,246.0 1162.3,244.5 1162.2,243.0 1162.1,241.5 1162.0,240.0 1161.9,238.5 1161.8,237.0 1161.5,235.5 1161.3,234.0 1161.0,232.5 1160.8,231.0 1160.6,229.5 1160.4,228.0 1160.1,226.5 1159.9,225.0 1159.7,223.5 1159.5,222.0 1159.3,220.5 1159.1,219.0 1158.9,217.5 1158.7,216.0 1158.5,214.5 1158.4,213.0 1158.2,211.5 1158.1,210.0 1158.1,208.5 1158.1,207.0 1158.1,205.5 1158.1,204.0"/><polygon points="1158.1,475.0 1158.1,476.5 1158.1,478.0 1158.1,479.5 1158.1,481.0 1158.1,482.5 1158.0,484.0 1158.0,485.5 1157.9,487.0 1157.9,488.5 1157.9,490.0 1157.8,491.5 1157.8,493.0 1157.8,494.5 1157.8,496.0 1157.8,497.5 1157.8,499.0 1157.8,500.5 1157.8,502.0 1157.8,503.5 1157.8,505.0 1157.8,506.5 1157.8,508.0 1157.8,509.5 1157.8,511.0 1157.8,512.5 1157.8,514.0 1157.8,515.5 1157.8,517.0 1157.8,518.5 1157.8,520.0 1157.8,521.5 1157.8,523.0 1157.8,524.5 1157.8,526.0 1157.8,527.5 1157.8,529.0 1157.8,530.5 1157.8,532.0 1157.8,533.5 1157.8,535.0 1157.8,536.5 1157.8,538.0 1157.8,539.5 1157.8,541.0 1157.8,542.5 1157.8,544.0 1157.8,545.5 1157.8,547.0 1157.8,548.5 1157.8,550.0 1157.8,551.5 1157.8,553.0 1157.8,554.5 1157.8,556.0 1157.8,557.5 1157.8,559.0 1157.8,560.5 1157.8,562.0 1157.8,563.5 1157.8,565.0 1157.8,566.5 1157.8,568.0 1157.8,569.5 1157.8,571.0 1157.8,572.5 1157.9,574.0 1157.9,575.5 1158.0,577.0 1158.0,578.5 1158.1,580.0 1158.1,581.5 1158.1,583.0 1158.1,584.5 1158.1,586.0 1158.1,587.5 1158.1,589.0 1158.1,590.0 1158.1,590.0 1158.1,589.0 1158.1,587.5 1158.1,586.0 1158.1,584.5 1158.1,583.0 1158.1,581.5 1158.1,580.0 1158.2,578.5 1158.2,577.0 1158.3,575.5 1158.3,574.0 1158.4,572.5 1158.4,571.0 1158.4,569.5 1158.4,568.0 1158.4,566.5 1158.4,565.0 1158.4,563.5 1158.4,562.0 1158.4,560.5 1158.4,559.0 1158.4,557.5 1158.4,556.0 1158.4,554.5 1158.4,553.0 1158.4,551.5 1158.4,550.0 1158.4,548.5 1158.4,547.0 1158.4,545.5 1158.4,544.0 1158.4,542.5 1158.4,541.0 1158.4,539.5 1158.4,538.0 1158.4,536.5 1158.4,535.0 1158.4,533.5 1158.4,532.0 1158.4,530.5 1158.4,529.0 1158.4,527.5 1158.4,526.0 1158.4,524.5 1158.4,523.0 1158.4,521.5 1158.4,520.0 1158.4,518.5 1158.4,517.0 1158.4,515.5 1158.4,514.0 1158.4,512.5 1158.4,511.0 1158.4,509.5 1158.4,508.0 1158.4,506.5 1158.4,505.0 1158.4,503.5 1158.4,502.0 1158.4,500.5 1158.4,499.0 1158.4,497.5 1158.4,496.0 1158.4,494.5 1158.4,493.0 1158.4,491.5 1158.3,490.0 1158.3,488.5 1158.3,487.0 1158.2,485.5 1158.2,484.0 1158.1,482.5 1158.1,481.0 1158.1,479.5 1158.1,478.0 1158.1,476.5 1158.1,475.0"/></g>
<path d="M1153.5 240.0h9.2M1153.5 242.5h9.2M1153.5 246.0h9.2M1153.5 248.5h9.2M1153.5 250.7h9.2M1153.5 262.6h9.2M1153.5 280.4h9.2M1153.5 286.1h9.2M1153.5 297.0h9.2M1153.5 299.5h9.2M1153.5 302.0h9.2M1153.5 304.5h9.2M1153.5 313.5h9.2M1153.5 316.0h9.2M1153.5 321.4h9.2M1153.5 330.0h9.2M1153.5 332.5h9.2M1153.5 353.9h9.2M1153.5 366.4h9.2M1153.5 385.7h9.2M1153.5 397.1h9.2M1153.5 415.7h9.2M1153.5 429.3h9.2M1153.5 501.0h9.2M1153.5 533.6h9.2M1153.5 567.1h9.2" stroke="#66A61E" stroke-width="2.0" fill="none"/>
<path d="M1153.7 240.0h8.7M1153.5 242.5h9.1M1153.5 246.0h9.2M1153.5 248.5h9.2M1153.5 250.7h9.2M1154.0 262.6h8.2M1153.7 280.4h8.8M1153.5 286.1h9.2M1153.5 297.0h9.2M1153.5 299.5h9.2M1153.5 302.0h9.2M1153.5 304.5h9.2M1153.5 313.5h9.2M1153.5 316.0h9.2M1153.5 321.4h9.2M1153.7 330.0h8.8M1154.0 332.5h8.1M1154.4 353.9h7.4M1154.4 366.4h7.4M1154.3 385.7h7.5M1154.0 397.1h8.3M1153.9 415.7h8.5M1154.4 429.3h7.4M1155.9 501.0h4.3M1155.9 533.6h4.3M1155.9 567.1h4.3" stroke="#fff" stroke-width="2.0" fill="none"/>
<path d="M1135.1 342.4h46.0" stroke="#fff" stroke-width="4.0" fill="none"/>
<g fill="#E6AB02" stroke="#E6AB02" stroke-width="1" shape-rendering="crispEdges"><polygon points="1202.6,212.1 1202.6,213.6 1202.6,215.1 1202.6,216.6 1202.6,218.1 1202.4,219.6 1202.3,221.1 1202.1,222.6 1201.9,224.1 1201.6,225.6 1201.2,227.1 1200.8,228.6 1200.4,230.1 1199.9,231.6 1199.3,233.1 1198.6,234.6 1197.9,236.1 1197.3,237.6 1196.6,239.1 1196.0,240.6 1195.5,242.1 1194.9,243.6 1194.3,245.1 1193.7,246.6 1193.1,248.1 1192.4,249.6 1191.8,251.1 1191.3,252.6 1190.7,254.1 1190.2,255.6 1189.7,257.1 1189.2,258.6 1188.9,260.1 1188.6,261.6 1188.3,263.1 1188.1,264.6 1187.9,266.1 1187.8,267.6 1187.8,269.1 1187.7,270.6 1187.7,272.1 1187.7,273.6 1187.7,275.1 1188.0,276.6 1188.4,278.1 1188.8,279.6 1189.2,281.1 1189.5,282.6 1189.9,284.1 1190.2,285.6 1190.6,287.1 1191.0,288.6 1191.5,290.1 1192.0,291.6 1192.4,293.1 1192.9,294.6 1193.5,296.1 1194.0,297.6 1194.6,299.1 1195.1,300.6 1195.6,302.1 1195.9,303.6 1196.3,305.1 1196.5,306.6 1196.8,308.1 1197.0,309.6 1197.2,311.1 1197.3,312.6 1197.5,314.1 1197.6,315.6 1197.7,317.1 1197.8,318.6 1198.0,320.1 1198.1,321.6 1198.1,323.1 1198.2,324.6 1198.3,326.1 1198.3,327.6 1198.4,329.1 1198.5,330.6 1198.6,332.1 1198.7,333.6 1198.9,335.1 1199.0,336.6 1199.2,338.1 1199.3,339.6 1199.5,341.1 1199.6,342.6 1199.8,344.1 1199.9,345.6 1200.1,347.1 1200.2,348.6 1200.3,350.1 1200.4,351.6 1200.6,353.1 1200.7,354.6 1200.8,356.1 1200.9,357.6 1201.1,359.1 1201.2,360.6 1201.2,362.1 1201.3,363.6 1201.4,365.1 1201.5,366.6 1201.6,368.1 1201.7,369.6 1201.9,371.1 1202.0,372.6 1202.1,374.1 1202.2,375.6 1202.3,377.1 1202.4,378.6 1202.4,380.1 1202.5,381.6 1202.6,383.1 1202.6,384.6 1202.6,386.1 1202.6,387.6 1202.6,389.1 1202.6,390.6 1202.6,392.1 1202.6,392.9 1202.6,392.9 1202.6,392.1 1202.6,390.6 1202.6,389.1 1202.6,387.6 1202.6,386.1 1202.6,384.6 1202.6,383.1 1202.6,381.6 1202.7,380.1 1202.8,378.6 1202.9,377.1 1202.9,375.6 1203.0,374.1 1203.1,372.6 1203.3,371.1 1203.4,369.6 1203.5,368.1 1203.7,366.6 1203.8,365.1 1203.8,363.6 1203.9,362.1 1204.0,360.6 1204.1,359.1 1204.2,357.6 1204.3,356.1 1204.4,354.6 1204.6,353.1 1204.7,351.6 1204.8,350.1 1205.0,348.6 1205.1,347.1 1205.2,345.6 1205.4,344.1 1205.5,342.6 1205.6,341.1 1205.8,339.6 1206.0,338.1 1206.1,336.6 1206.3,335.1 1206.4,333.6 1206.6,332.1 1206.7,330.6 1206.8,329.1 1206.8,327.6 1206.9,326.1 1206.9,324.6 1207.0,323.1 1207.1,321.6 1207.2,320.1 1207.3,318.6 1207.4,317.1 1207.5,315.6 1207.7,314.1 1207.8,312.6 1208.0,311.1 1208.1,309.6 1208.3,308.1 1208.6,306.6 1208.9,305.1 1209.2,303.6 1209.6,302.1 1210.0,300.6 1210.5,299.1 1211.1,297.6 1211.7,296.1 1212.2,294.6 1212.7,293.1 1213.2,291.6 1213.7,290.1 1214.1,288.6 1214.5,287.1 1214.9,285.6 1215.3,284.1 1215.6,282.6 1216.0,281.1 1216.4,279.6 1216.8,278.1 1217.2,276.6 1217.4,275.1 1217.5,273.6 1217.5,272.1 1217.4,270.6 1217.4,269.1 1217.3,267.6 1217.2,266.1 1217.1,264.6 1216.8,263.1 1216.6,261.6 1216.3,260.1 1215.9,258.6 1215.5,257.1 1215.0,255.6 1214.4,254.1 1213.9,252.6 1213.3,251.1 1212.7,249.6 1212.1,248.1 1211.5,246.6 1210.9,245.1 1210.3,243.6 1209.7,242.1 1209.1,240.6 1208.5,239.1 1207.9,237.6 1207.2,236.1 1206.5,234.6 1205.8,233.1 1205.2,231.6 1204.8,230.1 1204.3,228.6 1203.9,227.1 1203.6,225.6 1203.3,224.1 1203.1,222.6 1202.9,221.1 1202.7,219.6 1202.6,218.1 1202.6,216.6 1202.6,215.1 1202.6,213.6 1202.6,212.1"/></g>
<path d="M1198.0 250.7h9.2M1198.0 258.3h9.2M1198.0 272.6h9.2M1198.0 275.4h9.2M1198.0 292.9h9.2M1198.0 324.0h9.2M1198.0 358.6h9.2" stroke="#E6AB02" stroke-width="2.0" fill="none"/>
<path d="M1198.0 250.7h9.2M1198.0 258.3h9.2M1198.0 272.6h9.2M1198.0 275.4h9.2M1198.0 292.9h9.2M1198.0 324.0h9.2M1198.9 358.6h7.4" stroke="#fff" stroke-width="2.0" fill="none"/>
<path d="M1179.6 287.3h46.0" stroke="#fff" stroke-width="4.0" fill="none"/>
<g fill="#A6761D" stroke="#A6761D" stroke-width="1" shape-rendering="crispEdges"><polygon points="1247.0,194.0 1247.0,195.5 1247.0,197.0 1247.0,198.5 1247.0,200.0 1247.0,201.5 1247.0,203.0 1247.0,204.5 1247.0,206.0 1247.0,207.5 1247.0,209.0 1247.0,210.5 1247.0,212.0 1247.0,213.5 1247.0,215.0 1247.0,216.5 1247.0,218.0 1246.6,219.5 1246.3,221.0 1246.2,222.5 1246.2,224.0 1246.2,225.5 1246.2,227.0 1246.2,228.5 1246.2,230.0 1246.2,231.5 1246.2,233.0 1246.2,234.5 1246.2,236.0 1246.2,237.5 1246.2,239.0 1246.2,240.5 1246.2,242.0 1246.2,243.5 1246.2,245.0 1246.2,246.5 1246.2,248.0 1246.2,249.5 1246.2,251.0 1246.2,252.5 1246.1,254.0 1245.8,255.5 1245.5,257.0 1245.0,258.5 1244.6,260.0 1244.2,261.5 1243.8,263.0 1243.5,264.5 1243.2,266.0 1242.8,267.5 1242.4,269.0 1242.0,270.5 1241.7,272.0 1241.3,273.5 1240.9,275.0 1240.4,276.5 1240.0,278.0 1239.6,279.5 1239.2,281.0 1238.8,282.5 1238.4,284.0 1238.1,285.5 1237.8,287.0 1237.4,288.5 1237.0,290.0 1236.7,291.5 1236.3,293.0 1235.9,294.5 1235.4,296.0 1234.9,297.5 1234.4,299.0 1233.9,300.5 1233.6,302.0 1233.4,303.5 1233.2,305.0 1233.1,306.5 1232.9,308.0 1232.8,309.5 1232.7,311.0 1232.5,312.5 1232.5,314.0 1232.5,315.5 1232.6,317.0 1232.9,318.5 1233.2,320.0 1233.6,321.5 1234.0,323.0 1234.4,324.5 1234.8,326.0 1235.2,327.5 1235.6,329.0 1236.1,330.5 1236.5,332.0 1237.0,333.5 1237.5,335.0 1238.0,336.5 1238.5,338.0 1239.0,339.5 1239.4,341.0 1239.9,342.5 1240.4,344.0 1240.8,345.5 1241.1,347.0 1241.5,348.5 1241.8,350.0 1242.1,351.5 1242.3,353.0 1242.5,354.5 1242.7,356.0 1243.0,357.5 1243.2,359.0 1243.5,360.5 1243.8,362.0 1244.1,363.5 1244.4,365.0 1244.7,366.5 1244.9,368.0 1245.2,369.5 1245.4,371.0 1245.6,372.5 1245.8,374.0 1246.0,375.5 1246.1,377.0 1246.2,378.5 1246.4,380.0 1246.5,381.5 1246.7,383.0 1246.8,384.5 1246.9,386.0 1247.0,387.5 1247.0,389.0 1247.0,390.5 1247.0,392.0 1247.0,393.5 1247.0,395.0 1247.0,396.5 1247.0,398.0 1247.0,399.5 1247.0,401.0 1247.0,401.9 1247.0,401.9 1247.0,401.0 1247.0,399.5 1247.0,398.0 1247.0,396.5 1247.0,395.0 1247.0,393.5 1247.0,392.0 1247.0,390.5 1247.0,389.0 1247.1,387.5 1247.2,386.0 1247.3,384.5 1247.4,383.0 1247.6,381.5 1247.7,380.0 1247.8,378.5 1248.0,377.0 1248.1,375.5 1248.3,374.0 1248.5,372.5 1248.7,371.0 1248.9,369.5 1249.2,368.0 1249.4,366.5 1249.7,365.0 1250.0,363.5 1250.3,362.0 1250.6,360.5 1250.9,359.0 1251.1,357.5 1251.3,356.0 1251.5,354.5 1251.8,353.0 1252.0,351.5 1252.3,350.0 1252.6,348.5 1253.0,347.0 1253.3,345.5 1253.7,344.0 1254.2,342.5 1254.6,341.0 1255.1,339.5 1255.6,338.0 1256.1,336.5 1256.6,335.0 1257.1,333.5 1257.5,332.0 1258.0,330.5 1258.5,329.0 1258.9,327.5 1259.3,326.0 1259.7,324.5 1260.1,323.0 1260.5,321.5 1260.9,320.0 1261.2,318.5 1261.5,317.0 1261.6,315.5 1261.6,314.0 1261.5,312.5 1261.4,311.0 1261.3,309.5 1261.1,308.0 1261.0,306.5 1260.9,305.0 1260.7,303.5 1260.5,302.0 1260.2,300.5 1259.7,299.0 1259.2,297.5 1258.6,296.0 1258.2,294.5 1257.8,293.0 1257.4,291.5 1257.1,290.0 1256.7,288.5 1256.3,287.0 1256.0,285.5 1255.6,284.0 1255.3,282.5 1254.9,281.0 1254.5,279.5 1254.1,278.0 1253.6,276.5 1253.2,275.0 1252.8,273.5 1252.4,272.0 1252.0,270.5 1251.7,269.0 1251.3,267.5 1250.9,266.0 1250.6,264.5 1250.2,263.0 1249.9,261.5 1249.5,260.0 1249.1,258.5 1248.6,257.0 1248.2,255.5 1248.0,254.0 1247.8,252.5 1247.8,251.0 1247.8,249.5 1247.8,248.0 1247.8,246.5 1247.8,245.0 1247.8,243.5 1247.8,242.0 1247.8,240.5 1247.8,239.0 1247.8,237.5 1247.8,236.0 1247.8,234.5 1247.8,233.0 1247.8,231.5 1247.8,230.0 1247.8,228.5 1247.8,227.0 1247.8,225.5 1247.8,224.0 1247.8,222.5 1247.8,221.0 1247.4,219.5 1247.1,218.0 1247.0,216.5 1247.0,215.0 1247.0,213.5 1247.0,212.0 1247.0,210.5 1247.0,209.0 1247.0,207.5 1247.0,206.0 1247.0,204.5 1247.0,203.0 1247.0,201.5 1247.0,200.0 1247.0,198.5 1247.0,197.0 1247.0,195.5 1247.0,194.0"/></g>
<path d="M1242.4 224.0h9.2M1242.4 254.0h9.2M1242.4 275.7h9.2M1242.4 283.0h9.2M1242.4 286.0h9.2M1242.4 294.0h9.2M1242.4 296.5h9.2M1242.4 299.5h9.2M1242.4 302.0h9.2M1242.4 304.5h9.2M1242.4 317.5h9.2M1242.4 320.5h9.2M1242.4 325.5h9.2M1242.4 329.3h9.2M1242.4 345.4h9.2M1242.4 347.4h9.2M1242.4 352.5h9.2M1242.4 357.1h9.2M1242.4 369.0h9.2" stroke="#A6761D" stroke-width="2.0" fill="none"/>
<path d="M1244.1 224.0h5.8M1244.1 254.0h5.9M1242.4 275.7h9.2M1242.4 283.0h9.2M1242.4 286.0h9.2M1242.4 294.0h9.2M1242.4 296.5h9.2M1242.4 299.5h9.2M1242.4 302.0h9.2M1242.4 304.5h9.2M1242.4 317.5h9.2M1242.4 320.5h9.2M1242.4 325.5h9.2M1242.4 329.3h9.2M1242.4 345.4h9.2M1242.4 347.4h9.2M1242.4 352.5h9.2M1242.5 357.1h9.0M1243.3 369.0h7.4" stroke="#fff" stroke-width="2.0" fill="none"/>
<path d="M1224.0 311.1h46.0" stroke="#fff" stroke-width="4.0" fill="none"/>
<g fill="#666666" stroke="#666666" stroke-width="1" shape-rendering="crispEdges"><polygon points="1291.4,205.1 1291.1,206.6 1291.0,208.1 1291.0,209.6 1291.0,211.1 1291.0,212.6 1291.0,214.1 1291.0,215.6 1291.0,217.1 1291.0,218.6 1291.0,220.1 1291.0,221.6 1291.0,223.1 1291.0,224.6 1290.9,226.1 1290.7,227.6 1290.5,229.1 1290.3,230.6 1290.1,232.1 1289.8,233.6 1289.6,235.1 1289.3,236.6 1289.0,238.1 1288.8,239.6 1288.5,241.1 1288.2,242.6 1287.9,244.1 1287.6,245.6 1287.2,247.1 1286.9,248.6 1286.6,250.1 1286.2,251.6 1285.9,253.1 1285.6,254.6 1285.3,256.1 1285.0,257.6 1284.7,259.1 1284.4,260.6 1284.2,262.1 1283.9,263.6 1283.6,265.1 1283.4,266.6 1283.3,268.1 1283.2,269.6 1283.1,271.1 1283.0,272.6 1283.0,274.1 1283.1,275.6 1283.2,277.1 1283.4,278.6 1283.5,280.1 1283.6,281.6 1283.7,283.1 1283.8,284.6 1283.9,286.1 1284.0,287.6 1284.1,289.1 1284.1,290.6 1284.2,292.1 1284.2,293.6 1284.2,295.1 1284.2,296.6 1284.2,298.1 1284.2,299.6 1284.2,301.1 1284.2,302.6 1284.1,304.1 1284.1,305.6 1284.1,307.1 1284.1,308.6 1284.1,310.1 1284.1,311.6 1284.1,313.1 1284.1,314.6 1284.1,316.1 1284.1,317.6 1284.1,319.1 1284.1,320.6 1284.1,322.1 1284.1,323.6 1284.2,325.1 1284.3,326.6 1284.5,328.1 1284.8,329.6 1285.0,331.1 1285.2,332.6 1285.4,334.1 1285.6,335.6 1285.8,337.1 1286.0,338.6 1286.1,340.1 1286.3,341.6 1286.4,343.1 1286.6,344.6 1286.7,346.1 1286.9,347.6 1287.1,349.1 1287.3,350.6 1287.4,352.1 1287.6,353.6 1287.7,355.1 1287.8,356.6 1287.9,358.1 1288.0,359.6 1288.2,361.1 1288.4,362.6 1288.6,364.1 1288.7,365.6 1288.9,367.1 1289.0,368.6 1289.2,370.1 1289.3,371.6 1289.5,373.1 1289.6,374.6 1289.8,376.1 1290.0,377.6 1290.1,379.1 1290.2,380.6 1290.3,382.1 1290.3,383.6 1290.4,385.1 1290.4,386.6 1290.4,388.1 1290.5,389.6 1290.5,391.1 1290.5,392.6 1290.5,394.1 1290.5,395.6 1290.5,397.1 1290.5,398.6 1290.5,400.1 1290.5,401.6 1290.5,403.1 1290.5,404.6 1290.5,406.1 1290.5,407.6 1290.5,409.1 1290.5,410.6 1290.5,412.1 1290.5,413.6 1290.6,415.1 1290.6,416.6 1290.6,418.1 1290.6,419.6 1290.7,421.1 1290.7,422.6 1290.7,424.1 1290.7,425.6 1290.8,427.1 1290.8,428.6 1290.9,430.1 1290.9,431.6 1290.9,433.1 1291.0,434.6 1291.0,436.1 1291.0,437.6 1291.0,439.1 1291.0,440.6 1291.0,442.1 1291.1,443.6 1291.1,445.1 1291.1,446.6 1291.1,448.1 1291.1,449.6 1291.1,451.1 1291.1,452.6 1291.1,454.1 1291.1,455.6 1291.2,457.1 1291.2,458.6 1291.2,460.1 1291.2,461.6 1291.3,463.1 1291.3,464.6 1291.3,466.1 1291.4,467.6 1291.5,469.1 1291.5,470.6 1291.5,472.1 1291.5,473.6 1291.5,475.1 1291.5,476.6 1291.5,477.9 1291.5,477.9 1291.5,476.6 1291.5,475.1 1291.5,473.6 1291.5,472.1 1291.5,470.6 1291.6,469.1 1291.6,467.6 1291.7,466.1 1291.7,464.6 1291.8,463.1 1291.8,461.6 1291.8,460.1 1291.8,458.6 1291.9,457.1 1291.9,455.6 1291.9,454.1 1291.9,452.6 1291.9,451.1 1291.9,449.6 1291.9,448.1 1291.9,446.6 1292.0,445.1 1292.0,443.6 1292.0,442.1 1292.0,440.6 1292.0,439.1 1292.0,437.6 1292.0,436.1 1292.1,434.6 1292.1,433.1 1292.1,431.6 1292.2,430.1 1292.2,428.6 1292.2,427.1 1292.3,425.6 1292.3,424.1 1292.3,422.6 1292.4,421.1 1292.4,419.6 1292.4,418.1 1292.4,416.6 1292.5,415.1 1292.5,413.6 1292.5,412.1 1292.5,410.6 1292.5,409.1 1292.5,407.6 1292.5,406.1 1292.5,404.6 1292.5,403.1 1292.5,401.6 1292.5,400.1 1292.5,398.6 1292.5,397.1 1292.5,395.6 1292.5,394.1 1292.5,392.6 1292.5,391.1 1292.6,389.6 1292.6,388.1 1292.6,386.6 1292.7,385.1 1292.7,383.6 1292.8,382.1 1292.8,380.6 1292.9,379.1 1293.1,377.6 1293.2,376.1 1293.4,374.6 1293.6,373.1 1293.7,371.6 1293.8,370.1 1294.0,368.6 1294.1,367.1 1294.3,365.6 1294.5,364.1 1294.6,362.6 1294.8,361.1 1295.0,359.6 1295.1,358.1 1295.2,356.6 1295.4,355.1 1295.5,353.6 1295.6,352.1 1295.8,350.6 1295.9,349.1 1296.1,347.6 1296.3,346.1 1296.5,344.6 1296.6,343.1 1296.7,341.6 1296.9,340.1 1297.0,338.6 1297.2,337.1 1297.4,335.6 1297.6,334.1 1297.9,332.6 1298.1,331.1 1298.3,329.6 1298.5,328.1 1298.7,326.6 1298.8,325.1 1298.9,323.6 1298.9,322.1 1298.9,320.6 1298.9,319.1 1298.9,317.6 1298.9,316.1 1298.9,314.6 1298.9,313.1 1298.9,311.6 1298.9,310.1 1298.9,308.6 1298.9,307.1 1298.9,305.6 1298.9,304.1 1298.9,302.6 1298.8,301.1 1298.8,299.6 1298.8,298.1 1298.8,296.6 1298.8,295.1 1298.8,293.6 1298.8,292.1 1298.9,290.6 1299.0,289.1 1299.0,287.6 1299.1,286.1 1299.2,284.6 1299.3,283.1 1299.4,281.6 1299.5,280.1 1299.6,278.6 1299.8,277.1 1299.9,275.6 1300.0,274.1 1300.0,272.6 1299.9,271.1 1299.8,269.6 1299.7,268.1 1299.6,266.6 1299.4,265.1 1299.2,263.6 1298.9,262.1 1298.6,260.6 1298.3,259.1 1298.0,257.6 1297.7,256.1 1297.4,254.6 1297.1,253.1 1296.8,251.6 1296.5,250.1 1296.1,248.6 1295.8,247.1 1295.5,245.6 1295.1,244.1 1294.8,242.6 1294.5,241.1 1294.2,239.6 1294.0,238.1 1293.7,236.6 1293.4,235.1 1293.2,233.6 1293.0,232.1 1292.7,230.6 1292.5,229.1 1292.3,227.6 1292.1,226.1 1292.0,224.6 1292.0,223.1 1292.0,221.6 1292.0,220.1 1292.0,218.6 1292.0,217.1 1292.0,215.6 1292.0,214.1 1292.0,212.6 1292.0,211.1 1292.0,209.6 1292.0,208.1 1291.9,206.6 1291.6,205.1"/></g>
<path d="M1286.9 227.6h9.2M1286.9 258.3h9.2M1286.9 261.9h9.2M1286.9 267.6h9.2M1286.9 270.5h9.2M1286.9 273.3h9.2M1286.9 278.7h9.2M1286.9 284.7h9.2M1286.9 298.6h9.2M1286.9 301.4h9.2M1286.9 313.0h9.2M1286.9 315.5h9.2M1286.9 327.6h9.2M1286.9 336.4h9.2M1286.9 341.0h9.2M1286.9 348.6h9.2M1286.9 356.4h9.2M1286.9 364.3h9.2M1286.9 387.6h9.2M1286.9 415.7h9.2M1286.9 454.6h9.2" stroke="#666666" stroke-width="2.0" fill="none"/>
<path d="M1288.8 227.6h5.5M1286.9 258.3h9.2M1286.9 261.9h9.2M1286.9 267.6h9.2M1286.9 270.5h9.2M1286.9 273.3h9.2M1286.9 278.7h9.2M1286.9 284.7h9.2M1286.9 298.6h9.2M1286.9 301.4h9.2M1286.9 313.0h9.2M1286.9 315.5h9.2M1286.9 327.6h9.2M1286.9 336.4h9.2M1286.9 341.0h9.2M1286.9 348.6h9.2M1287.3 356.4h8.4M1287.8 364.3h7.4M1288.2 387.6h6.6M1288.4 415.7h6.2M1288.5 454.6h6.0" stroke="#fff" stroke-width="2.0" fill="none"/>
<path d="M1268.5 318.6h46.0" stroke="#fff" stroke-width="4.0" fill="none"/>
</g>
<line x1="184" x2="204" y1="556.0" y2="556.0" stroke="#000" stroke-width="2.1" stroke-linecap="round"/>
<text transform="translate(156,556.6) rotate(-90)" font-size="33.9" text-anchor="middle">4</text>
<line x1="184" x2="204" y1="471.9" y2="471.9" stroke="#000" stroke-width="2.1" stroke-linecap="round"/>
<text transform="translate(156,472.5) rotate(-90)" font-size="33.9" text-anchor="middle">6</text>
<line x1="184" x2="204" y1="387.8" y2="387.8" stroke="#000" stroke-width="2.1" stroke-linecap="round"/>
<text transform="translate(156,388.4) rotate(-90)" font-size="33.9" text-anchor="middle">8</text>
<line x1="184" x2="204" y1="303.6" y2="303.6" stroke="#000" stroke-width="2.1" stroke-linecap="round"/>
<text transform="translate(156,304.2) rotate(-90)" font-size="33.9" text-anchor="middle">10</text>
<line x1="184" x2="204" y1="219.5" y2="219.5" stroke="#000" stroke-width="2.1" stroke-linecap="round"/>
<text transform="translate(156,220.1) rotate(-90)" font-size="33.9" text-anchor="middle">12</text>
<line x1="184" x2="204" y1="135.4" y2="135.4" stroke="#000" stroke-width="2.1" stroke-linecap="round"/>
<text transform="translate(156,136.0) rotate(-90)" font-size="33.9" text-anchor="middle">14</text>
<text transform="translate(76.3,359) rotate(-90)" font-size="33.9" text-anchor="middle">Gene Expression (Array)</text>
<text transform="translate(276.3,608.8) rotate(-60)" font-size="33.9" text-anchor="end" fill="#1B9E77">autonomic_ganglia (17)</text>
<text transform="translate(320.8,608.8) rotate(-60)" font-size="33.9" text-anchor="end" fill="#D95F02">biliary_tract (8)</text>
<text transform="translate(365.2,608.8) rotate(-60)" font-size="33.9" text-anchor="end" fill="#7570B3">bone (29)</text>
<text transform="translate(409.7,608.8) rotate(-60)" font-size="33.9" text-anchor="end" fill="#E7298A">breast (59)</text>
<text transform="translate(454.2,608.8) rotate(-60)" font-size="33.9" text-anchor="end" fill="#66A61E">central_nervous_system (69)</text>
<text transform="translate(498.6,608.8) rotate(-60)" font-size="33.9" text-anchor="end" fill="#E6AB02">endometrium (27)</text>
<text transform="translate(543.1,608.8) rotate(-60)" font-size="33.9" text-anchor="end" fill="#A6761D">haematopoietic_and_lymphoid_tissue (180)</text>
<text transform="translate(587.6,608.8) rotate(-60)" font-size="33.9" text-anchor="end" fill="#666666">kidney (36)</text>
<text transform="translate(632.1,608.8) rotate(-60)" font-size="33.9" text-anchor="end" fill="#1B9E77">large_intestine (61)</text>
<text transform="translate(676.5,608.8) rotate(-60)" font-size="33.9" text-anchor="end" fill="#D95F02">liver (28)</text>
<text transform="translate(721.0,608.8) rotate(-60)" font-size="33.9" text-anchor="end" fill="#7570B3">lung (186)</text>
<text transform="translate(765.5,608.8) rotate(-60)" font-size="33.9" text-anchor="end" fill="#E7298A">oesophagus (26)</text>
<text transform="translate(809.9,608.8) rotate(-60)" font-size="33.9" text-anchor="end" fill="#66A61E">ovary (52)</text>
<text transform="translate(854.4,608.8) rotate(-60)" font-size="33.9" text-anchor="end" fill="#E6AB02">pancreas (44)</text>
<text transform="translate(898.9,608.8) rotate(-60)" font-size="33.9" text-anchor="end" fill="#A6761D">pleura (11)</text>
<text transform="translate(943.4,608.8) rotate(-60)" font-size="33.9" text-anchor="end" fill="#666666">prostate (8)</text>
<text transform="translate(987.8,608.8) rotate(-60)" font-size="33.9" text-anchor="end" fill="#1B9E77">salivary_gland (2)</text>
<text transform="translate(1032.3,608.8) rotate(-60)" font-size="33.9" text-anchor="end" fill="#D95F02">skin (62)</text>
<text transform="translate(1076.8,608.8) rotate(-60)" font-size="33.9" text-anchor="end" fill="#7570B3">small_intestine (1)</text>
<text transform="translate(1121.2,608.8) rotate(-60)" font-size="33.9" text-anchor="end" fill="#E7298A">soft_tissue (21)</text>
<text transform="translate(1165.7,608.8) rotate(-60)" font-size="33.9" text-anchor="end" fill="#66A61E">stomach (38)</text>
<text transform="translate(1210.2,608.8) rotate(-60)" font-size="33.9" text-anchor="end" fill="#E6AB02">thyroid (12)</text>
<text transform="translate(1254.6,608.8) rotate(-60)" font-size="33.9" text-anchor="end" fill="#A6761D">upper_aerodigestive_tract (32)</text>
<text transform="translate(1299.1,608.8) rotate(-60)" font-size="33.9" text-anchor="end" fill="#666666">urinary_tract (27)</text>
</svg>
</body></html>
